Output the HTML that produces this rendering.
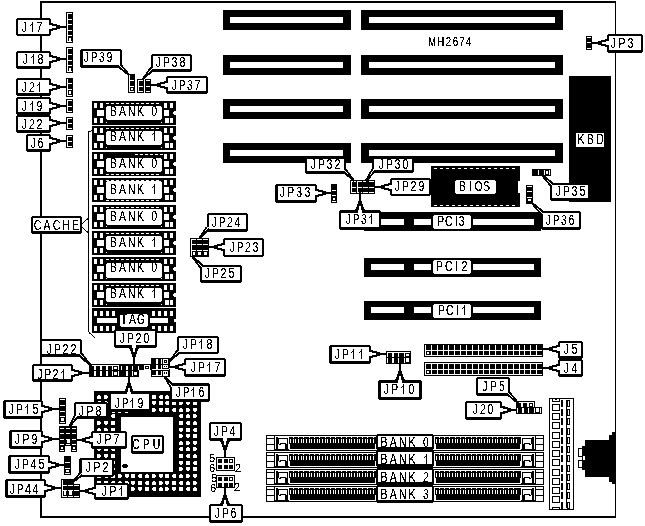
<!DOCTYPE html>
<html><head><meta charset="utf-8"><style>
html,body{margin:0;padding:0;background:#fff;width:645px;height:526px;overflow:hidden}
svg{display:block}
text{font-family:"Liberation Sans",sans-serif;fill:#000}
</style></head><body>
<svg width="645" height="526" viewBox="0 0 645 526">
<defs><filter id="th" filterUnits="userSpaceOnUse" x="0" y="0" width="645" height="526" color-interpolation-filters="sRGB">
<feComponentTransfer><feFuncR type="discrete" tableValues="0 0 0 1 1"/><feFuncG type="discrete" tableValues="0 0 0 1 1"/><feFuncB type="discrete" tableValues="0 0 0 1 1"/></feComponentTransfer></filter></defs>
<g filter="url(#th)"><rect x="0" y="0" width="645" height="526" fill="#fff"/>
<rect x="40" y="1" width="576" height="2" fill="#000"/>
<rect x="40" y="1" width="2" height="517" fill="#000"/>
<rect x="615" y="1" width="1" height="517" fill="#000"/>
<rect x="40" y="516" width="576" height="2" fill="#000"/>
<rect x="223" y="10" width="128" height="20" fill="#000"/>
<rect x="230" y="17" width="113" height="6" fill="#fff"/>
<rect x="361" y="10" width="202" height="20" fill="#000"/>
<rect x="369" y="17" width="186" height="6" fill="#fff"/>
<rect x="223" y="55" width="128" height="20" fill="#000"/>
<rect x="230" y="62" width="113" height="6" fill="#fff"/>
<rect x="361" y="55" width="202" height="20" fill="#000"/>
<rect x="369" y="62" width="186" height="6" fill="#fff"/>
<rect x="223" y="99" width="128" height="20" fill="#000"/>
<rect x="230" y="106" width="113" height="6" fill="#fff"/>
<rect x="361" y="99" width="202" height="20" fill="#000"/>
<rect x="369" y="106" width="186" height="6" fill="#fff"/>
<rect x="223" y="143" width="128" height="20" fill="#000"/>
<rect x="230" y="150" width="113" height="6" fill="#fff"/>
<rect x="361" y="143" width="202" height="20" fill="#000"/>
<rect x="369" y="150" width="186" height="6" fill="#fff"/>
<text transform="translate(432,46) scale(0.75,1)" font-size="13" text-anchor="middle">M</text>
<text transform="translate(440.7,46) scale(0.75,1)" font-size="13" text-anchor="middle">H</text>
<text transform="translate(448.4,46) scale(0.75,1)" font-size="13" text-anchor="middle">2</text>
<text transform="translate(455.5,46) scale(0.75,1)" font-size="13" text-anchor="middle">6</text>
<text transform="translate(461.9,46) scale(0.75,1)" font-size="13" text-anchor="middle">7</text>
<text transform="translate(468.5,46) scale(0.75,1)" font-size="13" text-anchor="middle">4</text>
<rect x="569" y="76" width="42" height="126" fill="#000"/>
<rect x="576" y="133" width="28" height="14" rx="0" fill="#fff"/>
<text transform="translate(581.00,144) scale(0.75,1)" font-size="14" text-anchor="middle">K</text>
<text transform="translate(590.50,144) scale(0.75,1)" font-size="14" text-anchor="middle">B</text>
<text transform="translate(600.00,144) scale(0.75,1)" font-size="14" text-anchor="middle">D</text>
<rect x="431" y="166" width="89" height="41" fill="#000"/>
<rect x="434" y="168" width="3" height="1" fill="#fff"/>
<rect x="434" y="205" width="3" height="1" fill="#fff"/>
<rect x="440" y="168" width="3" height="1" fill="#fff"/>
<rect x="440" y="205" width="3" height="1" fill="#fff"/>
<rect x="446" y="168" width="3" height="1" fill="#fff"/>
<rect x="446" y="205" width="3" height="1" fill="#fff"/>
<rect x="452" y="168" width="3" height="1" fill="#fff"/>
<rect x="452" y="205" width="3" height="1" fill="#fff"/>
<rect x="458" y="168" width="3" height="1" fill="#fff"/>
<rect x="458" y="205" width="3" height="1" fill="#fff"/>
<rect x="464" y="168" width="3" height="1" fill="#fff"/>
<rect x="464" y="205" width="3" height="1" fill="#fff"/>
<rect x="470" y="168" width="3" height="1" fill="#fff"/>
<rect x="470" y="205" width="3" height="1" fill="#fff"/>
<rect x="476" y="168" width="3" height="1" fill="#fff"/>
<rect x="476" y="205" width="3" height="1" fill="#fff"/>
<rect x="482" y="168" width="3" height="1" fill="#fff"/>
<rect x="482" y="205" width="3" height="1" fill="#fff"/>
<rect x="488" y="168" width="3" height="1" fill="#fff"/>
<rect x="488" y="205" width="3" height="1" fill="#fff"/>
<rect x="494" y="168" width="3" height="1" fill="#fff"/>
<rect x="494" y="205" width="3" height="1" fill="#fff"/>
<rect x="500" y="168" width="3" height="1" fill="#fff"/>
<rect x="500" y="205" width="3" height="1" fill="#fff"/>
<rect x="506" y="168" width="3" height="1" fill="#fff"/>
<rect x="506" y="205" width="3" height="1" fill="#fff"/>
<rect x="512" y="168" width="3" height="1" fill="#fff"/>
<rect x="512" y="205" width="3" height="1" fill="#fff"/>
<rect x="518" y="181" width="2" height="12" fill="#fff"/>
<rect x="455" y="180" width="41" height="14" rx="2" fill="#fff"/>
<text transform="translate(462.50,191) scale(0.75,1)" font-size="14" text-anchor="middle">B</text>
<text transform="translate(470.50,191) scale(0.75,1)" font-size="14" text-anchor="middle">I</text>
<text transform="translate(478.50,191) scale(0.75,1)" font-size="14" text-anchor="middle">O</text>
<text transform="translate(486.50,191) scale(0.75,1)" font-size="14" text-anchor="middle">S</text>
<rect x="364" y="212" width="177" height="19" fill="#000"/>
<rect x="371" y="219" width="33" height="6" fill="#fff"/>
<rect x="414" y="219" width="17" height="6" fill="#fff"/>
<rect x="473" y="219" width="61" height="6" fill="#fff"/>
<rect x="433" y="215" width="38" height="14" rx="2" fill="#fff"/>
<text transform="translate(440.7,226) scale(0.75,1)" font-size="14" text-anchor="middle">P</text>
<text transform="translate(448.8,226) scale(0.75,1)" font-size="14" text-anchor="middle">C</text>
<text transform="translate(456.2,226) scale(0.75,1)" font-size="14" text-anchor="middle">I</text>
<text transform="translate(461.7,226) scale(0.75,1)" font-size="14" text-anchor="middle">3</text>
<rect x="364" y="258" width="177" height="19" fill="#000"/>
<rect x="371" y="264" width="33" height="6" fill="#fff"/>
<rect x="414" y="264" width="17" height="6" fill="#fff"/>
<rect x="473" y="264" width="61" height="6" fill="#fff"/>
<rect x="433" y="260" width="38" height="14" rx="2" fill="#fff"/>
<text transform="translate(439.4,271) scale(0.75,1)" font-size="14" text-anchor="middle">P</text>
<text transform="translate(448.7,271) scale(0.75,1)" font-size="14" text-anchor="middle">C</text>
<text transform="translate(456.3,271) scale(0.75,1)" font-size="14" text-anchor="middle">I</text>
<text transform="translate(464.3,271) scale(0.75,1)" font-size="14" text-anchor="middle">2</text>
<rect x="364" y="301" width="177" height="19" fill="#000"/>
<rect x="371" y="307" width="33" height="6" fill="#fff"/>
<rect x="414" y="307" width="17" height="6" fill="#fff"/>
<rect x="473" y="307" width="61" height="6" fill="#fff"/>
<rect x="433" y="304" width="38" height="14" rx="2" fill="#fff"/>
<text transform="translate(441.6,315) scale(0.75,1)" font-size="14" text-anchor="middle">P</text>
<text transform="translate(449.8,315) scale(0.75,1)" font-size="14" text-anchor="middle">C</text>
<text transform="translate(457.3,315) scale(0.75,1)" font-size="14" text-anchor="middle">I</text>
<rect x="464" y="305" width="1" height="10" fill="#000"/>
<rect x="463" y="307" width="1" height="1" fill="#000"/>
<rect x="462" y="308" width="1" height="1" fill="#000"/>
<rect x="92" y="101" width="84" height="24" fill="#000"/>
<rect x="94" y="103" width="3" height="5" fill="#fff"/>
<rect x="100" y="103" width="3" height="5" fill="#fff"/>
<rect x="97" y="110" width="7" height="6" fill="#fff"/>
<rect x="94" y="118" width="3" height="5" fill="#fff"/>
<rect x="100" y="118" width="3" height="5" fill="#fff"/>
<rect x="164" y="103" width="3" height="5" fill="#fff"/>
<rect x="170" y="103" width="3" height="5" fill="#fff"/>
<rect x="164" y="110" width="5" height="6" fill="#fff"/>
<rect x="165" y="118" width="4" height="5" fill="#fff"/>
<rect x="170" y="118" width="3" height="5" fill="#fff"/>
<rect x="174" y="111" width="2" height="4" fill="#fff"/>
<rect x="173" y="112" width="1" height="2" fill="#fff"/>
<rect x="106" y="103" width="3" height="1" fill="#fff"/>
<rect x="111" y="103" width="3" height="1" fill="#fff"/>
<rect x="116" y="103" width="3" height="1" fill="#fff"/>
<rect x="121" y="103" width="3" height="1" fill="#fff"/>
<rect x="126" y="103" width="3" height="1" fill="#fff"/>
<rect x="131" y="103" width="3" height="1" fill="#fff"/>
<rect x="136" y="103" width="3" height="1" fill="#fff"/>
<rect x="141" y="103" width="3" height="1" fill="#fff"/>
<rect x="146" y="103" width="3" height="1" fill="#fff"/>
<rect x="151" y="103" width="3" height="1" fill="#fff"/>
<rect x="156" y="103" width="3" height="1" fill="#fff"/>
<rect x="106" y="106" width="56" height="14" rx="2" fill="#fff"/>
<rect x="106" y="122" width="1" height="1" fill="#fff"/>
<rect x="161" y="122" width="1" height="1" fill="#fff"/>
<text transform="translate(113.50,116) scale(0.75,1)" font-size="14" text-anchor="middle">B</text>
<text transform="translate(122.52,116) scale(0.75,1)" font-size="14" text-anchor="middle">A</text>
<text transform="translate(131.54,116) scale(0.75,1)" font-size="14" text-anchor="middle">N</text>
<text transform="translate(140.57,116) scale(0.75,1)" font-size="14" text-anchor="middle">K</text>
<text transform="translate(154.10,116) scale(0.75,1)" font-size="14" text-anchor="middle">0</text>
<rect x="92" y="126" width="84" height="24" fill="#000"/>
<rect x="94" y="128" width="3" height="5" fill="#fff"/>
<rect x="100" y="128" width="3" height="5" fill="#fff"/>
<rect x="97" y="135" width="7" height="6" fill="#fff"/>
<rect x="94" y="143" width="3" height="5" fill="#fff"/>
<rect x="100" y="143" width="3" height="5" fill="#fff"/>
<rect x="164" y="128" width="3" height="5" fill="#fff"/>
<rect x="170" y="128" width="3" height="5" fill="#fff"/>
<rect x="164" y="135" width="5" height="6" fill="#fff"/>
<rect x="165" y="143" width="4" height="5" fill="#fff"/>
<rect x="170" y="143" width="3" height="5" fill="#fff"/>
<rect x="174" y="136" width="2" height="4" fill="#fff"/>
<rect x="173" y="137" width="1" height="2" fill="#fff"/>
<rect x="106" y="128" width="3" height="1" fill="#fff"/>
<rect x="111" y="128" width="3" height="1" fill="#fff"/>
<rect x="116" y="128" width="3" height="1" fill="#fff"/>
<rect x="121" y="128" width="3" height="1" fill="#fff"/>
<rect x="126" y="128" width="3" height="1" fill="#fff"/>
<rect x="131" y="128" width="3" height="1" fill="#fff"/>
<rect x="136" y="128" width="3" height="1" fill="#fff"/>
<rect x="141" y="128" width="3" height="1" fill="#fff"/>
<rect x="146" y="128" width="3" height="1" fill="#fff"/>
<rect x="151" y="128" width="3" height="1" fill="#fff"/>
<rect x="156" y="128" width="3" height="1" fill="#fff"/>
<rect x="106" y="131" width="56" height="14" rx="2" fill="#fff"/>
<rect x="106" y="147" width="1" height="1" fill="#fff"/>
<rect x="161" y="147" width="1" height="1" fill="#fff"/>
<text transform="translate(113.50,141) scale(0.75,1)" font-size="14" text-anchor="middle">B</text>
<text transform="translate(122.52,141) scale(0.75,1)" font-size="14" text-anchor="middle">A</text>
<text transform="translate(131.54,141) scale(0.75,1)" font-size="14" text-anchor="middle">N</text>
<text transform="translate(140.57,141) scale(0.75,1)" font-size="14" text-anchor="middle">K</text>
<rect x="154" y="131" width="1" height="10" fill="#000"/>
<rect x="153" y="133" width="1" height="1" fill="#000"/>
<rect x="152" y="134" width="1" height="1" fill="#000"/>
<rect x="92" y="152" width="84" height="24" fill="#000"/>
<rect x="94" y="154" width="3" height="5" fill="#fff"/>
<rect x="100" y="154" width="3" height="5" fill="#fff"/>
<rect x="97" y="161" width="7" height="6" fill="#fff"/>
<rect x="94" y="169" width="3" height="5" fill="#fff"/>
<rect x="100" y="169" width="3" height="5" fill="#fff"/>
<rect x="164" y="154" width="3" height="5" fill="#fff"/>
<rect x="170" y="154" width="3" height="5" fill="#fff"/>
<rect x="164" y="161" width="5" height="6" fill="#fff"/>
<rect x="165" y="169" width="4" height="5" fill="#fff"/>
<rect x="170" y="169" width="3" height="5" fill="#fff"/>
<rect x="174" y="162" width="2" height="4" fill="#fff"/>
<rect x="173" y="163" width="1" height="2" fill="#fff"/>
<rect x="135" y="154" width="3" height="1" fill="#fff"/>
<rect x="140" y="154" width="3" height="1" fill="#fff"/>
<rect x="145" y="154" width="3" height="1" fill="#fff"/>
<rect x="150" y="154" width="3" height="1" fill="#fff"/>
<rect x="155" y="154" width="3" height="1" fill="#fff"/>
<rect x="160" y="154" width="3" height="1" fill="#fff"/>
<rect x="106" y="158" width="56" height="14" rx="2" fill="#fff"/>
<rect x="106" y="174" width="3" height="1" fill="#fff"/>
<rect x="111" y="174" width="3" height="1" fill="#fff"/>
<rect x="116" y="174" width="3" height="1" fill="#fff"/>
<rect x="121" y="174" width="3" height="1" fill="#fff"/>
<rect x="126" y="174" width="3" height="1" fill="#fff"/>
<rect x="131" y="174" width="3" height="1" fill="#fff"/>
<rect x="136" y="174" width="3" height="1" fill="#fff"/>
<rect x="141" y="174" width="3" height="1" fill="#fff"/>
<rect x="146" y="174" width="3" height="1" fill="#fff"/>
<rect x="151" y="174" width="3" height="1" fill="#fff"/>
<rect x="156" y="174" width="3" height="1" fill="#fff"/>
<text transform="translate(113.50,168) scale(0.75,1)" font-size="14" text-anchor="middle">B</text>
<text transform="translate(122.52,168) scale(0.75,1)" font-size="14" text-anchor="middle">A</text>
<text transform="translate(131.54,168) scale(0.75,1)" font-size="14" text-anchor="middle">N</text>
<text transform="translate(140.57,168) scale(0.75,1)" font-size="14" text-anchor="middle">K</text>
<text transform="translate(154.10,168) scale(0.75,1)" font-size="14" text-anchor="middle">0</text>
<rect x="92" y="178" width="84" height="24" fill="#000"/>
<rect x="94" y="180" width="3" height="5" fill="#fff"/>
<rect x="100" y="180" width="3" height="5" fill="#fff"/>
<rect x="97" y="187" width="7" height="6" fill="#fff"/>
<rect x="94" y="195" width="3" height="5" fill="#fff"/>
<rect x="100" y="195" width="3" height="5" fill="#fff"/>
<rect x="164" y="180" width="3" height="5" fill="#fff"/>
<rect x="170" y="180" width="3" height="5" fill="#fff"/>
<rect x="164" y="187" width="5" height="6" fill="#fff"/>
<rect x="165" y="195" width="4" height="5" fill="#fff"/>
<rect x="170" y="195" width="3" height="5" fill="#fff"/>
<rect x="174" y="188" width="2" height="4" fill="#fff"/>
<rect x="173" y="189" width="1" height="2" fill="#fff"/>
<rect x="106" y="180" width="3" height="1" fill="#fff"/>
<rect x="111" y="180" width="3" height="1" fill="#fff"/>
<rect x="116" y="180" width="3" height="1" fill="#fff"/>
<rect x="121" y="180" width="3" height="1" fill="#fff"/>
<rect x="126" y="180" width="3" height="1" fill="#fff"/>
<rect x="131" y="180" width="3" height="1" fill="#fff"/>
<rect x="136" y="180" width="3" height="1" fill="#fff"/>
<rect x="141" y="180" width="3" height="1" fill="#fff"/>
<rect x="146" y="180" width="3" height="1" fill="#fff"/>
<rect x="151" y="180" width="3" height="1" fill="#fff"/>
<rect x="156" y="180" width="3" height="1" fill="#fff"/>
<rect x="106" y="181" width="56" height="18" rx="2" fill="#fff"/>
<rect x="106" y="200" width="3" height="1" fill="#fff"/>
<rect x="111" y="200" width="3" height="1" fill="#fff"/>
<rect x="116" y="200" width="3" height="1" fill="#fff"/>
<rect x="121" y="200" width="3" height="1" fill="#fff"/>
<rect x="126" y="200" width="3" height="1" fill="#fff"/>
<rect x="131" y="200" width="3" height="1" fill="#fff"/>
<rect x="136" y="200" width="3" height="1" fill="#fff"/>
<rect x="141" y="200" width="3" height="1" fill="#fff"/>
<rect x="146" y="200" width="3" height="1" fill="#fff"/>
<rect x="151" y="200" width="3" height="1" fill="#fff"/>
<rect x="156" y="200" width="3" height="1" fill="#fff"/>
<text transform="translate(113.50,194) scale(0.75,1)" font-size="14" text-anchor="middle">B</text>
<text transform="translate(122.52,194) scale(0.75,1)" font-size="14" text-anchor="middle">A</text>
<text transform="translate(131.54,194) scale(0.75,1)" font-size="14" text-anchor="middle">N</text>
<text transform="translate(140.57,194) scale(0.75,1)" font-size="14" text-anchor="middle">K</text>
<rect x="154" y="184" width="1" height="10" fill="#000"/>
<rect x="153" y="186" width="1" height="1" fill="#000"/>
<rect x="152" y="187" width="1" height="1" fill="#000"/>
<rect x="92" y="205" width="84" height="24" fill="#000"/>
<rect x="94" y="207" width="3" height="5" fill="#fff"/>
<rect x="100" y="207" width="3" height="5" fill="#fff"/>
<rect x="97" y="214" width="7" height="6" fill="#fff"/>
<rect x="94" y="222" width="3" height="5" fill="#fff"/>
<rect x="100" y="222" width="3" height="5" fill="#fff"/>
<rect x="164" y="207" width="3" height="5" fill="#fff"/>
<rect x="170" y="207" width="3" height="5" fill="#fff"/>
<rect x="164" y="214" width="5" height="6" fill="#fff"/>
<rect x="165" y="222" width="4" height="5" fill="#fff"/>
<rect x="170" y="222" width="3" height="5" fill="#fff"/>
<rect x="174" y="215" width="2" height="4" fill="#fff"/>
<rect x="173" y="216" width="1" height="2" fill="#fff"/>
<rect x="106" y="207" width="3" height="1" fill="#fff"/>
<rect x="111" y="207" width="3" height="1" fill="#fff"/>
<rect x="116" y="207" width="3" height="1" fill="#fff"/>
<rect x="121" y="207" width="3" height="1" fill="#fff"/>
<rect x="126" y="207" width="3" height="1" fill="#fff"/>
<rect x="131" y="207" width="3" height="1" fill="#fff"/>
<rect x="136" y="207" width="3" height="1" fill="#fff"/>
<rect x="141" y="207" width="3" height="1" fill="#fff"/>
<rect x="146" y="207" width="3" height="1" fill="#fff"/>
<rect x="151" y="207" width="3" height="1" fill="#fff"/>
<rect x="156" y="207" width="3" height="1" fill="#fff"/>
<rect x="106" y="209" width="56" height="16" rx="2" fill="#fff"/>
<rect x="106" y="226" width="1" height="1" fill="#fff"/>
<rect x="161" y="226" width="1" height="1" fill="#fff"/>
<text transform="translate(113.50,221) scale(0.75,1)" font-size="14" text-anchor="middle">B</text>
<text transform="translate(122.52,221) scale(0.75,1)" font-size="14" text-anchor="middle">A</text>
<text transform="translate(131.54,221) scale(0.75,1)" font-size="14" text-anchor="middle">N</text>
<text transform="translate(140.57,221) scale(0.75,1)" font-size="14" text-anchor="middle">K</text>
<text transform="translate(154.10,221) scale(0.75,1)" font-size="14" text-anchor="middle">0</text>
<rect x="92" y="231" width="84" height="24" fill="#000"/>
<rect x="94" y="233" width="3" height="5" fill="#fff"/>
<rect x="100" y="233" width="3" height="5" fill="#fff"/>
<rect x="97" y="240" width="7" height="6" fill="#fff"/>
<rect x="94" y="248" width="3" height="5" fill="#fff"/>
<rect x="100" y="248" width="3" height="5" fill="#fff"/>
<rect x="164" y="233" width="3" height="5" fill="#fff"/>
<rect x="170" y="233" width="3" height="5" fill="#fff"/>
<rect x="164" y="240" width="5" height="6" fill="#fff"/>
<rect x="165" y="248" width="4" height="5" fill="#fff"/>
<rect x="170" y="248" width="3" height="5" fill="#fff"/>
<rect x="174" y="241" width="2" height="4" fill="#fff"/>
<rect x="173" y="242" width="1" height="2" fill="#fff"/>
<rect x="106" y="233" width="3" height="1" fill="#fff"/>
<rect x="111" y="233" width="3" height="1" fill="#fff"/>
<rect x="116" y="233" width="3" height="1" fill="#fff"/>
<rect x="121" y="233" width="3" height="1" fill="#fff"/>
<rect x="126" y="233" width="3" height="1" fill="#fff"/>
<rect x="131" y="233" width="3" height="1" fill="#fff"/>
<rect x="136" y="233" width="3" height="1" fill="#fff"/>
<rect x="141" y="233" width="3" height="1" fill="#fff"/>
<rect x="146" y="233" width="3" height="1" fill="#fff"/>
<rect x="151" y="233" width="3" height="1" fill="#fff"/>
<rect x="156" y="233" width="3" height="1" fill="#fff"/>
<rect x="106" y="236" width="56" height="14" rx="2" fill="#fff"/>
<rect x="106" y="252" width="1" height="1" fill="#fff"/>
<rect x="161" y="252" width="1" height="1" fill="#fff"/>
<text transform="translate(113.50,247) scale(0.75,1)" font-size="14" text-anchor="middle">B</text>
<text transform="translate(122.52,247) scale(0.75,1)" font-size="14" text-anchor="middle">A</text>
<text transform="translate(131.54,247) scale(0.75,1)" font-size="14" text-anchor="middle">N</text>
<text transform="translate(140.57,247) scale(0.75,1)" font-size="14" text-anchor="middle">K</text>
<rect x="154" y="237" width="1" height="10" fill="#000"/>
<rect x="153" y="239" width="1" height="1" fill="#000"/>
<rect x="152" y="240" width="1" height="1" fill="#000"/>
<rect x="92" y="257" width="84" height="24" fill="#000"/>
<rect x="94" y="259" width="3" height="5" fill="#fff"/>
<rect x="100" y="259" width="3" height="5" fill="#fff"/>
<rect x="97" y="266" width="7" height="6" fill="#fff"/>
<rect x="94" y="274" width="3" height="5" fill="#fff"/>
<rect x="100" y="274" width="3" height="5" fill="#fff"/>
<rect x="164" y="259" width="3" height="5" fill="#fff"/>
<rect x="170" y="259" width="3" height="5" fill="#fff"/>
<rect x="164" y="266" width="5" height="6" fill="#fff"/>
<rect x="165" y="274" width="4" height="5" fill="#fff"/>
<rect x="170" y="274" width="3" height="5" fill="#fff"/>
<rect x="174" y="267" width="2" height="4" fill="#fff"/>
<rect x="173" y="268" width="1" height="2" fill="#fff"/>
<rect x="106" y="259" width="3" height="1" fill="#fff"/>
<rect x="111" y="259" width="3" height="1" fill="#fff"/>
<rect x="116" y="259" width="3" height="1" fill="#fff"/>
<rect x="121" y="259" width="3" height="1" fill="#fff"/>
<rect x="126" y="259" width="3" height="1" fill="#fff"/>
<rect x="131" y="259" width="3" height="1" fill="#fff"/>
<rect x="136" y="259" width="3" height="1" fill="#fff"/>
<rect x="141" y="259" width="3" height="1" fill="#fff"/>
<rect x="146" y="259" width="3" height="1" fill="#fff"/>
<rect x="151" y="259" width="3" height="1" fill="#fff"/>
<rect x="156" y="259" width="3" height="1" fill="#fff"/>
<rect x="106" y="263" width="56" height="15" rx="2" fill="#fff"/>
<rect x="106" y="278" width="1" height="1" fill="#fff"/>
<rect x="161" y="278" width="1" height="1" fill="#fff"/>
<text transform="translate(113.50,272) scale(0.75,1)" font-size="14" text-anchor="middle">B</text>
<text transform="translate(122.52,272) scale(0.75,1)" font-size="14" text-anchor="middle">A</text>
<text transform="translate(131.54,272) scale(0.75,1)" font-size="14" text-anchor="middle">N</text>
<text transform="translate(140.57,272) scale(0.75,1)" font-size="14" text-anchor="middle">K</text>
<text transform="translate(154.10,272) scale(0.75,1)" font-size="14" text-anchor="middle">0</text>
<rect x="92" y="283" width="84" height="24" fill="#000"/>
<rect x="94" y="285" width="3" height="5" fill="#fff"/>
<rect x="100" y="285" width="3" height="5" fill="#fff"/>
<rect x="97" y="292" width="7" height="6" fill="#fff"/>
<rect x="94" y="300" width="3" height="5" fill="#fff"/>
<rect x="100" y="300" width="3" height="5" fill="#fff"/>
<rect x="164" y="285" width="3" height="5" fill="#fff"/>
<rect x="170" y="285" width="3" height="5" fill="#fff"/>
<rect x="164" y="292" width="5" height="6" fill="#fff"/>
<rect x="165" y="300" width="4" height="5" fill="#fff"/>
<rect x="170" y="300" width="3" height="5" fill="#fff"/>
<rect x="174" y="293" width="2" height="4" fill="#fff"/>
<rect x="173" y="294" width="1" height="2" fill="#fff"/>
<rect x="106" y="285" width="3" height="1" fill="#fff"/>
<rect x="111" y="285" width="3" height="1" fill="#fff"/>
<rect x="116" y="285" width="3" height="1" fill="#fff"/>
<rect x="121" y="285" width="3" height="1" fill="#fff"/>
<rect x="126" y="285" width="3" height="1" fill="#fff"/>
<rect x="131" y="285" width="3" height="1" fill="#fff"/>
<rect x="136" y="285" width="3" height="1" fill="#fff"/>
<rect x="141" y="285" width="3" height="1" fill="#fff"/>
<rect x="146" y="285" width="3" height="1" fill="#fff"/>
<rect x="151" y="285" width="3" height="1" fill="#fff"/>
<rect x="156" y="285" width="3" height="1" fill="#fff"/>
<rect x="106" y="288" width="56" height="14" rx="2" fill="#fff"/>
<rect x="106" y="304" width="1" height="1" fill="#fff"/>
<rect x="161" y="304" width="1" height="1" fill="#fff"/>
<text transform="translate(113.50,298) scale(0.75,1)" font-size="14" text-anchor="middle">B</text>
<text transform="translate(122.52,298) scale(0.75,1)" font-size="14" text-anchor="middle">A</text>
<text transform="translate(131.54,298) scale(0.75,1)" font-size="14" text-anchor="middle">N</text>
<text transform="translate(140.57,298) scale(0.75,1)" font-size="14" text-anchor="middle">K</text>
<rect x="154" y="288" width="1" height="10" fill="#000"/>
<rect x="153" y="290" width="1" height="1" fill="#000"/>
<rect x="152" y="291" width="1" height="1" fill="#000"/>
<rect x="92" y="308" width="84" height="25" fill="#000"/>
<rect x="94" y="311" width="3" height="5" fill="#fff"/>
<rect x="94" y="326" width="3" height="5" fill="#fff"/>
<rect x="100" y="311" width="3" height="5" fill="#fff"/>
<rect x="100" y="326" width="3" height="5" fill="#fff"/>
<rect x="106" y="311" width="3" height="5" fill="#fff"/>
<rect x="106" y="326" width="3" height="5" fill="#fff"/>
<rect x="112" y="311" width="3" height="5" fill="#fff"/>
<rect x="112" y="326" width="3" height="5" fill="#fff"/>
<rect x="152" y="311" width="3" height="5" fill="#fff"/>
<rect x="152" y="326" width="3" height="5" fill="#fff"/>
<rect x="158" y="311" width="3" height="5" fill="#fff"/>
<rect x="158" y="326" width="3" height="5" fill="#fff"/>
<rect x="164" y="311" width="3" height="5" fill="#fff"/>
<rect x="164" y="326" width="3" height="5" fill="#fff"/>
<rect x="170" y="311" width="3" height="5" fill="#fff"/>
<rect x="170" y="326" width="3" height="5" fill="#fff"/>
<rect x="97" y="318" width="20" height="5" fill="#fff"/>
<rect x="150" y="318" width="18" height="5" fill="#fff"/>
<rect x="174" y="319" width="2" height="3" fill="#fff"/>
<rect x="120" y="314" width="28" height="13" rx="2" fill="#fff"/>
<text transform="translate(124.00,324) scale(0.75,1)" font-size="14" text-anchor="middle">T</text>
<text transform="translate(132.50,324) scale(0.75,1)" font-size="14" text-anchor="middle">A</text>
<text transform="translate(141.00,324) scale(0.75,1)" font-size="14" text-anchor="middle">G</text>
<polyline points="88.5,132 88.5,332 95,338" fill="none" stroke="#000" stroke-width="1" stroke-linejoin="miter" stroke-linecap="square"/>
<rect x="89" y="131" width="2" height="1" fill="#000"/>
<rect x="91" y="130" width="1" height="1" fill="#000"/>
<rect x="94" y="391" width="107" height="106" fill="#000"/>
<rect x="97" y="395" width="4" height="4" fill="#fff"/>
<rect x="97" y="395" width="1" height="1" fill="#000"/>
<rect x="100" y="395" width="1" height="1" fill="#000"/>
<rect x="104" y="395" width="4" height="4" fill="#fff"/>
<rect x="107" y="395" width="1" height="1" fill="#000"/>
<rect x="107" y="398" width="1" height="1" fill="#000"/>
<rect x="111" y="395" width="4" height="4" fill="#fff"/>
<rect x="111" y="398" width="1" height="1" fill="#000"/>
<rect x="114" y="398" width="1" height="1" fill="#000"/>
<rect x="118" y="395" width="4" height="4" fill="#fff"/>
<rect x="125" y="395" width="4" height="4" fill="#fff"/>
<rect x="125" y="395" width="1" height="1" fill="#000"/>
<rect x="125" y="398" width="1" height="1" fill="#000"/>
<rect x="131" y="395" width="4" height="4" fill="#fff"/>
<rect x="131" y="395" width="1" height="1" fill="#000"/>
<rect x="134" y="395" width="1" height="1" fill="#000"/>
<rect x="138" y="395" width="4" height="4" fill="#fff"/>
<rect x="141" y="395" width="1" height="1" fill="#000"/>
<rect x="141" y="398" width="1" height="1" fill="#000"/>
<rect x="145" y="395" width="4" height="4" fill="#fff"/>
<rect x="145" y="398" width="1" height="1" fill="#000"/>
<rect x="148" y="398" width="1" height="1" fill="#000"/>
<rect x="152" y="395" width="4" height="4" fill="#fff"/>
<rect x="159" y="395" width="4" height="4" fill="#fff"/>
<rect x="159" y="395" width="1" height="1" fill="#000"/>
<rect x="159" y="398" width="1" height="1" fill="#000"/>
<rect x="165" y="395" width="4" height="4" fill="#fff"/>
<rect x="165" y="395" width="1" height="1" fill="#000"/>
<rect x="168" y="395" width="1" height="1" fill="#000"/>
<rect x="172" y="395" width="4" height="4" fill="#fff"/>
<rect x="175" y="395" width="1" height="1" fill="#000"/>
<rect x="175" y="398" width="1" height="1" fill="#000"/>
<rect x="179" y="395" width="4" height="4" fill="#fff"/>
<rect x="179" y="398" width="1" height="1" fill="#000"/>
<rect x="182" y="398" width="1" height="1" fill="#000"/>
<rect x="186" y="395" width="4" height="4" fill="#fff"/>
<rect x="193" y="395" width="4" height="4" fill="#fff"/>
<rect x="193" y="395" width="1" height="1" fill="#000"/>
<rect x="193" y="398" width="1" height="1" fill="#000"/>
<rect x="97" y="401" width="4" height="4" fill="#fff"/>
<rect x="97" y="401" width="1" height="1" fill="#000"/>
<rect x="97" y="404" width="1" height="1" fill="#000"/>
<rect x="104" y="401" width="4" height="4" fill="#fff"/>
<rect x="104" y="401" width="1" height="1" fill="#000"/>
<rect x="107" y="401" width="1" height="1" fill="#000"/>
<rect x="111" y="401" width="4" height="4" fill="#fff"/>
<rect x="114" y="401" width="1" height="1" fill="#000"/>
<rect x="114" y="404" width="1" height="1" fill="#000"/>
<rect x="118" y="401" width="4" height="4" fill="#fff"/>
<rect x="118" y="404" width="1" height="1" fill="#000"/>
<rect x="121" y="404" width="1" height="1" fill="#000"/>
<rect x="125" y="401" width="4" height="4" fill="#fff"/>
<rect x="131" y="401" width="4" height="4" fill="#fff"/>
<rect x="131" y="401" width="1" height="1" fill="#000"/>
<rect x="131" y="404" width="1" height="1" fill="#000"/>
<rect x="138" y="401" width="4" height="4" fill="#fff"/>
<rect x="138" y="401" width="1" height="1" fill="#000"/>
<rect x="141" y="401" width="1" height="1" fill="#000"/>
<rect x="145" y="401" width="4" height="4" fill="#fff"/>
<rect x="148" y="401" width="1" height="1" fill="#000"/>
<rect x="148" y="404" width="1" height="1" fill="#000"/>
<rect x="152" y="401" width="4" height="4" fill="#fff"/>
<rect x="152" y="404" width="1" height="1" fill="#000"/>
<rect x="155" y="404" width="1" height="1" fill="#000"/>
<rect x="159" y="401" width="4" height="4" fill="#fff"/>
<rect x="165" y="401" width="4" height="4" fill="#fff"/>
<rect x="165" y="401" width="1" height="1" fill="#000"/>
<rect x="165" y="404" width="1" height="1" fill="#000"/>
<rect x="172" y="401" width="4" height="4" fill="#fff"/>
<rect x="172" y="401" width="1" height="1" fill="#000"/>
<rect x="175" y="401" width="1" height="1" fill="#000"/>
<rect x="179" y="401" width="4" height="4" fill="#fff"/>
<rect x="182" y="401" width="1" height="1" fill="#000"/>
<rect x="182" y="404" width="1" height="1" fill="#000"/>
<rect x="186" y="401" width="4" height="4" fill="#fff"/>
<rect x="186" y="404" width="1" height="1" fill="#000"/>
<rect x="189" y="404" width="1" height="1" fill="#000"/>
<rect x="193" y="401" width="4" height="4" fill="#fff"/>
<rect x="97" y="408" width="4" height="4" fill="#fff"/>
<rect x="104" y="408" width="4" height="4" fill="#fff"/>
<rect x="104" y="408" width="1" height="1" fill="#000"/>
<rect x="104" y="411" width="1" height="1" fill="#000"/>
<rect x="111" y="408" width="4" height="4" fill="#fff"/>
<rect x="111" y="408" width="1" height="1" fill="#000"/>
<rect x="114" y="408" width="1" height="1" fill="#000"/>
<rect x="118" y="408" width="4" height="4" fill="#fff"/>
<rect x="121" y="408" width="1" height="1" fill="#000"/>
<rect x="121" y="411" width="1" height="1" fill="#000"/>
<rect x="125" y="408" width="4" height="4" fill="#fff"/>
<rect x="125" y="411" width="1" height="1" fill="#000"/>
<rect x="128" y="411" width="1" height="1" fill="#000"/>
<rect x="131" y="408" width="4" height="4" fill="#fff"/>
<rect x="138" y="408" width="4" height="4" fill="#fff"/>
<rect x="138" y="408" width="1" height="1" fill="#000"/>
<rect x="138" y="411" width="1" height="1" fill="#000"/>
<rect x="145" y="408" width="4" height="4" fill="#fff"/>
<rect x="145" y="408" width="1" height="1" fill="#000"/>
<rect x="148" y="408" width="1" height="1" fill="#000"/>
<rect x="152" y="408" width="4" height="4" fill="#fff"/>
<rect x="155" y="408" width="1" height="1" fill="#000"/>
<rect x="155" y="411" width="1" height="1" fill="#000"/>
<rect x="159" y="408" width="4" height="4" fill="#fff"/>
<rect x="159" y="411" width="1" height="1" fill="#000"/>
<rect x="162" y="411" width="1" height="1" fill="#000"/>
<rect x="165" y="408" width="4" height="4" fill="#fff"/>
<rect x="172" y="408" width="4" height="4" fill="#fff"/>
<rect x="172" y="408" width="1" height="1" fill="#000"/>
<rect x="172" y="411" width="1" height="1" fill="#000"/>
<rect x="179" y="408" width="4" height="4" fill="#fff"/>
<rect x="179" y="408" width="1" height="1" fill="#000"/>
<rect x="182" y="408" width="1" height="1" fill="#000"/>
<rect x="186" y="408" width="4" height="4" fill="#fff"/>
<rect x="189" y="408" width="1" height="1" fill="#000"/>
<rect x="189" y="411" width="1" height="1" fill="#000"/>
<rect x="193" y="408" width="4" height="4" fill="#fff"/>
<rect x="193" y="411" width="1" height="1" fill="#000"/>
<rect x="196" y="411" width="1" height="1" fill="#000"/>
<rect x="97" y="414" width="4" height="4" fill="#fff"/>
<rect x="97" y="417" width="1" height="1" fill="#000"/>
<rect x="100" y="417" width="1" height="1" fill="#000"/>
<rect x="104" y="414" width="4" height="4" fill="#fff"/>
<rect x="111" y="414" width="4" height="4" fill="#fff"/>
<rect x="111" y="414" width="1" height="1" fill="#000"/>
<rect x="111" y="417" width="1" height="1" fill="#000"/>
<rect x="179" y="414" width="4" height="4" fill="#fff"/>
<rect x="179" y="414" width="1" height="1" fill="#000"/>
<rect x="179" y="417" width="1" height="1" fill="#000"/>
<rect x="186" y="414" width="4" height="4" fill="#fff"/>
<rect x="186" y="414" width="1" height="1" fill="#000"/>
<rect x="189" y="414" width="1" height="1" fill="#000"/>
<rect x="193" y="414" width="4" height="4" fill="#fff"/>
<rect x="196" y="414" width="1" height="1" fill="#000"/>
<rect x="196" y="417" width="1" height="1" fill="#000"/>
<rect x="97" y="421" width="4" height="4" fill="#fff"/>
<rect x="100" y="421" width="1" height="1" fill="#000"/>
<rect x="100" y="424" width="1" height="1" fill="#000"/>
<rect x="104" y="421" width="4" height="4" fill="#fff"/>
<rect x="104" y="424" width="1" height="1" fill="#000"/>
<rect x="107" y="424" width="1" height="1" fill="#000"/>
<rect x="111" y="421" width="4" height="4" fill="#fff"/>
<rect x="179" y="421" width="4" height="4" fill="#fff"/>
<rect x="186" y="421" width="4" height="4" fill="#fff"/>
<rect x="186" y="421" width="1" height="1" fill="#000"/>
<rect x="186" y="424" width="1" height="1" fill="#000"/>
<rect x="193" y="421" width="4" height="4" fill="#fff"/>
<rect x="193" y="421" width="1" height="1" fill="#000"/>
<rect x="196" y="421" width="1" height="1" fill="#000"/>
<rect x="97" y="428" width="4" height="4" fill="#fff"/>
<rect x="97" y="428" width="1" height="1" fill="#000"/>
<rect x="100" y="428" width="1" height="1" fill="#000"/>
<rect x="104" y="428" width="4" height="4" fill="#fff"/>
<rect x="107" y="428" width="1" height="1" fill="#000"/>
<rect x="107" y="431" width="1" height="1" fill="#000"/>
<rect x="111" y="428" width="4" height="4" fill="#fff"/>
<rect x="111" y="431" width="1" height="1" fill="#000"/>
<rect x="114" y="431" width="1" height="1" fill="#000"/>
<rect x="179" y="428" width="4" height="4" fill="#fff"/>
<rect x="179" y="431" width="1" height="1" fill="#000"/>
<rect x="182" y="431" width="1" height="1" fill="#000"/>
<rect x="186" y="428" width="4" height="4" fill="#fff"/>
<rect x="193" y="428" width="4" height="4" fill="#fff"/>
<rect x="193" y="428" width="1" height="1" fill="#000"/>
<rect x="193" y="431" width="1" height="1" fill="#000"/>
<rect x="97" y="434" width="4" height="4" fill="#fff"/>
<rect x="97" y="434" width="1" height="1" fill="#000"/>
<rect x="97" y="437" width="1" height="1" fill="#000"/>
<rect x="104" y="434" width="4" height="4" fill="#fff"/>
<rect x="104" y="434" width="1" height="1" fill="#000"/>
<rect x="107" y="434" width="1" height="1" fill="#000"/>
<rect x="111" y="434" width="4" height="4" fill="#fff"/>
<rect x="114" y="434" width="1" height="1" fill="#000"/>
<rect x="114" y="437" width="1" height="1" fill="#000"/>
<rect x="179" y="434" width="4" height="4" fill="#fff"/>
<rect x="182" y="434" width="1" height="1" fill="#000"/>
<rect x="182" y="437" width="1" height="1" fill="#000"/>
<rect x="186" y="434" width="4" height="4" fill="#fff"/>
<rect x="186" y="437" width="1" height="1" fill="#000"/>
<rect x="189" y="437" width="1" height="1" fill="#000"/>
<rect x="193" y="434" width="4" height="4" fill="#fff"/>
<rect x="97" y="441" width="4" height="4" fill="#fff"/>
<rect x="104" y="441" width="4" height="4" fill="#fff"/>
<rect x="104" y="441" width="1" height="1" fill="#000"/>
<rect x="104" y="444" width="1" height="1" fill="#000"/>
<rect x="111" y="441" width="4" height="4" fill="#fff"/>
<rect x="111" y="441" width="1" height="1" fill="#000"/>
<rect x="114" y="441" width="1" height="1" fill="#000"/>
<rect x="179" y="441" width="4" height="4" fill="#fff"/>
<rect x="179" y="441" width="1" height="1" fill="#000"/>
<rect x="182" y="441" width="1" height="1" fill="#000"/>
<rect x="186" y="441" width="4" height="4" fill="#fff"/>
<rect x="189" y="441" width="1" height="1" fill="#000"/>
<rect x="189" y="444" width="1" height="1" fill="#000"/>
<rect x="193" y="441" width="4" height="4" fill="#fff"/>
<rect x="193" y="444" width="1" height="1" fill="#000"/>
<rect x="196" y="444" width="1" height="1" fill="#000"/>
<rect x="97" y="447" width="4" height="4" fill="#fff"/>
<rect x="97" y="450" width="1" height="1" fill="#000"/>
<rect x="100" y="450" width="1" height="1" fill="#000"/>
<rect x="104" y="447" width="4" height="4" fill="#fff"/>
<rect x="111" y="447" width="4" height="4" fill="#fff"/>
<rect x="111" y="447" width="1" height="1" fill="#000"/>
<rect x="111" y="450" width="1" height="1" fill="#000"/>
<rect x="179" y="447" width="4" height="4" fill="#fff"/>
<rect x="179" y="447" width="1" height="1" fill="#000"/>
<rect x="179" y="450" width="1" height="1" fill="#000"/>
<rect x="186" y="447" width="4" height="4" fill="#fff"/>
<rect x="186" y="447" width="1" height="1" fill="#000"/>
<rect x="189" y="447" width="1" height="1" fill="#000"/>
<rect x="193" y="447" width="4" height="4" fill="#fff"/>
<rect x="196" y="447" width="1" height="1" fill="#000"/>
<rect x="196" y="450" width="1" height="1" fill="#000"/>
<rect x="97" y="454" width="4" height="4" fill="#fff"/>
<rect x="100" y="454" width="1" height="1" fill="#000"/>
<rect x="100" y="457" width="1" height="1" fill="#000"/>
<rect x="104" y="454" width="4" height="4" fill="#fff"/>
<rect x="104" y="457" width="1" height="1" fill="#000"/>
<rect x="107" y="457" width="1" height="1" fill="#000"/>
<rect x="111" y="454" width="4" height="4" fill="#fff"/>
<rect x="179" y="454" width="4" height="4" fill="#fff"/>
<rect x="186" y="454" width="4" height="4" fill="#fff"/>
<rect x="186" y="454" width="1" height="1" fill="#000"/>
<rect x="186" y="457" width="1" height="1" fill="#000"/>
<rect x="193" y="454" width="4" height="4" fill="#fff"/>
<rect x="193" y="454" width="1" height="1" fill="#000"/>
<rect x="196" y="454" width="1" height="1" fill="#000"/>
<rect x="97" y="461" width="4" height="4" fill="#fff"/>
<rect x="97" y="461" width="1" height="1" fill="#000"/>
<rect x="100" y="461" width="1" height="1" fill="#000"/>
<rect x="104" y="461" width="4" height="4" fill="#fff"/>
<rect x="107" y="461" width="1" height="1" fill="#000"/>
<rect x="107" y="464" width="1" height="1" fill="#000"/>
<rect x="111" y="461" width="4" height="4" fill="#fff"/>
<rect x="111" y="464" width="1" height="1" fill="#000"/>
<rect x="114" y="464" width="1" height="1" fill="#000"/>
<rect x="179" y="461" width="4" height="4" fill="#fff"/>
<rect x="179" y="464" width="1" height="1" fill="#000"/>
<rect x="182" y="464" width="1" height="1" fill="#000"/>
<rect x="186" y="461" width="4" height="4" fill="#fff"/>
<rect x="193" y="461" width="4" height="4" fill="#fff"/>
<rect x="193" y="461" width="1" height="1" fill="#000"/>
<rect x="193" y="464" width="1" height="1" fill="#000"/>
<rect x="97" y="467" width="4" height="4" fill="#fff"/>
<rect x="97" y="467" width="1" height="1" fill="#000"/>
<rect x="97" y="470" width="1" height="1" fill="#000"/>
<rect x="104" y="467" width="4" height="4" fill="#fff"/>
<rect x="104" y="467" width="1" height="1" fill="#000"/>
<rect x="107" y="467" width="1" height="1" fill="#000"/>
<rect x="111" y="467" width="4" height="4" fill="#fff"/>
<rect x="114" y="467" width="1" height="1" fill="#000"/>
<rect x="114" y="470" width="1" height="1" fill="#000"/>
<rect x="179" y="467" width="4" height="4" fill="#fff"/>
<rect x="182" y="467" width="1" height="1" fill="#000"/>
<rect x="182" y="470" width="1" height="1" fill="#000"/>
<rect x="186" y="467" width="4" height="4" fill="#fff"/>
<rect x="186" y="470" width="1" height="1" fill="#000"/>
<rect x="189" y="470" width="1" height="1" fill="#000"/>
<rect x="193" y="467" width="4" height="4" fill="#fff"/>
<rect x="97" y="474" width="4" height="4" fill="#fff"/>
<rect x="104" y="474" width="4" height="4" fill="#fff"/>
<rect x="104" y="474" width="1" height="1" fill="#000"/>
<rect x="104" y="477" width="1" height="1" fill="#000"/>
<rect x="111" y="474" width="4" height="4" fill="#fff"/>
<rect x="111" y="474" width="1" height="1" fill="#000"/>
<rect x="114" y="474" width="1" height="1" fill="#000"/>
<rect x="118" y="474" width="4" height="4" fill="#fff"/>
<rect x="121" y="474" width="1" height="1" fill="#000"/>
<rect x="121" y="477" width="1" height="1" fill="#000"/>
<rect x="125" y="474" width="4" height="4" fill="#fff"/>
<rect x="125" y="477" width="1" height="1" fill="#000"/>
<rect x="128" y="477" width="1" height="1" fill="#000"/>
<rect x="131" y="474" width="4" height="4" fill="#fff"/>
<rect x="138" y="474" width="4" height="4" fill="#fff"/>
<rect x="138" y="474" width="1" height="1" fill="#000"/>
<rect x="138" y="477" width="1" height="1" fill="#000"/>
<rect x="145" y="474" width="4" height="4" fill="#fff"/>
<rect x="145" y="474" width="1" height="1" fill="#000"/>
<rect x="148" y="474" width="1" height="1" fill="#000"/>
<rect x="152" y="474" width="4" height="4" fill="#fff"/>
<rect x="155" y="474" width="1" height="1" fill="#000"/>
<rect x="155" y="477" width="1" height="1" fill="#000"/>
<rect x="159" y="474" width="4" height="4" fill="#fff"/>
<rect x="159" y="477" width="1" height="1" fill="#000"/>
<rect x="162" y="477" width="1" height="1" fill="#000"/>
<rect x="165" y="474" width="4" height="4" fill="#fff"/>
<rect x="172" y="474" width="4" height="4" fill="#fff"/>
<rect x="172" y="474" width="1" height="1" fill="#000"/>
<rect x="172" y="477" width="1" height="1" fill="#000"/>
<rect x="179" y="474" width="4" height="4" fill="#fff"/>
<rect x="179" y="474" width="1" height="1" fill="#000"/>
<rect x="182" y="474" width="1" height="1" fill="#000"/>
<rect x="186" y="474" width="4" height="4" fill="#fff"/>
<rect x="189" y="474" width="1" height="1" fill="#000"/>
<rect x="189" y="477" width="1" height="1" fill="#000"/>
<rect x="193" y="474" width="4" height="4" fill="#fff"/>
<rect x="193" y="477" width="1" height="1" fill="#000"/>
<rect x="196" y="477" width="1" height="1" fill="#000"/>
<rect x="97" y="481" width="4" height="4" fill="#fff"/>
<rect x="97" y="484" width="1" height="1" fill="#000"/>
<rect x="100" y="484" width="1" height="1" fill="#000"/>
<rect x="104" y="481" width="4" height="4" fill="#fff"/>
<rect x="111" y="481" width="4" height="4" fill="#fff"/>
<rect x="111" y="481" width="1" height="1" fill="#000"/>
<rect x="111" y="484" width="1" height="1" fill="#000"/>
<rect x="118" y="481" width="4" height="4" fill="#fff"/>
<rect x="118" y="481" width="1" height="1" fill="#000"/>
<rect x="121" y="481" width="1" height="1" fill="#000"/>
<rect x="125" y="481" width="4" height="4" fill="#fff"/>
<rect x="128" y="481" width="1" height="1" fill="#000"/>
<rect x="128" y="484" width="1" height="1" fill="#000"/>
<rect x="131" y="481" width="4" height="4" fill="#fff"/>
<rect x="131" y="484" width="1" height="1" fill="#000"/>
<rect x="134" y="484" width="1" height="1" fill="#000"/>
<rect x="138" y="481" width="4" height="4" fill="#fff"/>
<rect x="145" y="481" width="4" height="4" fill="#fff"/>
<rect x="145" y="481" width="1" height="1" fill="#000"/>
<rect x="145" y="484" width="1" height="1" fill="#000"/>
<rect x="152" y="481" width="4" height="4" fill="#fff"/>
<rect x="152" y="481" width="1" height="1" fill="#000"/>
<rect x="155" y="481" width="1" height="1" fill="#000"/>
<rect x="159" y="481" width="4" height="4" fill="#fff"/>
<rect x="162" y="481" width="1" height="1" fill="#000"/>
<rect x="162" y="484" width="1" height="1" fill="#000"/>
<rect x="165" y="481" width="4" height="4" fill="#fff"/>
<rect x="165" y="484" width="1" height="1" fill="#000"/>
<rect x="168" y="484" width="1" height="1" fill="#000"/>
<rect x="172" y="481" width="4" height="4" fill="#fff"/>
<rect x="179" y="481" width="4" height="4" fill="#fff"/>
<rect x="179" y="481" width="1" height="1" fill="#000"/>
<rect x="179" y="484" width="1" height="1" fill="#000"/>
<rect x="186" y="481" width="4" height="4" fill="#fff"/>
<rect x="186" y="481" width="1" height="1" fill="#000"/>
<rect x="189" y="481" width="1" height="1" fill="#000"/>
<rect x="193" y="481" width="4" height="4" fill="#fff"/>
<rect x="196" y="481" width="1" height="1" fill="#000"/>
<rect x="196" y="484" width="1" height="1" fill="#000"/>
<rect x="97" y="487" width="4" height="4" fill="#fff"/>
<rect x="100" y="487" width="1" height="1" fill="#000"/>
<rect x="100" y="490" width="1" height="1" fill="#000"/>
<rect x="104" y="487" width="4" height="4" fill="#fff"/>
<rect x="104" y="490" width="1" height="1" fill="#000"/>
<rect x="107" y="490" width="1" height="1" fill="#000"/>
<rect x="111" y="487" width="4" height="4" fill="#fff"/>
<rect x="118" y="487" width="4" height="4" fill="#fff"/>
<rect x="118" y="487" width="1" height="1" fill="#000"/>
<rect x="118" y="490" width="1" height="1" fill="#000"/>
<rect x="125" y="487" width="4" height="4" fill="#fff"/>
<rect x="125" y="487" width="1" height="1" fill="#000"/>
<rect x="128" y="487" width="1" height="1" fill="#000"/>
<rect x="131" y="487" width="4" height="4" fill="#fff"/>
<rect x="134" y="487" width="1" height="1" fill="#000"/>
<rect x="134" y="490" width="1" height="1" fill="#000"/>
<rect x="138" y="487" width="4" height="4" fill="#fff"/>
<rect x="138" y="490" width="1" height="1" fill="#000"/>
<rect x="141" y="490" width="1" height="1" fill="#000"/>
<rect x="145" y="487" width="4" height="4" fill="#fff"/>
<rect x="152" y="487" width="4" height="4" fill="#fff"/>
<rect x="152" y="487" width="1" height="1" fill="#000"/>
<rect x="152" y="490" width="1" height="1" fill="#000"/>
<rect x="159" y="487" width="4" height="4" fill="#fff"/>
<rect x="159" y="487" width="1" height="1" fill="#000"/>
<rect x="162" y="487" width="1" height="1" fill="#000"/>
<rect x="165" y="487" width="4" height="4" fill="#fff"/>
<rect x="168" y="487" width="1" height="1" fill="#000"/>
<rect x="168" y="490" width="1" height="1" fill="#000"/>
<rect x="172" y="487" width="4" height="4" fill="#fff"/>
<rect x="172" y="490" width="1" height="1" fill="#000"/>
<rect x="175" y="490" width="1" height="1" fill="#000"/>
<rect x="179" y="487" width="4" height="4" fill="#fff"/>
<rect x="186" y="487" width="4" height="4" fill="#fff"/>
<rect x="186" y="487" width="1" height="1" fill="#000"/>
<rect x="186" y="490" width="1" height="1" fill="#000"/>
<rect x="193" y="487" width="4" height="4" fill="#fff"/>
<rect x="193" y="487" width="1" height="1" fill="#000"/>
<rect x="196" y="487" width="1" height="1" fill="#000"/>
<rect x="121" y="417" width="52" height="55" fill="#fff"/>
<rect x="112" y="412" width="3" height="1" fill="#fff"/>
<rect x="118" y="412" width="3" height="1" fill="#fff"/>
<rect x="125" y="412" width="3" height="1" fill="#fff"/>
<circle cx="125" cy="466" r="2.5" fill="#000"/>
<rect x="131" y="435" width="33" height="19" rx="2" fill="#000"/>
<rect x="133" y="437" width="29" height="14" rx="1" fill="#fff"/>
<text transform="translate(136.00,449) scale(0.75,1)" font-size="14" text-anchor="middle">C</text>
<text transform="translate(146.30,449) scale(0.75,1)" font-size="14" text-anchor="middle">P</text>
<text transform="translate(156.60,449) scale(0.75,1)" font-size="14" text-anchor="middle">U</text>
<rect x="66" y="12" width="7" height="31" fill="#000"/>
<rect x="67" y="13" width="1" height="29" fill="#fff"/>
<rect x="67" y="13" width="5" height="1" fill="#fff"/>
<rect x="67" y="19" width="5" height="1" fill="#fff"/>
<rect x="67" y="24" width="5" height="1" fill="#fff"/>
<rect x="67" y="30" width="5" height="1" fill="#fff"/>
<rect x="67" y="35" width="5" height="1" fill="#fff"/>
<rect x="67" y="41" width="5" height="1" fill="#fff"/>
<rect x="69" y="38" width="2" height="3" fill="#fff"/>
<rect x="66" y="47" width="7" height="26" fill="#000"/>
<rect x="67" y="48" width="1" height="24" fill="#fff"/>
<rect x="67" y="48" width="5" height="1" fill="#fff"/>
<rect x="67" y="54" width="5" height="1" fill="#fff"/>
<rect x="67" y="60" width="5" height="1" fill="#fff"/>
<rect x="67" y="65" width="5" height="1" fill="#fff"/>
<rect x="67" y="71" width="5" height="1" fill="#fff"/>
<rect x="69" y="68" width="2" height="3" fill="#fff"/>
<rect x="66" y="78" width="7" height="19" fill="#000"/>
<rect x="67" y="79" width="1" height="17" fill="#fff"/>
<rect x="67" y="83" width="5" height="1" fill="#fff"/>
<rect x="67" y="89" width="5" height="1" fill="#fff"/>
<rect x="67" y="95" width="5" height="1" fill="#fff"/>
<rect x="69" y="91" width="2" height="3" fill="#fff"/>
<rect x="66" y="99" width="7" height="14" fill="#000"/>
<rect x="67" y="100" width="1" height="12" fill="#fff"/>
<rect x="67" y="100" width="5" height="1" fill="#fff"/>
<rect x="67" y="106" width="5" height="1" fill="#fff"/>
<rect x="67" y="111" width="5" height="1" fill="#fff"/>
<rect x="66" y="117" width="7" height="13" fill="#000"/>
<rect x="67" y="118" width="1" height="11" fill="#fff"/>
<rect x="67" y="118" width="5" height="1" fill="#fff"/>
<rect x="67" y="123" width="5" height="1" fill="#fff"/>
<rect x="67" y="128" width="5" height="1" fill="#fff"/>
<rect x="66" y="135" width="7" height="13" fill="#000"/>
<rect x="67" y="136" width="1" height="11" fill="#fff"/>
<rect x="67" y="136" width="5" height="1" fill="#fff"/>
<rect x="67" y="141" width="5" height="1" fill="#fff"/>
<rect x="67" y="146" width="5" height="1" fill="#fff"/>
<polyline points="61,27 66,27" fill="none" stroke="#000" stroke-width="2" stroke-linejoin="miter" stroke-linecap="square"/>
<rect x="16" y="18" width="35" height="18" rx="2" fill="#000"/>
<rect x="18" y="20" width="31" height="14" rx="1" fill="#fff"/>
<polygon points="50,22.5 61,26 61,28 50,31.5" fill="#000"/>
<polygon points="48,24.5 58,27 48,29.5" fill="#fff"/>
<text transform="translate(24.50,32) scale(0.75,1)" font-size="14" text-anchor="middle">J</text>
<rect x="32" y="22" width="1" height="10" fill="#000"/>
<rect x="31" y="24" width="1" height="1" fill="#000"/>
<rect x="30" y="25" width="1" height="1" fill="#000"/>
<text transform="translate(39.50,32) scale(0.75,1)" font-size="14" text-anchor="middle">7</text>
<polyline points="61,59 66,59" fill="none" stroke="#000" stroke-width="2" stroke-linejoin="miter" stroke-linecap="square"/>
<rect x="16" y="51" width="35" height="18" rx="2" fill="#000"/>
<rect x="18" y="53" width="31" height="13" rx="1" fill="#fff"/>
<polygon points="50,54.5 61,58 61,60 50,63.5" fill="#000"/>
<polygon points="48,56.5 58,59 48,61.5" fill="#fff"/>
<text transform="translate(25.50,64) scale(0.75,1)" font-size="14" text-anchor="middle">J</text>
<rect x="33" y="54" width="1" height="10" fill="#000"/>
<rect x="32" y="56" width="1" height="1" fill="#000"/>
<rect x="31" y="57" width="1" height="1" fill="#000"/>
<text transform="translate(40.50,64) scale(0.75,1)" font-size="14" text-anchor="middle">8</text>
<polyline points="61,87 66,87" fill="none" stroke="#000" stroke-width="2" stroke-linejoin="miter" stroke-linecap="square"/>
<rect x="16" y="78" width="35" height="18" rx="2" fill="#000"/>
<rect x="18" y="80" width="31" height="13" rx="1" fill="#fff"/>
<polygon points="50,82.5 61,86 61,88 50,91.5" fill="#000"/>
<polygon points="48,84.5 58,87 48,89.5" fill="#fff"/>
<text transform="translate(24.50,92) scale(0.75,1)" font-size="14" text-anchor="middle">J</text>
<text transform="translate(32.00,92) scale(0.75,1)" font-size="14" text-anchor="middle">2</text>
<rect x="39" y="82" width="1" height="10" fill="#000"/>
<rect x="38" y="84" width="1" height="1" fill="#000"/>
<rect x="37" y="85" width="1" height="1" fill="#000"/>
<polyline points="61,106 66,106" fill="none" stroke="#000" stroke-width="2" stroke-linejoin="miter" stroke-linecap="square"/>
<rect x="16" y="97" width="35" height="18" rx="2" fill="#000"/>
<rect x="18" y="99" width="31" height="13" rx="1" fill="#fff"/>
<polygon points="50,101.5 61,105 61,107 50,110.5" fill="#000"/>
<polygon points="48,103.5 58,106 48,108.5" fill="#fff"/>
<text transform="translate(24.50,111) scale(0.75,1)" font-size="14" text-anchor="middle">J</text>
<rect x="32" y="101" width="1" height="10" fill="#000"/>
<rect x="31" y="103" width="1" height="1" fill="#000"/>
<rect x="30" y="104" width="1" height="1" fill="#000"/>
<text transform="translate(39.50,111) scale(0.75,1)" font-size="14" text-anchor="middle">9</text>
<polyline points="61,123 66,123" fill="none" stroke="#000" stroke-width="2" stroke-linejoin="miter" stroke-linecap="square"/>
<rect x="16" y="115" width="35" height="18" rx="2" fill="#000"/>
<rect x="18" y="117" width="31" height="13" rx="1" fill="#fff"/>
<polygon points="50,118.5 61,122 61,124 50,127.5" fill="#000"/>
<polygon points="48,120.5 58,123 48,125.5" fill="#fff"/>
<text transform="translate(24.50,129) scale(0.75,1)" font-size="14" text-anchor="middle">J</text>
<text transform="translate(32.00,129) scale(0.75,1)" font-size="14" text-anchor="middle">2</text>
<text transform="translate(39.50,129) scale(0.75,1)" font-size="14" text-anchor="middle">2</text>
<polyline points="61,141 66,141" fill="none" stroke="#000" stroke-width="2" stroke-linejoin="miter" stroke-linecap="square"/>
<rect x="26" y="134" width="25" height="18" rx="2" fill="#000"/>
<rect x="28" y="136" width="21" height="13" rx="1" fill="#fff"/>
<polygon points="50,136.5 61,140 61,142 50,145.5" fill="#000"/>
<polygon points="48,138.5 58,141 48,143.5" fill="#fff"/>
<text transform="translate(33.50,148) scale(0.75,1)" font-size="14" text-anchor="middle">J</text>
<text transform="translate(40.50,148) scale(0.75,1)" font-size="14" text-anchor="middle">6</text>
<rect x="31" y="216" width="51" height="18" rx="2" fill="#000"/>
<rect x="33" y="218" width="47" height="13" rx="1" fill="#fff"/>
<text transform="translate(37.50,230) scale(0.75,1)" font-size="14" text-anchor="middle">C</text>
<text transform="translate(47.00,230) scale(0.75,1)" font-size="14" text-anchor="middle">A</text>
<text transform="translate(56.50,230) scale(0.75,1)" font-size="14" text-anchor="middle">C</text>
<text transform="translate(66.00,230) scale(0.75,1)" font-size="14" text-anchor="middle">H</text>
<text transform="translate(75.50,230) scale(0.75,1)" font-size="14" text-anchor="middle">E</text>
<polyline points="82,224 88.5,218" fill="none" stroke="#000" stroke-width="1" stroke-linejoin="miter" stroke-linecap="square"/>
<polyline points="82,227 88.5,233" fill="none" stroke="#000" stroke-width="1" stroke-linejoin="miter" stroke-linecap="square"/>
<rect x="128" y="74" width="7" height="19" fill="#000"/>
<rect x="129" y="75" width="1" height="17" fill="#fff"/>
<rect x="129" y="80" width="5" height="1" fill="#fff"/>
<rect x="129" y="86" width="5" height="1" fill="#fff"/>
<rect x="129" y="91" width="5" height="1" fill="#fff"/>
<rect x="131" y="88" width="2" height="2" fill="#fff"/>
<rect x="137" y="79" width="7" height="14" fill="#000"/>
<rect x="138" y="80" width="1" height="12" fill="#fff"/>
<rect x="138" y="80" width="5" height="1" fill="#fff"/>
<rect x="138" y="86" width="5" height="1" fill="#fff"/>
<rect x="138" y="91" width="5" height="1" fill="#fff"/>
<rect x="145" y="79" width="6" height="14" fill="#000"/>
<rect x="146" y="80" width="4" height="1" fill="#fff"/>
<rect x="146" y="86" width="4" height="1" fill="#fff"/>
<rect x="146" y="91" width="4" height="1" fill="#fff"/>
<polygon points="117.24228355337247,66.6363961030679 128.2221825406948,75.7778174593052 129.7778174593052,74.2221825406948 120.6363961030679,63.24228355337247" fill="#000"/>
<rect x="80" y="49" width="42" height="19" rx="2" fill="#000"/>
<rect x="83" y="51" width="37" height="14" rx="1" fill="#fff"/>
<polygon points="117.31299423149112,64.44436508138959 126.3,72.3 118.44436508138959,63.31299423149112" fill="#fff"/>
<text transform="translate(86.50,62) scale(0.75,1)" font-size="14" text-anchor="middle">J</text>
<text transform="translate(94.17,62) scale(0.75,1)" font-size="14" text-anchor="middle">P</text>
<text transform="translate(101.83,62) scale(0.75,1)" font-size="14" text-anchor="middle">3</text>
<text transform="translate(109.50,62) scale(0.75,1)" font-size="14" text-anchor="middle">9</text>
<polygon points="150.2027633934041,67.2844128087827 142.17784974944797,78.26919977728708 143.82215025055203,79.73080022271292 153.79032812308566,70.47335923516631" fill="#000"/>
<rect x="151" y="54" width="41" height="18" rx="2" fill="#000"/>
<rect x="153" y="56" width="37" height="13" rx="1" fill="#fff"/>
<polygon points="152.39516406154283,67.22628097288508 145.4,76.3 153.59101897143668,68.28926311501296" fill="#fff"/>
<text transform="translate(158.50,67) scale(0.75,1)" font-size="14" text-anchor="middle">J</text>
<text transform="translate(166.50,67) scale(0.75,1)" font-size="14" text-anchor="middle">P</text>
<text transform="translate(174.50,67) scale(0.75,1)" font-size="14" text-anchor="middle">3</text>
<text transform="translate(182.50,67) scale(0.75,1)" font-size="14" text-anchor="middle">8</text>
<polyline points="156,85 151,85" fill="none" stroke="#000" stroke-width="2" stroke-linejoin="miter" stroke-linecap="square"/>
<rect x="166" y="76" width="42" height="18" rx="2" fill="#000"/>
<rect x="168" y="78" width="38" height="13" rx="1" fill="#fff"/>
<polygon points="167,80.5 156,84 156,86 167,89.5" fill="#000"/>
<polygon points="169,82.5 159,85 169,87.5" fill="#fff"/>
<text transform="translate(174.50,90) scale(0.75,1)" font-size="14" text-anchor="middle">J</text>
<text transform="translate(182.17,90) scale(0.75,1)" font-size="14" text-anchor="middle">P</text>
<text transform="translate(189.83,90) scale(0.75,1)" font-size="14" text-anchor="middle">3</text>
<text transform="translate(197.50,90) scale(0.75,1)" font-size="14" text-anchor="middle">7</text>
<rect x="190" y="238" width="19" height="1" fill="#000"/>
<rect x="190" y="239" width="1" height="1" fill="#000"/>
<rect x="191" y="239" width="5" height="1" fill="#fff"/>
<rect x="196" y="239" width="1" height="1" fill="#000"/>
<rect x="197" y="239" width="5" height="1" fill="#fff"/>
<rect x="202" y="239" width="1" height="1" fill="#000"/>
<rect x="203" y="239" width="5" height="1" fill="#fff"/>
<rect x="208" y="239" width="1" height="1" fill="#000"/>
<rect x="190" y="240" width="1" height="1" fill="#000"/>
<rect x="191" y="240" width="1" height="1" fill="#fff"/>
<rect x="192" y="240" width="17" height="1" fill="#000"/>
<rect x="190" y="241" width="1" height="1" fill="#000"/>
<rect x="191" y="241" width="1" height="1" fill="#fff"/>
<rect x="192" y="241" width="17" height="1" fill="#000"/>
<rect x="190" y="242" width="1" height="1" fill="#000"/>
<rect x="191" y="242" width="1" height="1" fill="#fff"/>
<rect x="192" y="242" width="17" height="1" fill="#000"/>
<rect x="190" y="243" width="1" height="1" fill="#000"/>
<rect x="191" y="243" width="1" height="1" fill="#fff"/>
<rect x="192" y="243" width="17" height="1" fill="#000"/>
<rect x="190" y="244" width="1" height="1" fill="#000"/>
<rect x="191" y="244" width="5" height="1" fill="#fff"/>
<rect x="196" y="244" width="1" height="1" fill="#000"/>
<rect x="197" y="244" width="5" height="1" fill="#fff"/>
<rect x="202" y="244" width="1" height="1" fill="#000"/>
<rect x="203" y="244" width="5" height="1" fill="#fff"/>
<rect x="208" y="244" width="1" height="1" fill="#000"/>
<rect x="190" y="245" width="1" height="1" fill="#000"/>
<rect x="191" y="245" width="1" height="1" fill="#fff"/>
<rect x="192" y="245" width="17" height="1" fill="#000"/>
<rect x="190" y="246" width="1" height="1" fill="#000"/>
<rect x="191" y="246" width="1" height="1" fill="#fff"/>
<rect x="192" y="246" width="17" height="1" fill="#000"/>
<rect x="190" y="247" width="1" height="1" fill="#000"/>
<rect x="191" y="247" width="1" height="1" fill="#fff"/>
<rect x="192" y="247" width="17" height="1" fill="#000"/>
<rect x="190" y="248" width="1" height="1" fill="#000"/>
<rect x="191" y="248" width="1" height="1" fill="#fff"/>
<rect x="192" y="248" width="17" height="1" fill="#000"/>
<rect x="190" y="249" width="1" height="1" fill="#000"/>
<rect x="191" y="249" width="1" height="1" fill="#fff"/>
<rect x="192" y="249" width="17" height="1" fill="#000"/>
<rect x="190" y="250" width="1" height="1" fill="#000"/>
<rect x="191" y="250" width="5" height="1" fill="#fff"/>
<rect x="196" y="250" width="1" height="1" fill="#000"/>
<rect x="197" y="250" width="5" height="1" fill="#fff"/>
<rect x="202" y="250" width="1" height="1" fill="#000"/>
<rect x="203" y="250" width="5" height="1" fill="#fff"/>
<rect x="208" y="250" width="1" height="1" fill="#000"/>
<rect x="190" y="251" width="1" height="1" fill="#000"/>
<rect x="191" y="251" width="1" height="1" fill="#fff"/>
<rect x="192" y="251" width="17" height="1" fill="#000"/>
<rect x="190" y="252" width="1" height="1" fill="#000"/>
<rect x="191" y="252" width="1" height="1" fill="#fff"/>
<rect x="192" y="252" width="1" height="1" fill="#000"/>
<rect x="193" y="252" width="2" height="1" fill="#fff"/>
<rect x="195" y="252" width="3" height="1" fill="#000"/>
<rect x="198" y="252" width="3" height="1" fill="#fff"/>
<rect x="201" y="252" width="3" height="1" fill="#000"/>
<rect x="204" y="252" width="3" height="1" fill="#fff"/>
<rect x="207" y="252" width="2" height="1" fill="#000"/>
<rect x="190" y="253" width="1" height="1" fill="#000"/>
<rect x="191" y="253" width="1" height="1" fill="#fff"/>
<rect x="192" y="253" width="1" height="1" fill="#000"/>
<rect x="193" y="253" width="2" height="1" fill="#fff"/>
<rect x="195" y="253" width="3" height="1" fill="#000"/>
<rect x="198" y="253" width="3" height="1" fill="#fff"/>
<rect x="201" y="253" width="3" height="1" fill="#000"/>
<rect x="204" y="253" width="3" height="1" fill="#fff"/>
<rect x="207" y="253" width="2" height="1" fill="#000"/>
<rect x="190" y="254" width="1" height="1" fill="#000"/>
<rect x="191" y="254" width="1" height="1" fill="#fff"/>
<rect x="192" y="254" width="1" height="1" fill="#000"/>
<rect x="193" y="254" width="2" height="1" fill="#fff"/>
<rect x="195" y="254" width="3" height="1" fill="#000"/>
<rect x="198" y="254" width="3" height="1" fill="#fff"/>
<rect x="201" y="254" width="3" height="1" fill="#000"/>
<rect x="204" y="254" width="3" height="1" fill="#fff"/>
<rect x="207" y="254" width="2" height="1" fill="#000"/>
<rect x="190" y="255" width="1" height="1" fill="#000"/>
<rect x="191" y="255" width="1" height="1" fill="#fff"/>
<rect x="192" y="255" width="17" height="1" fill="#000"/>
<rect x="190" y="256" width="19" height="1" fill="#000"/>
<polygon points="206.0264655985692,226.3425142014997 199.13171256088603,237.3246653251336 200.86828743911397,238.6753346748664 209.81535624197556,229.2894291463713" fill="#000"/>
<rect x="207" y="213" width="41" height="19" rx="2" fill="#000"/>
<rect x="209" y="215" width="37" height="14" rx="1" fill="#fff"/>
<polygon points="208.21034006664368,226.14079085705907 202.1,235.3 209.47330361444583,227.12309583868296" fill="#fff"/>
<text transform="translate(214.50,227) scale(0.75,1)" font-size="14" text-anchor="middle">J</text>
<text transform="translate(222.17,227) scale(0.75,1)" font-size="14" text-anchor="middle">P</text>
<text transform="translate(229.83,227) scale(0.75,1)" font-size="14" text-anchor="middle">2</text>
<text transform="translate(237.50,227) scale(0.75,1)" font-size="14" text-anchor="middle">4</text>
<polyline points="213,247 209,247" fill="none" stroke="#000" stroke-width="2" stroke-linejoin="miter" stroke-linecap="square"/>
<rect x="223" y="238" width="41" height="19" rx="2" fill="#000"/>
<rect x="225" y="240" width="37" height="15" rx="1" fill="#fff"/>
<polygon points="224,242.5 213,246 213,248 224,251.5" fill="#000"/>
<polygon points="226,244.5 216,247 226,249.5" fill="#fff"/>
<text transform="translate(232.50,252) scale(0.75,1)" font-size="14" text-anchor="middle">J</text>
<text transform="translate(240.17,252) scale(0.75,1)" font-size="14" text-anchor="middle">P</text>
<text transform="translate(247.83,252) scale(0.75,1)" font-size="14" text-anchor="middle">2</text>
<text transform="translate(255.50,252) scale(0.75,1)" font-size="14" text-anchor="middle">3</text>
<polygon points="203.78735304842687,265.50942586347685 192.81762356087188,255.2641387952153 191.18237643912812,256.73586120478467 200.2195411464405,268.7204565752646" fill="#000"/>
<rect x="200" y="265" width="42" height="18" rx="2" fill="#000"/>
<rect x="202" y="267" width="38" height="13" rx="1" fill="#fff"/>
<polygon points="203.6015295118651,267.69471065344356 194.7,259.0 202.41225887786962,268.7650542240395" fill="#fff"/>
<text transform="translate(207.50,278) scale(0.75,1)" font-size="14" text-anchor="middle">J</text>
<text transform="translate(215.50,278) scale(0.75,1)" font-size="14" text-anchor="middle">P</text>
<text transform="translate(223.50,278) scale(0.75,1)" font-size="14" text-anchor="middle">2</text>
<text transform="translate(231.50,278) scale(0.75,1)" font-size="14" text-anchor="middle">5</text>
<rect x="350" y="180" width="25" height="1" fill="#000"/>
<rect x="350" y="181" width="1" height="1" fill="#000"/>
<rect x="351" y="181" width="2" height="1" fill="#fff"/>
<rect x="353" y="181" width="1" height="1" fill="#000"/>
<rect x="354" y="181" width="2" height="1" fill="#fff"/>
<rect x="356" y="181" width="1" height="1" fill="#000"/>
<rect x="357" y="181" width="5" height="1" fill="#fff"/>
<rect x="362" y="181" width="1" height="1" fill="#000"/>
<rect x="363" y="181" width="4" height="1" fill="#fff"/>
<rect x="367" y="181" width="2" height="1" fill="#000"/>
<rect x="369" y="181" width="5" height="1" fill="#fff"/>
<rect x="374" y="181" width="1" height="1" fill="#000"/>
<rect x="350" y="182" width="1" height="1" fill="#000"/>
<rect x="351" y="182" width="1" height="1" fill="#fff"/>
<rect x="352" y="182" width="5" height="1" fill="#000"/>
<rect x="357" y="182" width="1" height="1" fill="#fff"/>
<rect x="358" y="182" width="17" height="1" fill="#000"/>
<rect x="350" y="183" width="1" height="1" fill="#000"/>
<rect x="351" y="183" width="1" height="1" fill="#fff"/>
<rect x="352" y="183" width="5" height="1" fill="#000"/>
<rect x="357" y="183" width="1" height="1" fill="#fff"/>
<rect x="358" y="183" width="17" height="1" fill="#000"/>
<rect x="350" y="184" width="1" height="1" fill="#000"/>
<rect x="351" y="184" width="1" height="1" fill="#fff"/>
<rect x="352" y="184" width="5" height="1" fill="#000"/>
<rect x="357" y="184" width="1" height="1" fill="#fff"/>
<rect x="358" y="184" width="17" height="1" fill="#000"/>
<rect x="350" y="185" width="1" height="1" fill="#000"/>
<rect x="351" y="185" width="1" height="1" fill="#fff"/>
<rect x="352" y="185" width="5" height="1" fill="#000"/>
<rect x="357" y="185" width="1" height="1" fill="#fff"/>
<rect x="358" y="185" width="17" height="1" fill="#000"/>
<rect x="350" y="186" width="1" height="1" fill="#000"/>
<rect x="351" y="186" width="1" height="1" fill="#fff"/>
<rect x="352" y="186" width="5" height="1" fill="#000"/>
<rect x="357" y="186" width="1" height="1" fill="#fff"/>
<rect x="358" y="186" width="17" height="1" fill="#000"/>
<rect x="350" y="187" width="1" height="1" fill="#000"/>
<rect x="351" y="187" width="5" height="1" fill="#fff"/>
<rect x="356" y="187" width="1" height="1" fill="#000"/>
<rect x="357" y="187" width="5" height="1" fill="#fff"/>
<rect x="362" y="187" width="1" height="1" fill="#000"/>
<rect x="363" y="187" width="5" height="1" fill="#fff"/>
<rect x="368" y="187" width="1" height="1" fill="#000"/>
<rect x="369" y="187" width="5" height="1" fill="#fff"/>
<rect x="374" y="187" width="1" height="1" fill="#000"/>
<rect x="350" y="188" width="1" height="1" fill="#000"/>
<rect x="351" y="188" width="1" height="1" fill="#fff"/>
<rect x="352" y="188" width="5" height="1" fill="#000"/>
<rect x="357" y="188" width="1" height="1" fill="#fff"/>
<rect x="358" y="188" width="17" height="1" fill="#000"/>
<rect x="350" y="189" width="1" height="1" fill="#000"/>
<rect x="351" y="189" width="1" height="1" fill="#fff"/>
<rect x="352" y="189" width="5" height="1" fill="#000"/>
<rect x="357" y="189" width="1" height="1" fill="#fff"/>
<rect x="358" y="189" width="17" height="1" fill="#000"/>
<rect x="350" y="190" width="1" height="1" fill="#000"/>
<rect x="351" y="190" width="1" height="1" fill="#fff"/>
<rect x="352" y="190" width="5" height="1" fill="#000"/>
<rect x="357" y="190" width="1" height="1" fill="#fff"/>
<rect x="358" y="190" width="17" height="1" fill="#000"/>
<rect x="350" y="191" width="1" height="1" fill="#000"/>
<rect x="351" y="191" width="1" height="1" fill="#fff"/>
<rect x="352" y="191" width="5" height="1" fill="#000"/>
<rect x="357" y="191" width="1" height="1" fill="#fff"/>
<rect x="358" y="191" width="17" height="1" fill="#000"/>
<rect x="350" y="192" width="1" height="1" fill="#000"/>
<rect x="351" y="192" width="5" height="1" fill="#fff"/>
<rect x="356" y="192" width="1" height="1" fill="#000"/>
<rect x="357" y="192" width="5" height="1" fill="#fff"/>
<rect x="362" y="192" width="1" height="1" fill="#000"/>
<rect x="363" y="192" width="5" height="1" fill="#fff"/>
<rect x="368" y="192" width="1" height="1" fill="#000"/>
<rect x="369" y="192" width="5" height="1" fill="#fff"/>
<rect x="374" y="192" width="1" height="1" fill="#000"/>
<rect x="350" y="193" width="25" height="1" fill="#000"/>
<polygon points="342.21264695157316,171.49057413652312 353.1823764391281,181.7358612047847 354.8176235608719,180.2641387952153 345.78045885355954,168.27954342473535" fill="#000"/>
<rect x="305" y="157" width="41" height="17" rx="2" fill="#000"/>
<rect x="307" y="159" width="37" height="12" rx="1" fill="#fff"/>
<polygon points="342.39847048813493,169.30528934655646 351.3,178.0 343.58774112213035,168.23494577596054" fill="#fff"/>
<text transform="translate(313.50,169) scale(0.75,1)" font-size="14" text-anchor="middle">J</text>
<text transform="translate(321.50,169) scale(0.75,1)" font-size="14" text-anchor="middle">P</text>
<text transform="translate(329.50,169) scale(0.75,1)" font-size="14" text-anchor="middle">3</text>
<text transform="translate(337.50,169) scale(0.75,1)" font-size="14" text-anchor="middle">2</text>
<polygon points="371.8940369072993,168.39484249274943 365.09884488742904,180.36919142120033 366.90115511257096,181.63080857879967 375.82635012579067,171.14746174569342" fill="#000"/>
<rect x="372" y="157" width="42" height="16" rx="2" fill="#000"/>
<rect x="374" y="159" width="38" height="11" rx="1" fill="#fff"/>
<polygon points="374.06500149667477,168.0835343629522 368.1,178.0 375.3757725695052,169.00107411393356" fill="#fff"/>
<text transform="translate(381.50,169) scale(0.75,1)" font-size="14" text-anchor="middle">J</text>
<text transform="translate(389.50,169) scale(0.75,1)" font-size="14" text-anchor="middle">P</text>
<text transform="translate(397.50,169) scale(0.75,1)" font-size="14" text-anchor="middle">3</text>
<text transform="translate(405.50,169) scale(0.75,1)" font-size="14" text-anchor="middle">0</text>
<polyline points="380,187 375,187" fill="none" stroke="#000" stroke-width="2" stroke-linejoin="miter" stroke-linecap="square"/>
<rect x="390" y="178" width="41" height="18" rx="2" fill="#000"/>
<rect x="392" y="180" width="37" height="14" rx="1" fill="#fff"/>
<polygon points="391,182.5 380,186 380,188 391,191.5" fill="#000"/>
<polygon points="393,184.5 383,187 393,189.5" fill="#fff"/>
<text transform="translate(397.50,191) scale(0.75,1)" font-size="14" text-anchor="middle">J</text>
<text transform="translate(405.50,191) scale(0.75,1)" font-size="14" text-anchor="middle">P</text>
<text transform="translate(413.50,191) scale(0.75,1)" font-size="14" text-anchor="middle">2</text>
<text transform="translate(421.50,191) scale(0.75,1)" font-size="14" text-anchor="middle">9</text>
<rect x="331" y="184" width="6" height="19" fill="#000"/>
<rect x="332" y="190" width="4" height="1" fill="#fff"/>
<rect x="332" y="195" width="4" height="1" fill="#fff"/>
<rect x="333" y="198" width="2" height="2" fill="#fff"/>
<rect x="332" y="201" width="4" height="1" fill="#fff"/>
<polyline points="327,193 331,193" fill="none" stroke="#000" stroke-width="2" stroke-linejoin="miter" stroke-linecap="square"/>
<rect x="275" y="184" width="42" height="19" rx="2" fill="#000"/>
<rect x="278" y="186" width="37" height="14" rx="1" fill="#fff"/>
<polygon points="316,188.5 327,192 327,194 316,197.5" fill="#000"/>
<polygon points="314,190.5 324,193 314,195.5" fill="#fff"/>
<text transform="translate(282.50,197) scale(0.75,1)" font-size="14" text-anchor="middle">J</text>
<text transform="translate(290.83,197) scale(0.75,1)" font-size="14" text-anchor="middle">P</text>
<text transform="translate(299.17,197) scale(0.75,1)" font-size="14" text-anchor="middle">3</text>
<text transform="translate(307.50,197) scale(0.75,1)" font-size="14" text-anchor="middle">3</text>
<polyline points="360,201 360,193" fill="none" stroke="#000" stroke-width="2" stroke-linejoin="miter" stroke-linecap="square"/>
<rect x="339" y="210" width="42" height="20" rx="2" fill="#000"/>
<rect x="341" y="213" width="38" height="14" rx="1" fill="#fff"/>
<polygon points="355,211 359,200 361,200 365,211" fill="#000"/>
<polygon points="357.5,213 360,204 362.5,213" fill="#fff"/>
<text transform="translate(348.50,224) scale(0.75,1)" font-size="14" text-anchor="middle">J</text>
<text transform="translate(356.17,224) scale(0.75,1)" font-size="14" text-anchor="middle">P</text>
<text transform="translate(363.83,224) scale(0.75,1)" font-size="14" text-anchor="middle">3</text>
<rect x="371" y="214" width="1" height="10" fill="#000"/>
<rect x="370" y="216" width="1" height="1" fill="#000"/>
<rect x="369" y="217" width="1" height="1" fill="#000"/>
<rect x="532" y="169" width="19" height="7" fill="#000"/>
<rect x="538" y="170" width="1" height="5" fill="#fff"/>
<rect x="544" y="170" width="1" height="5" fill="#fff"/>
<rect x="546" y="171" width="2" height="3" fill="#fff"/>
<rect x="549" y="170" width="1" height="5" fill="#fff"/>
<rect x="526" y="185" width="7" height="19" fill="#000"/>
<rect x="527" y="186" width="5" height="1" fill="#fff"/>
<rect x="527" y="191" width="5" height="1" fill="#fff"/>
<rect x="527" y="197" width="5" height="1" fill="#fff"/>
<rect x="528" y="199" width="3" height="2" fill="#fff"/>
<polygon points="553.7577164466275,183.36360389693212 542.7778174593052,174.2221825406948 541.2221825406948,175.7778174593052 550.3636038969321,186.75771644662754" fill="#000"/>
<rect x="550" y="183" width="40" height="18" rx="2" fill="#000"/>
<rect x="552" y="185" width="36" height="13" rx="1" fill="#fff"/>
<polygon points="553.6870057685089,185.5556349186104 544.7,177.7 552.5556349186104,186.68700576850887" fill="#fff"/>
<text transform="translate(558.50,196) scale(0.75,1)" font-size="14" text-anchor="middle">J</text>
<text transform="translate(566.50,196) scale(0.75,1)" font-size="14" text-anchor="middle">P</text>
<text transform="translate(574.50,196) scale(0.75,1)" font-size="14" text-anchor="middle">3</text>
<text transform="translate(582.50,196) scale(0.75,1)" font-size="14" text-anchor="middle">5</text>
<polygon points="543.7577164466275,211.36360389693212 532.7778174593052,202.2221825406948 531.2221825406948,203.7778174593052 540.3636038969321,214.75771644662754" fill="#000"/>
<rect x="541" y="211" width="40" height="19" rx="2" fill="#000"/>
<rect x="543" y="213" width="36" height="14" rx="1" fill="#fff"/>
<polygon points="543.6870057685089,213.5556349186104 534.7,205.7 542.5556349186104,214.68700576850887" fill="#fff"/>
<text transform="translate(548.50,225) scale(0.75,1)" font-size="14" text-anchor="middle">J</text>
<text transform="translate(556.17,225) scale(0.75,1)" font-size="14" text-anchor="middle">P</text>
<text transform="translate(563.83,225) scale(0.75,1)" font-size="14" text-anchor="middle">3</text>
<text transform="translate(571.50,225) scale(0.75,1)" font-size="14" text-anchor="middle">6</text>
<rect x="586" y="36" width="6" height="14" fill="#000"/>
<rect x="587" y="37" width="4" height="1" fill="#fff"/>
<rect x="587" y="42" width="4" height="1" fill="#fff"/>
<rect x="587" y="48" width="4" height="1" fill="#fff"/>
<polyline points="597,43 592,43" fill="none" stroke="#000" stroke-width="2" stroke-linejoin="miter" stroke-linecap="square"/>
<rect x="607" y="34" width="36" height="19" rx="2" fill="#000"/>
<rect x="609" y="36" width="32" height="14" rx="1" fill="#fff"/>
<polygon points="608,38.5 597,42 597,44 608,47.5" fill="#000"/>
<polygon points="610,40.5 600,43 610,45.5" fill="#fff"/>
<text transform="translate(613.50,48) scale(0.75,1)" font-size="14" text-anchor="middle">J</text>
<text transform="translate(622.00,48) scale(0.75,1)" font-size="14" text-anchor="middle">P</text>
<text transform="translate(630.50,48) scale(0.75,1)" font-size="14" text-anchor="middle">3</text>
<rect x="89" y="364" width="50" height="13" fill="#000"/>
<rect x="139" y="364" width="12" height="6" fill="#000"/>
<rect x="90" y="365" width="29" height="1" fill="#fff"/>
<rect x="94" y="366" width="2" height="4" fill="#fff"/>
<rect x="94" y="371" width="2" height="5" fill="#fff"/>
<rect x="100" y="366" width="2" height="4" fill="#fff"/>
<rect x="100" y="371" width="2" height="5" fill="#fff"/>
<rect x="106" y="366" width="2" height="4" fill="#fff"/>
<rect x="106" y="371" width="2" height="5" fill="#fff"/>
<rect x="112" y="366" width="1" height="4" fill="#fff"/>
<rect x="112" y="371" width="1" height="5" fill="#fff"/>
<rect x="126" y="366" width="2" height="4" fill="#fff"/>
<rect x="126" y="371" width="2" height="5" fill="#fff"/>
<rect x="132" y="366" width="1" height="4" fill="#fff"/>
<rect x="132" y="371" width="1" height="5" fill="#fff"/>
<rect x="118" y="365" width="1" height="5" fill="#fff"/>
<rect x="118" y="371" width="1" height="5" fill="#fff"/>
<rect x="114" y="367" width="3" height="2" fill="#fff"/>
<rect x="114" y="372" width="3" height="3" fill="#fff"/>
<rect x="121" y="366" width="1" height="4" fill="#fff"/>
<rect x="138" y="366" width="1" height="4" fill="#fff"/>
<rect x="134" y="372" width="3" height="3" fill="#fff"/>
<rect x="144" y="365" width="6" height="5" fill="#fff"/>
<rect x="145" y="366" width="4" height="3" fill="#000"/>
<rect x="146" y="367" width="2" height="1" fill="#fff"/>
<rect x="151" y="358" width="19" height="1" fill="#000"/>
<rect x="151" y="359" width="5" height="1" fill="#000"/>
<rect x="156" y="359" width="2" height="1" fill="#fff"/>
<rect x="158" y="359" width="3" height="1" fill="#000"/>
<rect x="161" y="359" width="1" height="1" fill="#fff"/>
<rect x="162" y="359" width="1" height="1" fill="#000"/>
<rect x="163" y="359" width="5" height="1" fill="#fff"/>
<rect x="168" y="359" width="2" height="1" fill="#000"/>
<rect x="151" y="360" width="5" height="1" fill="#000"/>
<rect x="156" y="360" width="2" height="1" fill="#fff"/>
<rect x="158" y="360" width="3" height="1" fill="#000"/>
<rect x="161" y="360" width="1" height="1" fill="#fff"/>
<rect x="162" y="360" width="1" height="1" fill="#000"/>
<rect x="163" y="360" width="1" height="1" fill="#fff"/>
<rect x="164" y="360" width="3" height="1" fill="#000"/>
<rect x="167" y="360" width="1" height="1" fill="#fff"/>
<rect x="168" y="360" width="2" height="1" fill="#000"/>
<rect x="151" y="361" width="5" height="1" fill="#000"/>
<rect x="156" y="361" width="2" height="1" fill="#fff"/>
<rect x="158" y="361" width="3" height="1" fill="#000"/>
<rect x="161" y="361" width="1" height="1" fill="#fff"/>
<rect x="162" y="361" width="1" height="1" fill="#000"/>
<rect x="163" y="361" width="1" height="1" fill="#fff"/>
<rect x="164" y="361" width="1" height="1" fill="#000"/>
<rect x="165" y="361" width="1" height="1" fill="#fff"/>
<rect x="166" y="361" width="1" height="1" fill="#000"/>
<rect x="167" y="361" width="1" height="1" fill="#fff"/>
<rect x="168" y="361" width="2" height="1" fill="#000"/>
<rect x="151" y="362" width="5" height="1" fill="#000"/>
<rect x="156" y="362" width="2" height="1" fill="#fff"/>
<rect x="158" y="362" width="3" height="1" fill="#000"/>
<rect x="161" y="362" width="1" height="1" fill="#fff"/>
<rect x="162" y="362" width="1" height="1" fill="#000"/>
<rect x="163" y="362" width="1" height="1" fill="#fff"/>
<rect x="164" y="362" width="3" height="1" fill="#000"/>
<rect x="167" y="362" width="1" height="1" fill="#fff"/>
<rect x="168" y="362" width="2" height="1" fill="#000"/>
<rect x="151" y="363" width="5" height="1" fill="#000"/>
<rect x="156" y="363" width="2" height="1" fill="#fff"/>
<rect x="158" y="363" width="3" height="1" fill="#000"/>
<rect x="161" y="363" width="1" height="1" fill="#fff"/>
<rect x="162" y="363" width="1" height="1" fill="#000"/>
<rect x="163" y="363" width="5" height="1" fill="#fff"/>
<rect x="168" y="363" width="2" height="1" fill="#000"/>
<rect x="151" y="364" width="19" height="1" fill="#000"/>
<rect x="151" y="365" width="5" height="1" fill="#000"/>
<rect x="156" y="365" width="2" height="1" fill="#fff"/>
<rect x="158" y="365" width="3" height="1" fill="#000"/>
<rect x="161" y="365" width="1" height="1" fill="#fff"/>
<rect x="162" y="365" width="1" height="1" fill="#000"/>
<rect x="163" y="365" width="5" height="1" fill="#fff"/>
<rect x="168" y="365" width="2" height="1" fill="#000"/>
<rect x="151" y="366" width="5" height="1" fill="#000"/>
<rect x="156" y="366" width="2" height="1" fill="#fff"/>
<rect x="158" y="366" width="3" height="1" fill="#000"/>
<rect x="161" y="366" width="1" height="1" fill="#fff"/>
<rect x="162" y="366" width="1" height="1" fill="#000"/>
<rect x="163" y="366" width="1" height="1" fill="#fff"/>
<rect x="164" y="366" width="1" height="1" fill="#000"/>
<rect x="165" y="366" width="1" height="1" fill="#fff"/>
<rect x="166" y="366" width="1" height="1" fill="#000"/>
<rect x="167" y="366" width="1" height="1" fill="#fff"/>
<rect x="168" y="366" width="2" height="1" fill="#000"/>
<rect x="151" y="367" width="5" height="1" fill="#000"/>
<rect x="156" y="367" width="2" height="1" fill="#fff"/>
<rect x="158" y="367" width="3" height="1" fill="#000"/>
<rect x="161" y="367" width="1" height="1" fill="#fff"/>
<rect x="162" y="367" width="1" height="1" fill="#000"/>
<rect x="163" y="367" width="5" height="1" fill="#fff"/>
<rect x="168" y="367" width="2" height="1" fill="#000"/>
<rect x="151" y="368" width="5" height="1" fill="#000"/>
<rect x="156" y="368" width="2" height="1" fill="#fff"/>
<rect x="158" y="368" width="3" height="1" fill="#000"/>
<rect x="161" y="368" width="1" height="1" fill="#fff"/>
<rect x="162" y="368" width="7" height="1" fill="#000"/>
<rect x="169" y="368" width="1" height="1" fill="#fff"/>
<rect x="151" y="369" width="1" height="1" fill="#000"/>
<rect x="152" y="369" width="17" height="1" fill="#fff"/>
<rect x="169" y="369" width="1" height="1" fill="#000"/>
<rect x="151" y="370" width="19" height="1" fill="#000"/>
<rect x="151" y="371" width="5" height="1" fill="#000"/>
<rect x="156" y="371" width="2" height="1" fill="#fff"/>
<rect x="158" y="371" width="3" height="1" fill="#000"/>
<rect x="161" y="371" width="1" height="1" fill="#fff"/>
<rect x="162" y="371" width="1" height="1" fill="#000"/>
<rect x="163" y="371" width="5" height="1" fill="#fff"/>
<rect x="168" y="371" width="2" height="1" fill="#000"/>
<rect x="151" y="372" width="5" height="1" fill="#000"/>
<rect x="156" y="372" width="2" height="1" fill="#fff"/>
<rect x="158" y="372" width="3" height="1" fill="#000"/>
<rect x="161" y="372" width="1" height="1" fill="#fff"/>
<rect x="162" y="372" width="1" height="1" fill="#000"/>
<rect x="163" y="372" width="1" height="1" fill="#fff"/>
<rect x="164" y="372" width="1" height="1" fill="#000"/>
<rect x="165" y="372" width="1" height="1" fill="#fff"/>
<rect x="166" y="372" width="1" height="1" fill="#000"/>
<rect x="167" y="372" width="1" height="1" fill="#fff"/>
<rect x="168" y="372" width="2" height="1" fill="#000"/>
<rect x="151" y="373" width="5" height="1" fill="#000"/>
<rect x="156" y="373" width="2" height="1" fill="#fff"/>
<rect x="158" y="373" width="3" height="1" fill="#000"/>
<rect x="161" y="373" width="1" height="1" fill="#fff"/>
<rect x="162" y="373" width="1" height="1" fill="#000"/>
<rect x="163" y="373" width="1" height="1" fill="#fff"/>
<rect x="164" y="373" width="1" height="1" fill="#000"/>
<rect x="165" y="373" width="1" height="1" fill="#fff"/>
<rect x="166" y="373" width="1" height="1" fill="#000"/>
<rect x="167" y="373" width="1" height="1" fill="#fff"/>
<rect x="168" y="373" width="2" height="1" fill="#000"/>
<rect x="151" y="374" width="5" height="1" fill="#000"/>
<rect x="156" y="374" width="2" height="1" fill="#fff"/>
<rect x="158" y="374" width="3" height="1" fill="#000"/>
<rect x="161" y="374" width="1" height="1" fill="#fff"/>
<rect x="162" y="374" width="1" height="1" fill="#000"/>
<rect x="163" y="374" width="5" height="1" fill="#fff"/>
<rect x="168" y="374" width="2" height="1" fill="#000"/>
<rect x="151" y="375" width="1" height="1" fill="#000"/>
<rect x="152" y="375" width="10" height="1" fill="#fff"/>
<rect x="162" y="375" width="1" height="1" fill="#000"/>
<rect x="163" y="375" width="5" height="1" fill="#fff"/>
<rect x="168" y="375" width="2" height="1" fill="#000"/>
<rect x="151" y="376" width="19" height="1" fill="#000"/>
<polygon points="78.21513463285527,355.5045045954973 90.18606591926446,366.7399400733959 91.81393408073554,365.2600599266041 81.76684698515581,352.27567518431493" fill="#000"/>
<rect x="40" y="339" width="42" height="18" rx="2" fill="#000"/>
<rect x="42" y="341" width="38" height="13" rx="1" fill="#fff"/>
<polygon points="78.3900295592943,353.3183180150092 88.0,362.7 79.57393367672782,352.2420415446151" fill="#fff"/>
<text transform="translate(49.50,354) scale(0.75,1)" font-size="14" text-anchor="middle">J</text>
<text transform="translate(57.50,354) scale(0.75,1)" font-size="14" text-anchor="middle">P</text>
<text transform="translate(65.50,354) scale(0.75,1)" font-size="14" text-anchor="middle">2</text>
<text transform="translate(73.50,354) scale(0.75,1)" font-size="14" text-anchor="middle">2</text>
<polyline points="83,373 89,373" fill="none" stroke="#000" stroke-width="2" stroke-linejoin="miter" stroke-linecap="square"/>
<rect x="32" y="364" width="41" height="18" rx="2" fill="#000"/>
<rect x="34" y="366" width="37" height="13" rx="1" fill="#fff"/>
<polygon points="72,368.5 83,372 83,374 72,377.5" fill="#000"/>
<polygon points="70,370.5 80,373 70,375.5" fill="#fff"/>
<text transform="translate(40.00,379) scale(0.75,1)" font-size="14" text-anchor="middle">J</text>
<text transform="translate(47.67,379) scale(0.75,1)" font-size="14" text-anchor="middle">P</text>
<text transform="translate(55.33,379) scale(0.75,1)" font-size="14" text-anchor="middle">2</text>
<rect x="63" y="369" width="1" height="10" fill="#000"/>
<rect x="62" y="371" width="1" height="1" fill="#000"/>
<rect x="61" y="372" width="1" height="1" fill="#000"/>
<polyline points="134,357 134,364" fill="none" stroke="#000" stroke-width="2" stroke-linejoin="miter" stroke-linecap="square"/>
<rect x="114" y="329" width="43" height="19" rx="2" fill="#000"/>
<rect x="116" y="331" width="39" height="14" rx="1" fill="#fff"/>
<polygon points="129,347 133,358 135,358 139,347" fill="#000"/>
<polygon points="131.5,345 134,354 136.5,345" fill="#fff"/>
<text transform="translate(122.50,343) scale(0.75,1)" font-size="14" text-anchor="middle">J</text>
<text transform="translate(130.50,343) scale(0.75,1)" font-size="14" text-anchor="middle">P</text>
<text transform="translate(138.50,343) scale(0.75,1)" font-size="14" text-anchor="middle">2</text>
<text transform="translate(146.50,343) scale(0.75,1)" font-size="14" text-anchor="middle">0</text>
<polyline points="129,383 129,377" fill="none" stroke="#000" stroke-width="2" stroke-linejoin="miter" stroke-linecap="square"/>
<rect x="109" y="392" width="42" height="20" rx="2" fill="#000"/>
<rect x="111" y="394" width="38" height="15" rx="1" fill="#fff"/>
<polygon points="124,393 128,382 130,382 134,393" fill="#000"/>
<polygon points="126.5,395 129,386 131.5,395" fill="#fff"/>
<text transform="translate(117.50,408) scale(0.75,1)" font-size="14" text-anchor="middle">J</text>
<text transform="translate(125.17,408) scale(0.75,1)" font-size="14" text-anchor="middle">P</text>
<rect x="132" y="398" width="1" height="10" fill="#000"/>
<rect x="131" y="400" width="1" height="1" fill="#000"/>
<rect x="130" y="401" width="1" height="1" fill="#000"/>
<text transform="translate(140.50,408) scale(0.75,1)" font-size="14" text-anchor="middle">9</text>
<polygon points="177.2027633934041,349.2844128087827 169.17784974944797,360.2691997772871 170.82215025055203,361.7308002227129 180.79032812308566,352.4733592351663" fill="#000"/>
<rect x="177" y="336" width="42" height="18" rx="2" fill="#000"/>
<rect x="179" y="338" width="38" height="14" rx="1" fill="#fff"/>
<polygon points="179.39516406154283,349.2262809728851 172.4,358.3 180.59101897143668,350.289263115013" fill="#fff"/>
<text transform="translate(185.50,349) scale(0.75,1)" font-size="14" text-anchor="middle">J</text>
<text transform="translate(193.50,349) scale(0.75,1)" font-size="14" text-anchor="middle">P</text>
<rect x="201" y="339" width="1" height="10" fill="#000"/>
<rect x="200" y="341" width="1" height="1" fill="#000"/>
<rect x="199" y="342" width="1" height="1" fill="#000"/>
<text transform="translate(209.50,349) scale(0.75,1)" font-size="14" text-anchor="middle">8</text>
<polyline points="174,367 170,367" fill="none" stroke="#000" stroke-width="2" stroke-linejoin="miter" stroke-linecap="square"/>
<rect x="184" y="358" width="42" height="19" rx="2" fill="#000"/>
<rect x="186" y="360" width="38" height="14" rx="1" fill="#fff"/>
<polygon points="185,362.5 174,366 174,368 185,371.5" fill="#000"/>
<polygon points="187,364.5 177,367 187,369.5" fill="#fff"/>
<text transform="translate(193.50,372) scale(0.75,1)" font-size="14" text-anchor="middle">J</text>
<text transform="translate(201.50,372) scale(0.75,1)" font-size="14" text-anchor="middle">P</text>
<rect x="209" y="362" width="1" height="10" fill="#000"/>
<rect x="208" y="364" width="1" height="1" fill="#000"/>
<rect x="207" y="365" width="1" height="1" fill="#000"/>
<text transform="translate(217.50,372) scale(0.75,1)" font-size="14" text-anchor="middle">7</text>
<polygon points="173.82,384.76 165.88,376.34 164.12,377.66 169.98000000000002,387.64" fill="#000"/>
<rect x="170" y="383" width="40" height="19" rx="2" fill="#000"/>
<rect x="172" y="386" width="36" height="13" rx="1" fill="#fff"/>
<polygon points="173.44,386.91999999999996 166.8,379.4 172.16000000000003,387.88" fill="#fff"/>
<text transform="translate(178.50,397) scale(0.75,1)" font-size="14" text-anchor="middle">J</text>
<text transform="translate(186.17,397) scale(0.75,1)" font-size="14" text-anchor="middle">P</text>
<rect x="193" y="387" width="1" height="10" fill="#000"/>
<rect x="192" y="389" width="1" height="1" fill="#000"/>
<rect x="191" y="390" width="1" height="1" fill="#000"/>
<text transform="translate(201.50,397) scale(0.75,1)" font-size="14" text-anchor="middle">6</text>
<rect x="59" y="398" width="7" height="26" fill="#000"/>
<rect x="60" y="399" width="5" height="1" fill="#fff"/>
<rect x="60" y="405" width="5" height="1" fill="#fff"/>
<rect x="60" y="411" width="5" height="1" fill="#fff"/>
<rect x="60" y="416" width="5" height="1" fill="#fff"/>
<rect x="60" y="422" width="5" height="1" fill="#fff"/>
<rect x="61" y="418" width="3" height="3" fill="#fff"/>
<rect x="59" y="426" width="18" height="1" fill="#000"/>
<rect x="59" y="427" width="18" height="1" fill="#000"/>
<rect x="59" y="428" width="1" height="1" fill="#000"/>
<rect x="60" y="428" width="4" height="1" fill="#fff"/>
<rect x="64" y="428" width="2" height="1" fill="#000"/>
<rect x="66" y="428" width="4" height="1" fill="#fff"/>
<rect x="70" y="428" width="2" height="1" fill="#000"/>
<rect x="72" y="428" width="4" height="1" fill="#fff"/>
<rect x="76" y="428" width="1" height="1" fill="#000"/>
<rect x="59" y="429" width="18" height="1" fill="#000"/>
<rect x="59" y="430" width="18" height="1" fill="#000"/>
<rect x="59" y="431" width="18" height="1" fill="#000"/>
<rect x="59" y="432" width="18" height="1" fill="#000"/>
<rect x="59" y="433" width="1" height="1" fill="#000"/>
<rect x="60" y="433" width="4" height="1" fill="#fff"/>
<rect x="64" y="433" width="2" height="1" fill="#000"/>
<rect x="66" y="433" width="4" height="1" fill="#fff"/>
<rect x="70" y="433" width="2" height="1" fill="#000"/>
<rect x="72" y="433" width="4" height="1" fill="#fff"/>
<rect x="76" y="433" width="1" height="1" fill="#000"/>
<rect x="59" y="434" width="18" height="1" fill="#000"/>
<rect x="59" y="435" width="18" height="1" fill="#000"/>
<rect x="59" y="436" width="18" height="1" fill="#000"/>
<rect x="59" y="437" width="18" height="1" fill="#000"/>
<rect x="59" y="438" width="18" height="1" fill="#000"/>
<rect x="59" y="439" width="1" height="1" fill="#000"/>
<rect x="60" y="439" width="4" height="1" fill="#fff"/>
<rect x="64" y="439" width="2" height="1" fill="#000"/>
<rect x="66" y="439" width="4" height="1" fill="#fff"/>
<rect x="70" y="439" width="2" height="1" fill="#000"/>
<rect x="72" y="439" width="4" height="1" fill="#fff"/>
<rect x="76" y="439" width="1" height="1" fill="#000"/>
<rect x="59" y="440" width="8" height="1" fill="#000"/>
<rect x="67" y="440" width="3" height="1" fill="#fff"/>
<rect x="70" y="440" width="7" height="1" fill="#000"/>
<rect x="59" y="441" width="8" height="1" fill="#000"/>
<rect x="67" y="441" width="3" height="1" fill="#fff"/>
<rect x="70" y="441" width="7" height="1" fill="#000"/>
<rect x="59" y="442" width="8" height="1" fill="#000"/>
<rect x="67" y="442" width="3" height="1" fill="#fff"/>
<rect x="70" y="442" width="7" height="1" fill="#000"/>
<rect x="59" y="443" width="18" height="1" fill="#000"/>
<rect x="59" y="444" width="1" height="1" fill="#000"/>
<rect x="60" y="444" width="4" height="1" fill="#fff"/>
<rect x="64" y="444" width="2" height="1" fill="#000"/>
<rect x="66" y="444" width="4" height="1" fill="#fff"/>
<rect x="70" y="444" width="2" height="1" fill="#000"/>
<rect x="72" y="444" width="4" height="1" fill="#fff"/>
<rect x="76" y="444" width="1" height="1" fill="#000"/>
<rect x="59" y="445" width="18" height="1" fill="#000"/>
<rect x="59" y="446" width="6" height="1" fill="#000"/>
<rect x="65" y="446" width="6" height="1" fill="#fff"/>
<rect x="71" y="446" width="6" height="1" fill="#000"/>
<rect x="59" y="447" width="2" height="1" fill="#000"/>
<rect x="61" y="447" width="2" height="1" fill="#fff"/>
<rect x="63" y="447" width="2" height="1" fill="#000"/>
<rect x="65" y="447" width="6" height="1" fill="#fff"/>
<rect x="71" y="447" width="2" height="1" fill="#000"/>
<rect x="73" y="447" width="2" height="1" fill="#fff"/>
<rect x="75" y="447" width="2" height="1" fill="#000"/>
<rect x="59" y="448" width="2" height="1" fill="#000"/>
<rect x="61" y="448" width="2" height="1" fill="#fff"/>
<rect x="63" y="448" width="2" height="1" fill="#000"/>
<rect x="65" y="448" width="6" height="1" fill="#fff"/>
<rect x="71" y="448" width="2" height="1" fill="#000"/>
<rect x="73" y="448" width="2" height="1" fill="#fff"/>
<rect x="75" y="448" width="2" height="1" fill="#000"/>
<rect x="59" y="449" width="6" height="1" fill="#000"/>
<rect x="65" y="449" width="6" height="1" fill="#fff"/>
<rect x="71" y="449" width="6" height="1" fill="#000"/>
<rect x="59" y="450" width="1" height="1" fill="#000"/>
<rect x="60" y="450" width="4" height="1" fill="#fff"/>
<rect x="64" y="450" width="1" height="1" fill="#000"/>
<rect x="65" y="450" width="6" height="1" fill="#fff"/>
<rect x="71" y="450" width="1" height="1" fill="#000"/>
<rect x="72" y="450" width="4" height="1" fill="#fff"/>
<rect x="76" y="450" width="1" height="1" fill="#000"/>
<rect x="59" y="451" width="6" height="1" fill="#000"/>
<rect x="65" y="451" width="6" height="1" fill="#fff"/>
<rect x="71" y="451" width="6" height="1" fill="#000"/>
<polygon points="73.75980248039255,415.45600508798475 69.0672018655944,425.4170011659965 70.9327981344056,426.5829988340035 77.83019433961698,418.0" fill="#000"/>
<rect x="74" y="402" width="34" height="17" rx="2" fill="#000"/>
<rect x="76" y="404" width="30" height="12" rx="1" fill="#fff"/>
<polygon points="75.91159817680547,415.0320059359822 71.5,423.6 77.26839546321362,415.8800042399873" fill="#fff"/>
<text transform="translate(81.50,416) scale(0.75,1)" font-size="14" text-anchor="middle">J</text>
<text transform="translate(90.00,416) scale(0.75,1)" font-size="14" text-anchor="middle">P</text>
<text transform="translate(98.50,416) scale(0.75,1)" font-size="14" text-anchor="middle">8</text>
<polyline points="53,409 59,409" fill="none" stroke="#000" stroke-width="2" stroke-linejoin="miter" stroke-linecap="square"/>
<rect x="3" y="400" width="40" height="19" rx="2" fill="#000"/>
<rect x="6" y="402" width="35" height="14" rx="1" fill="#fff"/>
<polygon points="42,404.5 53,408 53,410 42,413.5" fill="#000"/>
<polygon points="40,406.5 50,409 40,411.5" fill="#fff"/>
<text transform="translate(11.50,414) scale(0.75,1)" font-size="14" text-anchor="middle">J</text>
<text transform="translate(19.50,414) scale(0.75,1)" font-size="14" text-anchor="middle">P</text>
<rect x="27" y="404" width="1" height="10" fill="#000"/>
<rect x="26" y="406" width="1" height="1" fill="#000"/>
<rect x="25" y="407" width="1" height="1" fill="#000"/>
<text transform="translate(35.50,414) scale(0.75,1)" font-size="14" text-anchor="middle">5</text>
<polyline points="53,439 59,439" fill="none" stroke="#000" stroke-width="2" stroke-linejoin="miter" stroke-linecap="square"/>
<rect x="9" y="430" width="34" height="19" rx="2" fill="#000"/>
<rect x="12" y="432" width="29" height="14" rx="1" fill="#fff"/>
<polygon points="42,434.5 53,438 53,440 42,443.5" fill="#000"/>
<polygon points="40,436.5 50,439 40,441.5" fill="#fff"/>
<text transform="translate(17.50,444) scale(0.75,1)" font-size="14" text-anchor="middle">J</text>
<text transform="translate(26.00,444) scale(0.75,1)" font-size="14" text-anchor="middle">P</text>
<text transform="translate(34.50,444) scale(0.75,1)" font-size="14" text-anchor="middle">9</text>
<polyline points="81,440 77,440" fill="none" stroke="#000" stroke-width="2" stroke-linejoin="miter" stroke-linecap="square"/>
<rect x="91" y="431" width="36" height="18" rx="2" fill="#000"/>
<rect x="93" y="433" width="32" height="13" rx="1" fill="#fff"/>
<polygon points="92,435.5 81,439 81,441 92,444.5" fill="#000"/>
<polygon points="94,437.5 84,440 94,442.5" fill="#fff"/>
<text transform="translate(99.50,444) scale(0.75,1)" font-size="14" text-anchor="middle">J</text>
<text transform="translate(108.00,444) scale(0.75,1)" font-size="14" text-anchor="middle">P</text>
<text transform="translate(116.50,444) scale(0.75,1)" font-size="14" text-anchor="middle">7</text>
<rect x="64" y="456" width="7" height="19" fill="#000"/>
<rect x="65" y="462" width="5" height="1" fill="#fff"/>
<rect x="65" y="468" width="5" height="1" fill="#fff"/>
<rect x="65" y="473" width="5" height="1" fill="#fff"/>
<rect x="66" y="470" width="3" height="2" fill="#fff"/>
<polyline points="60,465 64,465" fill="none" stroke="#000" stroke-width="2" stroke-linejoin="miter" stroke-linecap="square"/>
<rect x="8" y="455" width="42" height="19" rx="2" fill="#000"/>
<rect x="11" y="457" width="37" height="14" rx="1" fill="#fff"/>
<polygon points="49,460.5 60,464 60,466 49,469.5" fill="#000"/>
<polygon points="47,462.5 57,465 47,467.5" fill="#fff"/>
<text transform="translate(17.50,469) scale(0.75,1)" font-size="14" text-anchor="middle">J</text>
<text transform="translate(25.50,469) scale(0.75,1)" font-size="14" text-anchor="middle">P</text>
<text transform="translate(33.50,469) scale(0.75,1)" font-size="14" text-anchor="middle">4</text>
<text transform="translate(41.50,469) scale(0.75,1)" font-size="14" text-anchor="middle">5</text>
<rect x="61" y="479" width="13" height="1" fill="#000"/>
<rect x="61" y="480" width="1" height="1" fill="#000"/>
<rect x="62" y="480" width="1" height="1" fill="#fff"/>
<rect x="63" y="480" width="11" height="1" fill="#000"/>
<rect x="61" y="481" width="1" height="1" fill="#000"/>
<rect x="62" y="481" width="1" height="1" fill="#fff"/>
<rect x="63" y="481" width="11" height="1" fill="#000"/>
<rect x="61" y="482" width="1" height="1" fill="#000"/>
<rect x="62" y="482" width="1" height="1" fill="#fff"/>
<rect x="63" y="482" width="11" height="1" fill="#000"/>
<rect x="61" y="483" width="1" height="1" fill="#000"/>
<rect x="62" y="483" width="1" height="1" fill="#fff"/>
<rect x="63" y="483" width="11" height="1" fill="#000"/>
<rect x="61" y="484" width="1" height="1" fill="#000"/>
<rect x="62" y="484" width="1" height="1" fill="#fff"/>
<rect x="63" y="484" width="17" height="1" fill="#000"/>
<rect x="61" y="485" width="1" height="1" fill="#000"/>
<rect x="62" y="485" width="5" height="1" fill="#fff"/>
<rect x="67" y="485" width="1" height="1" fill="#000"/>
<rect x="68" y="485" width="5" height="1" fill="#fff"/>
<rect x="73" y="485" width="1" height="1" fill="#000"/>
<rect x="74" y="485" width="5" height="1" fill="#fff"/>
<rect x="79" y="485" width="1" height="1" fill="#000"/>
<rect x="61" y="486" width="1" height="1" fill="#000"/>
<rect x="62" y="486" width="1" height="1" fill="#fff"/>
<rect x="63" y="486" width="17" height="1" fill="#000"/>
<rect x="61" y="487" width="1" height="1" fill="#000"/>
<rect x="62" y="487" width="1" height="1" fill="#fff"/>
<rect x="63" y="487" width="17" height="1" fill="#000"/>
<rect x="61" y="488" width="1" height="1" fill="#000"/>
<rect x="62" y="488" width="1" height="1" fill="#fff"/>
<rect x="63" y="488" width="17" height="1" fill="#000"/>
<rect x="61" y="489" width="1" height="1" fill="#000"/>
<rect x="62" y="489" width="1" height="1" fill="#fff"/>
<rect x="63" y="489" width="17" height="1" fill="#000"/>
<rect x="61" y="490" width="1" height="1" fill="#000"/>
<rect x="62" y="490" width="5" height="1" fill="#fff"/>
<rect x="67" y="490" width="1" height="1" fill="#000"/>
<rect x="68" y="490" width="5" height="1" fill="#fff"/>
<rect x="73" y="490" width="1" height="1" fill="#000"/>
<rect x="74" y="490" width="5" height="1" fill="#fff"/>
<rect x="79" y="490" width="1" height="1" fill="#000"/>
<rect x="61" y="491" width="1" height="1" fill="#000"/>
<rect x="62" y="491" width="1" height="1" fill="#fff"/>
<rect x="63" y="491" width="1" height="1" fill="#000"/>
<rect x="64" y="491" width="2" height="1" fill="#fff"/>
<rect x="66" y="491" width="3" height="1" fill="#000"/>
<rect x="69" y="491" width="3" height="1" fill="#fff"/>
<rect x="72" y="491" width="8" height="1" fill="#000"/>
<rect x="61" y="492" width="1" height="1" fill="#000"/>
<rect x="62" y="492" width="1" height="1" fill="#fff"/>
<rect x="63" y="492" width="1" height="1" fill="#000"/>
<rect x="64" y="492" width="2" height="1" fill="#fff"/>
<rect x="66" y="492" width="3" height="1" fill="#000"/>
<rect x="69" y="492" width="3" height="1" fill="#fff"/>
<rect x="72" y="492" width="8" height="1" fill="#000"/>
<rect x="61" y="493" width="1" height="1" fill="#000"/>
<rect x="62" y="493" width="1" height="1" fill="#fff"/>
<rect x="63" y="493" width="1" height="1" fill="#000"/>
<rect x="64" y="493" width="2" height="1" fill="#fff"/>
<rect x="66" y="493" width="3" height="1" fill="#000"/>
<rect x="69" y="493" width="3" height="1" fill="#fff"/>
<rect x="72" y="493" width="8" height="1" fill="#000"/>
<rect x="61" y="494" width="1" height="1" fill="#000"/>
<rect x="62" y="494" width="1" height="1" fill="#fff"/>
<rect x="63" y="494" width="1" height="1" fill="#000"/>
<rect x="64" y="494" width="2" height="1" fill="#fff"/>
<rect x="66" y="494" width="3" height="1" fill="#000"/>
<rect x="69" y="494" width="3" height="1" fill="#fff"/>
<rect x="72" y="494" width="8" height="1" fill="#000"/>
<rect x="61" y="495" width="1" height="1" fill="#000"/>
<rect x="62" y="495" width="1" height="1" fill="#fff"/>
<rect x="63" y="495" width="17" height="1" fill="#000"/>
<rect x="61" y="496" width="1" height="1" fill="#000"/>
<rect x="62" y="496" width="5" height="1" fill="#fff"/>
<rect x="67" y="496" width="1" height="1" fill="#000"/>
<rect x="68" y="496" width="5" height="1" fill="#fff"/>
<rect x="73" y="496" width="1" height="1" fill="#000"/>
<rect x="74" y="496" width="5" height="1" fill="#fff"/>
<rect x="79" y="496" width="1" height="1" fill="#000"/>
<rect x="61" y="497" width="19" height="1" fill="#000"/>
<polygon points="79.3636038969321,472.24228355337243 73.2221825406948,480.2221825406948 74.7778174593052,481.7778174593052 82.75771644662753,475.6363961030679" fill="#000"/>
<rect x="79" y="458" width="35" height="19" rx="2" fill="#000"/>
<rect x="82" y="460" width="30" height="15" rx="1" fill="#fff"/>
<polygon points="81.55563491861041,472.3129942314911 75.8,479.2 82.68700576850888,473.4443650813896" fill="#fff"/>
<text transform="translate(88.50,472) scale(0.75,1)" font-size="14" text-anchor="middle">J</text>
<text transform="translate(97.00,472) scale(0.75,1)" font-size="14" text-anchor="middle">P</text>
<text transform="translate(105.50,472) scale(0.75,1)" font-size="14" text-anchor="middle">2</text>
<polyline points="56,488 61,488" fill="none" stroke="#000" stroke-width="2" stroke-linejoin="miter" stroke-linecap="square"/>
<rect x="5" y="479" width="41" height="19" rx="2" fill="#000"/>
<rect x="8" y="481" width="36" height="14" rx="1" fill="#fff"/>
<polygon points="45,483.5 56,487 56,489 45,492.5" fill="#000"/>
<polygon points="43,485.5 53,488 43,490.5" fill="#fff"/>
<text transform="translate(12.50,494) scale(0.75,1)" font-size="14" text-anchor="middle">J</text>
<text transform="translate(20.17,494) scale(0.75,1)" font-size="14" text-anchor="middle">P</text>
<text transform="translate(27.83,494) scale(0.75,1)" font-size="14" text-anchor="middle">4</text>
<text transform="translate(35.50,494) scale(0.75,1)" font-size="14" text-anchor="middle">4</text>
<polyline points="84,491 80,491" fill="none" stroke="#000" stroke-width="2" stroke-linejoin="miter" stroke-linecap="square"/>
<rect x="94" y="483" width="35" height="17" rx="2" fill="#000"/>
<rect x="96" y="485" width="31" height="12" rx="1" fill="#fff"/>
<polygon points="95,486.5 84,490 84,492 95,495.5" fill="#000"/>
<polygon points="97,488.5 87,491 97,493.5" fill="#fff"/>
<text transform="translate(104.50,496) scale(0.75,1)" font-size="14" text-anchor="middle">J</text>
<text transform="translate(113.00,496) scale(0.75,1)" font-size="14" text-anchor="middle">P</text>
<rect x="121" y="486" width="1" height="10" fill="#000"/>
<rect x="120" y="488" width="1" height="1" fill="#000"/>
<rect x="119" y="489" width="1" height="1" fill="#000"/>
<rect x="216" y="457" width="19" height="14" fill="#000"/>
<rect x="217" y="458" width="17" height="12" fill="#fff"/>
<rect x="218" y="459" width="4" height="4" fill="#000"/>
<rect x="224" y="459" width="4" height="4" fill="#000"/>
<rect x="229" y="459" width="4" height="4" fill="#000"/>
<rect x="230" y="460" width="2" height="2" fill="#fff"/>
<rect x="218" y="465" width="4" height="4" fill="#000"/>
<rect x="224" y="465" width="4" height="4" fill="#000"/>
<rect x="229" y="465" width="4" height="4" fill="#000"/>
<rect x="216" y="475" width="19" height="13" fill="#000"/>
<rect x="217" y="476" width="17" height="11" fill="#fff"/>
<rect x="218" y="477" width="4" height="4" fill="#000"/>
<rect x="224" y="477" width="4" height="4" fill="#000"/>
<rect x="229" y="477" width="4" height="4" fill="#000"/>
<rect x="230" y="478" width="2" height="2" fill="#fff"/>
<rect x="218" y="483" width="4" height="5" fill="#000"/>
<rect x="224" y="483" width="4" height="5" fill="#000"/>
<rect x="229" y="483" width="4" height="5" fill="#000"/>
<text x="209" y="462" font-size="11">5</text>
<text x="209" y="472" font-size="11">6</text>
<text x="235" y="472" font-size="11">2</text>
<text x="211" y="482" font-size="11">5</text>
<text x="210" y="492" font-size="11">6</text>
<text x="234" y="491" font-size="11">2</text>
<polyline points="225,450 225,457" fill="none" stroke="#000" stroke-width="2" stroke-linejoin="miter" stroke-linecap="square"/>
<rect x="209" y="422" width="33" height="19" rx="2" fill="#000"/>
<rect x="211" y="424" width="29" height="14" rx="1" fill="#fff"/>
<polygon points="220,440 224,451 226,451 230,440" fill="#000"/>
<polygon points="222.5,438 225,447 227.5,438" fill="#fff"/>
<text transform="translate(216.50,436) scale(0.75,1)" font-size="14" text-anchor="middle">J</text>
<text transform="translate(224.50,436) scale(0.75,1)" font-size="14" text-anchor="middle">P</text>
<text transform="translate(232.50,436) scale(0.75,1)" font-size="14" text-anchor="middle">4</text>
<polyline points="225,495 225,487" fill="none" stroke="#000" stroke-width="2" stroke-linejoin="miter" stroke-linecap="square"/>
<rect x="209" y="504" width="34" height="19" rx="2" fill="#000"/>
<rect x="211" y="506" width="30" height="14" rx="1" fill="#fff"/>
<polygon points="220,505 224,494 226,494 230,505" fill="#000"/>
<polygon points="222.5,507 225,498 227.5,507" fill="#fff"/>
<text transform="translate(217.50,518) scale(0.75,1)" font-size="14" text-anchor="middle">J</text>
<text transform="translate(225.50,518) scale(0.75,1)" font-size="14" text-anchor="middle">P</text>
<text transform="translate(233.50,518) scale(0.75,1)" font-size="14" text-anchor="middle">6</text>
<rect x="266" y="435" width="278" height="16" fill="#000"/>
<rect x="267" y="436" width="276" height="14" fill="#fff"/>
<rect x="266" y="435" width="23" height="1" fill="#000"/>
<rect x="266" y="436" width="1" height="1" fill="#000"/>
<rect x="267" y="436" width="7" height="1" fill="#fff"/>
<rect x="274" y="436" width="1" height="1" fill="#000"/>
<rect x="275" y="436" width="14" height="1" fill="#fff"/>
<rect x="266" y="437" width="1" height="1" fill="#000"/>
<rect x="267" y="437" width="7" height="1" fill="#fff"/>
<rect x="274" y="437" width="1" height="1" fill="#000"/>
<rect x="275" y="437" width="1" height="1" fill="#fff"/>
<rect x="276" y="437" width="2" height="1" fill="#000"/>
<rect x="278" y="437" width="11" height="1" fill="#fff"/>
<rect x="266" y="438" width="9" height="1" fill="#000"/>
<rect x="275" y="438" width="1" height="1" fill="#fff"/>
<rect x="276" y="438" width="12" height="1" fill="#000"/>
<rect x="288" y="438" width="1" height="1" fill="#fff"/>
<rect x="266" y="439" width="1" height="1" fill="#000"/>
<rect x="267" y="439" width="7" height="1" fill="#fff"/>
<rect x="274" y="439" width="1" height="1" fill="#000"/>
<rect x="275" y="439" width="1" height="1" fill="#fff"/>
<rect x="276" y="439" width="3" height="1" fill="#000"/>
<rect x="279" y="439" width="8" height="1" fill="#fff"/>
<rect x="287" y="439" width="1" height="1" fill="#000"/>
<rect x="288" y="439" width="1" height="1" fill="#fff"/>
<rect x="266" y="440" width="1" height="1" fill="#000"/>
<rect x="267" y="440" width="7" height="1" fill="#fff"/>
<rect x="274" y="440" width="1" height="1" fill="#000"/>
<rect x="275" y="440" width="1" height="1" fill="#fff"/>
<rect x="276" y="440" width="3" height="1" fill="#000"/>
<rect x="279" y="440" width="8" height="1" fill="#fff"/>
<rect x="287" y="440" width="1" height="1" fill="#000"/>
<rect x="288" y="440" width="1" height="1" fill="#fff"/>
<rect x="266" y="441" width="1" height="1" fill="#000"/>
<rect x="267" y="441" width="7" height="1" fill="#fff"/>
<rect x="274" y="441" width="1" height="1" fill="#000"/>
<rect x="275" y="441" width="1" height="1" fill="#fff"/>
<rect x="276" y="441" width="3" height="1" fill="#000"/>
<rect x="279" y="441" width="8" height="1" fill="#fff"/>
<rect x="287" y="441" width="1" height="1" fill="#000"/>
<rect x="288" y="441" width="1" height="1" fill="#fff"/>
<rect x="266" y="442" width="1" height="1" fill="#000"/>
<rect x="267" y="442" width="7" height="1" fill="#fff"/>
<rect x="274" y="442" width="1" height="1" fill="#000"/>
<rect x="275" y="442" width="1" height="1" fill="#fff"/>
<rect x="276" y="442" width="3" height="1" fill="#000"/>
<rect x="279" y="442" width="8" height="1" fill="#fff"/>
<rect x="287" y="442" width="1" height="1" fill="#000"/>
<rect x="288" y="442" width="1" height="1" fill="#fff"/>
<rect x="266" y="443" width="1" height="1" fill="#000"/>
<rect x="267" y="443" width="7" height="1" fill="#fff"/>
<rect x="274" y="443" width="1" height="1" fill="#000"/>
<rect x="275" y="443" width="1" height="1" fill="#fff"/>
<rect x="276" y="443" width="3" height="1" fill="#000"/>
<rect x="279" y="443" width="1" height="1" fill="#fff"/>
<rect x="280" y="443" width="6" height="1" fill="#000"/>
<rect x="286" y="443" width="1" height="1" fill="#fff"/>
<rect x="287" y="443" width="1" height="1" fill="#000"/>
<rect x="288" y="443" width="1" height="1" fill="#fff"/>
<rect x="266" y="444" width="9" height="1" fill="#000"/>
<rect x="275" y="444" width="1" height="1" fill="#fff"/>
<rect x="276" y="444" width="2" height="1" fill="#000"/>
<rect x="278" y="444" width="1" height="1" fill="#fff"/>
<rect x="279" y="444" width="2" height="1" fill="#000"/>
<rect x="281" y="444" width="4" height="1" fill="#fff"/>
<rect x="285" y="444" width="3" height="1" fill="#000"/>
<rect x="288" y="444" width="1" height="1" fill="#fff"/>
<rect x="266" y="445" width="1" height="1" fill="#000"/>
<rect x="267" y="445" width="7" height="1" fill="#fff"/>
<rect x="274" y="445" width="1" height="1" fill="#000"/>
<rect x="275" y="445" width="1" height="1" fill="#fff"/>
<rect x="276" y="445" width="2" height="1" fill="#000"/>
<rect x="278" y="445" width="7" height="1" fill="#fff"/>
<rect x="285" y="445" width="3" height="1" fill="#000"/>
<rect x="288" y="445" width="1" height="1" fill="#fff"/>
<rect x="266" y="446" width="1" height="1" fill="#000"/>
<rect x="267" y="446" width="7" height="1" fill="#fff"/>
<rect x="274" y="446" width="1" height="1" fill="#000"/>
<rect x="275" y="446" width="1" height="1" fill="#fff"/>
<rect x="276" y="446" width="2" height="1" fill="#000"/>
<rect x="278" y="446" width="7" height="1" fill="#fff"/>
<rect x="285" y="446" width="3" height="1" fill="#000"/>
<rect x="288" y="446" width="1" height="1" fill="#fff"/>
<rect x="266" y="447" width="1" height="1" fill="#000"/>
<rect x="267" y="447" width="7" height="1" fill="#fff"/>
<rect x="274" y="447" width="1" height="1" fill="#000"/>
<rect x="275" y="447" width="1" height="1" fill="#fff"/>
<rect x="276" y="447" width="2" height="1" fill="#000"/>
<rect x="278" y="447" width="7" height="1" fill="#fff"/>
<rect x="285" y="447" width="3" height="1" fill="#000"/>
<rect x="288" y="447" width="1" height="1" fill="#fff"/>
<rect x="266" y="448" width="1" height="1" fill="#000"/>
<rect x="267" y="448" width="7" height="1" fill="#fff"/>
<rect x="274" y="448" width="1" height="1" fill="#000"/>
<rect x="275" y="448" width="1" height="1" fill="#fff"/>
<rect x="276" y="448" width="2" height="1" fill="#000"/>
<rect x="278" y="448" width="7" height="1" fill="#fff"/>
<rect x="285" y="448" width="3" height="1" fill="#000"/>
<rect x="288" y="448" width="1" height="1" fill="#fff"/>
<rect x="266" y="449" width="1" height="1" fill="#000"/>
<rect x="267" y="449" width="7" height="1" fill="#fff"/>
<rect x="274" y="449" width="15" height="1" fill="#000"/>
<rect x="266" y="450" width="23" height="1" fill="#000"/>
<rect x="521" y="435" width="23" height="1" fill="#000"/>
<rect x="521" y="436" width="14" height="1" fill="#fff"/>
<rect x="535" y="436" width="1" height="1" fill="#000"/>
<rect x="536" y="436" width="7" height="1" fill="#fff"/>
<rect x="543" y="436" width="1" height="1" fill="#000"/>
<rect x="521" y="437" width="11" height="1" fill="#fff"/>
<rect x="532" y="437" width="2" height="1" fill="#000"/>
<rect x="534" y="437" width="1" height="1" fill="#fff"/>
<rect x="535" y="437" width="1" height="1" fill="#000"/>
<rect x="536" y="437" width="7" height="1" fill="#fff"/>
<rect x="543" y="437" width="1" height="1" fill="#000"/>
<rect x="521" y="438" width="1" height="1" fill="#fff"/>
<rect x="522" y="438" width="12" height="1" fill="#000"/>
<rect x="534" y="438" width="1" height="1" fill="#fff"/>
<rect x="535" y="438" width="9" height="1" fill="#000"/>
<rect x="521" y="439" width="1" height="1" fill="#fff"/>
<rect x="522" y="439" width="1" height="1" fill="#000"/>
<rect x="523" y="439" width="8" height="1" fill="#fff"/>
<rect x="531" y="439" width="3" height="1" fill="#000"/>
<rect x="534" y="439" width="1" height="1" fill="#fff"/>
<rect x="535" y="439" width="1" height="1" fill="#000"/>
<rect x="536" y="439" width="7" height="1" fill="#fff"/>
<rect x="543" y="439" width="1" height="1" fill="#000"/>
<rect x="521" y="440" width="1" height="1" fill="#fff"/>
<rect x="522" y="440" width="1" height="1" fill="#000"/>
<rect x="523" y="440" width="8" height="1" fill="#fff"/>
<rect x="531" y="440" width="3" height="1" fill="#000"/>
<rect x="534" y="440" width="1" height="1" fill="#fff"/>
<rect x="535" y="440" width="1" height="1" fill="#000"/>
<rect x="536" y="440" width="7" height="1" fill="#fff"/>
<rect x="543" y="440" width="1" height="1" fill="#000"/>
<rect x="521" y="441" width="1" height="1" fill="#fff"/>
<rect x="522" y="441" width="1" height="1" fill="#000"/>
<rect x="523" y="441" width="8" height="1" fill="#fff"/>
<rect x="531" y="441" width="3" height="1" fill="#000"/>
<rect x="534" y="441" width="1" height="1" fill="#fff"/>
<rect x="535" y="441" width="1" height="1" fill="#000"/>
<rect x="536" y="441" width="7" height="1" fill="#fff"/>
<rect x="543" y="441" width="1" height="1" fill="#000"/>
<rect x="521" y="442" width="1" height="1" fill="#fff"/>
<rect x="522" y="442" width="1" height="1" fill="#000"/>
<rect x="523" y="442" width="8" height="1" fill="#fff"/>
<rect x="531" y="442" width="3" height="1" fill="#000"/>
<rect x="534" y="442" width="1" height="1" fill="#fff"/>
<rect x="535" y="442" width="1" height="1" fill="#000"/>
<rect x="536" y="442" width="7" height="1" fill="#fff"/>
<rect x="543" y="442" width="1" height="1" fill="#000"/>
<rect x="521" y="443" width="1" height="1" fill="#fff"/>
<rect x="522" y="443" width="1" height="1" fill="#000"/>
<rect x="523" y="443" width="1" height="1" fill="#fff"/>
<rect x="524" y="443" width="6" height="1" fill="#000"/>
<rect x="530" y="443" width="1" height="1" fill="#fff"/>
<rect x="531" y="443" width="3" height="1" fill="#000"/>
<rect x="534" y="443" width="1" height="1" fill="#fff"/>
<rect x="535" y="443" width="1" height="1" fill="#000"/>
<rect x="536" y="443" width="7" height="1" fill="#fff"/>
<rect x="543" y="443" width="1" height="1" fill="#000"/>
<rect x="521" y="444" width="1" height="1" fill="#fff"/>
<rect x="522" y="444" width="3" height="1" fill="#000"/>
<rect x="525" y="444" width="4" height="1" fill="#fff"/>
<rect x="529" y="444" width="2" height="1" fill="#000"/>
<rect x="531" y="444" width="1" height="1" fill="#fff"/>
<rect x="532" y="444" width="2" height="1" fill="#000"/>
<rect x="534" y="444" width="1" height="1" fill="#fff"/>
<rect x="535" y="444" width="9" height="1" fill="#000"/>
<rect x="521" y="445" width="1" height="1" fill="#fff"/>
<rect x="522" y="445" width="3" height="1" fill="#000"/>
<rect x="525" y="445" width="7" height="1" fill="#fff"/>
<rect x="532" y="445" width="2" height="1" fill="#000"/>
<rect x="534" y="445" width="1" height="1" fill="#fff"/>
<rect x="535" y="445" width="1" height="1" fill="#000"/>
<rect x="536" y="445" width="7" height="1" fill="#fff"/>
<rect x="543" y="445" width="1" height="1" fill="#000"/>
<rect x="521" y="446" width="1" height="1" fill="#fff"/>
<rect x="522" y="446" width="3" height="1" fill="#000"/>
<rect x="525" y="446" width="7" height="1" fill="#fff"/>
<rect x="532" y="446" width="2" height="1" fill="#000"/>
<rect x="534" y="446" width="1" height="1" fill="#fff"/>
<rect x="535" y="446" width="1" height="1" fill="#000"/>
<rect x="536" y="446" width="7" height="1" fill="#fff"/>
<rect x="543" y="446" width="1" height="1" fill="#000"/>
<rect x="521" y="447" width="1" height="1" fill="#fff"/>
<rect x="522" y="447" width="3" height="1" fill="#000"/>
<rect x="525" y="447" width="7" height="1" fill="#fff"/>
<rect x="532" y="447" width="2" height="1" fill="#000"/>
<rect x="534" y="447" width="1" height="1" fill="#fff"/>
<rect x="535" y="447" width="1" height="1" fill="#000"/>
<rect x="536" y="447" width="7" height="1" fill="#fff"/>
<rect x="543" y="447" width="1" height="1" fill="#000"/>
<rect x="521" y="448" width="1" height="1" fill="#fff"/>
<rect x="522" y="448" width="3" height="1" fill="#000"/>
<rect x="525" y="448" width="7" height="1" fill="#fff"/>
<rect x="532" y="448" width="2" height="1" fill="#000"/>
<rect x="534" y="448" width="1" height="1" fill="#fff"/>
<rect x="535" y="448" width="1" height="1" fill="#000"/>
<rect x="536" y="448" width="7" height="1" fill="#fff"/>
<rect x="543" y="448" width="1" height="1" fill="#000"/>
<rect x="521" y="449" width="15" height="1" fill="#000"/>
<rect x="536" y="449" width="7" height="1" fill="#fff"/>
<rect x="543" y="449" width="1" height="1" fill="#000"/>
<rect x="521" y="450" width="23" height="1" fill="#000"/>
<rect x="289" y="437" width="87" height="7" fill="#000"/>
<rect x="290" y="443" width="85" height="6" fill="#000"/>
<rect x="290" y="439" width="1" height="4" fill="#fff"/>
<rect x="293" y="439" width="1" height="4" fill="#fff"/>
<rect x="293" y="437" width="1" height="1" fill="#fff"/>
<rect x="295" y="439" width="1" height="4" fill="#fff"/>
<rect x="298" y="439" width="1" height="4" fill="#fff"/>
<rect x="298" y="437" width="1" height="1" fill="#fff"/>
<rect x="301" y="439" width="1" height="4" fill="#fff"/>
<rect x="303" y="439" width="1" height="4" fill="#fff"/>
<rect x="303" y="437" width="1" height="1" fill="#fff"/>
<rect x="306" y="439" width="1" height="4" fill="#fff"/>
<rect x="309" y="439" width="1" height="4" fill="#fff"/>
<rect x="309" y="437" width="1" height="1" fill="#fff"/>
<rect x="311" y="439" width="1" height="4" fill="#fff"/>
<rect x="314" y="439" width="1" height="4" fill="#fff"/>
<rect x="314" y="437" width="1" height="1" fill="#fff"/>
<rect x="317" y="439" width="1" height="4" fill="#fff"/>
<rect x="319" y="439" width="1" height="4" fill="#fff"/>
<rect x="319" y="437" width="1" height="1" fill="#fff"/>
<rect x="322" y="439" width="1" height="4" fill="#fff"/>
<rect x="325" y="439" width="1" height="4" fill="#fff"/>
<rect x="325" y="437" width="1" height="1" fill="#fff"/>
<rect x="327" y="439" width="1" height="4" fill="#fff"/>
<rect x="330" y="439" width="1" height="4" fill="#fff"/>
<rect x="330" y="437" width="1" height="1" fill="#fff"/>
<rect x="333" y="439" width="1" height="4" fill="#fff"/>
<rect x="335" y="439" width="1" height="4" fill="#fff"/>
<rect x="335" y="437" width="1" height="1" fill="#fff"/>
<rect x="338" y="439" width="1" height="4" fill="#fff"/>
<rect x="341" y="439" width="1" height="4" fill="#fff"/>
<rect x="341" y="437" width="1" height="1" fill="#fff"/>
<rect x="343" y="439" width="1" height="4" fill="#fff"/>
<rect x="346" y="439" width="1" height="4" fill="#fff"/>
<rect x="346" y="437" width="1" height="1" fill="#fff"/>
<rect x="349" y="439" width="1" height="4" fill="#fff"/>
<rect x="351" y="439" width="1" height="4" fill="#fff"/>
<rect x="351" y="437" width="1" height="1" fill="#fff"/>
<rect x="354" y="439" width="1" height="4" fill="#fff"/>
<rect x="357" y="439" width="1" height="4" fill="#fff"/>
<rect x="357" y="437" width="1" height="1" fill="#fff"/>
<rect x="359" y="439" width="1" height="4" fill="#fff"/>
<rect x="362" y="439" width="1" height="4" fill="#fff"/>
<rect x="362" y="437" width="1" height="1" fill="#fff"/>
<rect x="365" y="439" width="1" height="4" fill="#fff"/>
<rect x="367" y="439" width="1" height="4" fill="#fff"/>
<rect x="367" y="437" width="1" height="1" fill="#fff"/>
<rect x="370" y="439" width="1" height="4" fill="#fff"/>
<rect x="373" y="439" width="1" height="4" fill="#fff"/>
<rect x="373" y="437" width="1" height="1" fill="#fff"/>
<rect x="435" y="437" width="86" height="7" fill="#000"/>
<rect x="436" y="443" width="84" height="6" fill="#000"/>
<rect x="436" y="439" width="1" height="4" fill="#fff"/>
<rect x="439" y="439" width="1" height="4" fill="#fff"/>
<rect x="439" y="437" width="1" height="1" fill="#fff"/>
<rect x="441" y="439" width="1" height="4" fill="#fff"/>
<rect x="444" y="439" width="1" height="4" fill="#fff"/>
<rect x="444" y="437" width="1" height="1" fill="#fff"/>
<rect x="447" y="439" width="1" height="4" fill="#fff"/>
<rect x="449" y="439" width="1" height="4" fill="#fff"/>
<rect x="449" y="437" width="1" height="1" fill="#fff"/>
<rect x="452" y="439" width="1" height="4" fill="#fff"/>
<rect x="455" y="439" width="1" height="4" fill="#fff"/>
<rect x="455" y="437" width="1" height="1" fill="#fff"/>
<rect x="457" y="439" width="1" height="4" fill="#fff"/>
<rect x="460" y="439" width="1" height="4" fill="#fff"/>
<rect x="460" y="437" width="1" height="1" fill="#fff"/>
<rect x="463" y="439" width="1" height="4" fill="#fff"/>
<rect x="465" y="439" width="1" height="4" fill="#fff"/>
<rect x="465" y="437" width="1" height="1" fill="#fff"/>
<rect x="468" y="439" width="1" height="4" fill="#fff"/>
<rect x="471" y="439" width="1" height="4" fill="#fff"/>
<rect x="471" y="437" width="1" height="1" fill="#fff"/>
<rect x="473" y="439" width="1" height="4" fill="#fff"/>
<rect x="476" y="439" width="1" height="4" fill="#fff"/>
<rect x="476" y="437" width="1" height="1" fill="#fff"/>
<rect x="479" y="439" width="1" height="4" fill="#fff"/>
<rect x="481" y="439" width="1" height="4" fill="#fff"/>
<rect x="481" y="437" width="1" height="1" fill="#fff"/>
<rect x="484" y="439" width="1" height="4" fill="#fff"/>
<rect x="487" y="439" width="1" height="4" fill="#fff"/>
<rect x="487" y="437" width="1" height="1" fill="#fff"/>
<rect x="489" y="439" width="1" height="4" fill="#fff"/>
<rect x="492" y="439" width="1" height="4" fill="#fff"/>
<rect x="492" y="437" width="1" height="1" fill="#fff"/>
<rect x="495" y="439" width="1" height="4" fill="#fff"/>
<rect x="497" y="439" width="1" height="4" fill="#fff"/>
<rect x="497" y="437" width="1" height="1" fill="#fff"/>
<rect x="500" y="439" width="1" height="4" fill="#fff"/>
<rect x="503" y="439" width="1" height="4" fill="#fff"/>
<rect x="503" y="437" width="1" height="1" fill="#fff"/>
<rect x="505" y="439" width="1" height="4" fill="#fff"/>
<rect x="508" y="439" width="1" height="4" fill="#fff"/>
<rect x="508" y="437" width="1" height="1" fill="#fff"/>
<rect x="511" y="439" width="1" height="4" fill="#fff"/>
<rect x="513" y="439" width="1" height="4" fill="#fff"/>
<rect x="513" y="437" width="1" height="1" fill="#fff"/>
<rect x="516" y="439" width="1" height="4" fill="#fff"/>
<rect x="266" y="452" width="278" height="16" fill="#000"/>
<rect x="267" y="453" width="276" height="14" fill="#fff"/>
<rect x="266" y="452" width="23" height="1" fill="#000"/>
<rect x="266" y="453" width="1" height="1" fill="#000"/>
<rect x="267" y="453" width="7" height="1" fill="#fff"/>
<rect x="274" y="453" width="1" height="1" fill="#000"/>
<rect x="275" y="453" width="14" height="1" fill="#fff"/>
<rect x="266" y="454" width="1" height="1" fill="#000"/>
<rect x="267" y="454" width="7" height="1" fill="#fff"/>
<rect x="274" y="454" width="1" height="1" fill="#000"/>
<rect x="275" y="454" width="1" height="1" fill="#fff"/>
<rect x="276" y="454" width="2" height="1" fill="#000"/>
<rect x="278" y="454" width="11" height="1" fill="#fff"/>
<rect x="266" y="455" width="9" height="1" fill="#000"/>
<rect x="275" y="455" width="1" height="1" fill="#fff"/>
<rect x="276" y="455" width="12" height="1" fill="#000"/>
<rect x="288" y="455" width="1" height="1" fill="#fff"/>
<rect x="266" y="456" width="1" height="1" fill="#000"/>
<rect x="267" y="456" width="7" height="1" fill="#fff"/>
<rect x="274" y="456" width="1" height="1" fill="#000"/>
<rect x="275" y="456" width="1" height="1" fill="#fff"/>
<rect x="276" y="456" width="3" height="1" fill="#000"/>
<rect x="279" y="456" width="8" height="1" fill="#fff"/>
<rect x="287" y="456" width="1" height="1" fill="#000"/>
<rect x="288" y="456" width="1" height="1" fill="#fff"/>
<rect x="266" y="457" width="1" height="1" fill="#000"/>
<rect x="267" y="457" width="7" height="1" fill="#fff"/>
<rect x="274" y="457" width="1" height="1" fill="#000"/>
<rect x="275" y="457" width="1" height="1" fill="#fff"/>
<rect x="276" y="457" width="3" height="1" fill="#000"/>
<rect x="279" y="457" width="8" height="1" fill="#fff"/>
<rect x="287" y="457" width="1" height="1" fill="#000"/>
<rect x="288" y="457" width="1" height="1" fill="#fff"/>
<rect x="266" y="458" width="1" height="1" fill="#000"/>
<rect x="267" y="458" width="7" height="1" fill="#fff"/>
<rect x="274" y="458" width="1" height="1" fill="#000"/>
<rect x="275" y="458" width="1" height="1" fill="#fff"/>
<rect x="276" y="458" width="3" height="1" fill="#000"/>
<rect x="279" y="458" width="8" height="1" fill="#fff"/>
<rect x="287" y="458" width="1" height="1" fill="#000"/>
<rect x="288" y="458" width="1" height="1" fill="#fff"/>
<rect x="266" y="459" width="1" height="1" fill="#000"/>
<rect x="267" y="459" width="7" height="1" fill="#fff"/>
<rect x="274" y="459" width="1" height="1" fill="#000"/>
<rect x="275" y="459" width="1" height="1" fill="#fff"/>
<rect x="276" y="459" width="3" height="1" fill="#000"/>
<rect x="279" y="459" width="8" height="1" fill="#fff"/>
<rect x="287" y="459" width="1" height="1" fill="#000"/>
<rect x="288" y="459" width="1" height="1" fill="#fff"/>
<rect x="266" y="460" width="1" height="1" fill="#000"/>
<rect x="267" y="460" width="7" height="1" fill="#fff"/>
<rect x="274" y="460" width="1" height="1" fill="#000"/>
<rect x="275" y="460" width="1" height="1" fill="#fff"/>
<rect x="276" y="460" width="3" height="1" fill="#000"/>
<rect x="279" y="460" width="1" height="1" fill="#fff"/>
<rect x="280" y="460" width="6" height="1" fill="#000"/>
<rect x="286" y="460" width="1" height="1" fill="#fff"/>
<rect x="287" y="460" width="1" height="1" fill="#000"/>
<rect x="288" y="460" width="1" height="1" fill="#fff"/>
<rect x="266" y="461" width="9" height="1" fill="#000"/>
<rect x="275" y="461" width="1" height="1" fill="#fff"/>
<rect x="276" y="461" width="2" height="1" fill="#000"/>
<rect x="278" y="461" width="1" height="1" fill="#fff"/>
<rect x="279" y="461" width="2" height="1" fill="#000"/>
<rect x="281" y="461" width="4" height="1" fill="#fff"/>
<rect x="285" y="461" width="3" height="1" fill="#000"/>
<rect x="288" y="461" width="1" height="1" fill="#fff"/>
<rect x="266" y="462" width="1" height="1" fill="#000"/>
<rect x="267" y="462" width="7" height="1" fill="#fff"/>
<rect x="274" y="462" width="1" height="1" fill="#000"/>
<rect x="275" y="462" width="1" height="1" fill="#fff"/>
<rect x="276" y="462" width="2" height="1" fill="#000"/>
<rect x="278" y="462" width="7" height="1" fill="#fff"/>
<rect x="285" y="462" width="3" height="1" fill="#000"/>
<rect x="288" y="462" width="1" height="1" fill="#fff"/>
<rect x="266" y="463" width="1" height="1" fill="#000"/>
<rect x="267" y="463" width="7" height="1" fill="#fff"/>
<rect x="274" y="463" width="1" height="1" fill="#000"/>
<rect x="275" y="463" width="1" height="1" fill="#fff"/>
<rect x="276" y="463" width="2" height="1" fill="#000"/>
<rect x="278" y="463" width="7" height="1" fill="#fff"/>
<rect x="285" y="463" width="3" height="1" fill="#000"/>
<rect x="288" y="463" width="1" height="1" fill="#fff"/>
<rect x="266" y="464" width="1" height="1" fill="#000"/>
<rect x="267" y="464" width="7" height="1" fill="#fff"/>
<rect x="274" y="464" width="1" height="1" fill="#000"/>
<rect x="275" y="464" width="1" height="1" fill="#fff"/>
<rect x="276" y="464" width="2" height="1" fill="#000"/>
<rect x="278" y="464" width="7" height="1" fill="#fff"/>
<rect x="285" y="464" width="3" height="1" fill="#000"/>
<rect x="288" y="464" width="1" height="1" fill="#fff"/>
<rect x="266" y="465" width="1" height="1" fill="#000"/>
<rect x="267" y="465" width="7" height="1" fill="#fff"/>
<rect x="274" y="465" width="1" height="1" fill="#000"/>
<rect x="275" y="465" width="1" height="1" fill="#fff"/>
<rect x="276" y="465" width="2" height="1" fill="#000"/>
<rect x="278" y="465" width="7" height="1" fill="#fff"/>
<rect x="285" y="465" width="3" height="1" fill="#000"/>
<rect x="288" y="465" width="1" height="1" fill="#fff"/>
<rect x="266" y="466" width="1" height="1" fill="#000"/>
<rect x="267" y="466" width="7" height="1" fill="#fff"/>
<rect x="274" y="466" width="15" height="1" fill="#000"/>
<rect x="266" y="467" width="23" height="1" fill="#000"/>
<rect x="521" y="452" width="23" height="1" fill="#000"/>
<rect x="521" y="453" width="14" height="1" fill="#fff"/>
<rect x="535" y="453" width="1" height="1" fill="#000"/>
<rect x="536" y="453" width="7" height="1" fill="#fff"/>
<rect x="543" y="453" width="1" height="1" fill="#000"/>
<rect x="521" y="454" width="11" height="1" fill="#fff"/>
<rect x="532" y="454" width="2" height="1" fill="#000"/>
<rect x="534" y="454" width="1" height="1" fill="#fff"/>
<rect x="535" y="454" width="1" height="1" fill="#000"/>
<rect x="536" y="454" width="7" height="1" fill="#fff"/>
<rect x="543" y="454" width="1" height="1" fill="#000"/>
<rect x="521" y="455" width="1" height="1" fill="#fff"/>
<rect x="522" y="455" width="12" height="1" fill="#000"/>
<rect x="534" y="455" width="1" height="1" fill="#fff"/>
<rect x="535" y="455" width="9" height="1" fill="#000"/>
<rect x="521" y="456" width="1" height="1" fill="#fff"/>
<rect x="522" y="456" width="1" height="1" fill="#000"/>
<rect x="523" y="456" width="8" height="1" fill="#fff"/>
<rect x="531" y="456" width="3" height="1" fill="#000"/>
<rect x="534" y="456" width="1" height="1" fill="#fff"/>
<rect x="535" y="456" width="1" height="1" fill="#000"/>
<rect x="536" y="456" width="7" height="1" fill="#fff"/>
<rect x="543" y="456" width="1" height="1" fill="#000"/>
<rect x="521" y="457" width="1" height="1" fill="#fff"/>
<rect x="522" y="457" width="1" height="1" fill="#000"/>
<rect x="523" y="457" width="8" height="1" fill="#fff"/>
<rect x="531" y="457" width="3" height="1" fill="#000"/>
<rect x="534" y="457" width="1" height="1" fill="#fff"/>
<rect x="535" y="457" width="1" height="1" fill="#000"/>
<rect x="536" y="457" width="7" height="1" fill="#fff"/>
<rect x="543" y="457" width="1" height="1" fill="#000"/>
<rect x="521" y="458" width="1" height="1" fill="#fff"/>
<rect x="522" y="458" width="1" height="1" fill="#000"/>
<rect x="523" y="458" width="8" height="1" fill="#fff"/>
<rect x="531" y="458" width="3" height="1" fill="#000"/>
<rect x="534" y="458" width="1" height="1" fill="#fff"/>
<rect x="535" y="458" width="1" height="1" fill="#000"/>
<rect x="536" y="458" width="7" height="1" fill="#fff"/>
<rect x="543" y="458" width="1" height="1" fill="#000"/>
<rect x="521" y="459" width="1" height="1" fill="#fff"/>
<rect x="522" y="459" width="1" height="1" fill="#000"/>
<rect x="523" y="459" width="8" height="1" fill="#fff"/>
<rect x="531" y="459" width="3" height="1" fill="#000"/>
<rect x="534" y="459" width="1" height="1" fill="#fff"/>
<rect x="535" y="459" width="1" height="1" fill="#000"/>
<rect x="536" y="459" width="7" height="1" fill="#fff"/>
<rect x="543" y="459" width="1" height="1" fill="#000"/>
<rect x="521" y="460" width="1" height="1" fill="#fff"/>
<rect x="522" y="460" width="1" height="1" fill="#000"/>
<rect x="523" y="460" width="1" height="1" fill="#fff"/>
<rect x="524" y="460" width="6" height="1" fill="#000"/>
<rect x="530" y="460" width="1" height="1" fill="#fff"/>
<rect x="531" y="460" width="3" height="1" fill="#000"/>
<rect x="534" y="460" width="1" height="1" fill="#fff"/>
<rect x="535" y="460" width="1" height="1" fill="#000"/>
<rect x="536" y="460" width="7" height="1" fill="#fff"/>
<rect x="543" y="460" width="1" height="1" fill="#000"/>
<rect x="521" y="461" width="1" height="1" fill="#fff"/>
<rect x="522" y="461" width="3" height="1" fill="#000"/>
<rect x="525" y="461" width="4" height="1" fill="#fff"/>
<rect x="529" y="461" width="2" height="1" fill="#000"/>
<rect x="531" y="461" width="1" height="1" fill="#fff"/>
<rect x="532" y="461" width="2" height="1" fill="#000"/>
<rect x="534" y="461" width="1" height="1" fill="#fff"/>
<rect x="535" y="461" width="9" height="1" fill="#000"/>
<rect x="521" y="462" width="1" height="1" fill="#fff"/>
<rect x="522" y="462" width="3" height="1" fill="#000"/>
<rect x="525" y="462" width="7" height="1" fill="#fff"/>
<rect x="532" y="462" width="2" height="1" fill="#000"/>
<rect x="534" y="462" width="1" height="1" fill="#fff"/>
<rect x="535" y="462" width="1" height="1" fill="#000"/>
<rect x="536" y="462" width="7" height="1" fill="#fff"/>
<rect x="543" y="462" width="1" height="1" fill="#000"/>
<rect x="521" y="463" width="1" height="1" fill="#fff"/>
<rect x="522" y="463" width="3" height="1" fill="#000"/>
<rect x="525" y="463" width="7" height="1" fill="#fff"/>
<rect x="532" y="463" width="2" height="1" fill="#000"/>
<rect x="534" y="463" width="1" height="1" fill="#fff"/>
<rect x="535" y="463" width="1" height="1" fill="#000"/>
<rect x="536" y="463" width="7" height="1" fill="#fff"/>
<rect x="543" y="463" width="1" height="1" fill="#000"/>
<rect x="521" y="464" width="1" height="1" fill="#fff"/>
<rect x="522" y="464" width="3" height="1" fill="#000"/>
<rect x="525" y="464" width="7" height="1" fill="#fff"/>
<rect x="532" y="464" width="2" height="1" fill="#000"/>
<rect x="534" y="464" width="1" height="1" fill="#fff"/>
<rect x="535" y="464" width="1" height="1" fill="#000"/>
<rect x="536" y="464" width="7" height="1" fill="#fff"/>
<rect x="543" y="464" width="1" height="1" fill="#000"/>
<rect x="521" y="465" width="1" height="1" fill="#fff"/>
<rect x="522" y="465" width="3" height="1" fill="#000"/>
<rect x="525" y="465" width="7" height="1" fill="#fff"/>
<rect x="532" y="465" width="2" height="1" fill="#000"/>
<rect x="534" y="465" width="1" height="1" fill="#fff"/>
<rect x="535" y="465" width="1" height="1" fill="#000"/>
<rect x="536" y="465" width="7" height="1" fill="#fff"/>
<rect x="543" y="465" width="1" height="1" fill="#000"/>
<rect x="521" y="466" width="15" height="1" fill="#000"/>
<rect x="536" y="466" width="7" height="1" fill="#fff"/>
<rect x="543" y="466" width="1" height="1" fill="#000"/>
<rect x="521" y="467" width="23" height="1" fill="#000"/>
<rect x="289" y="454" width="87" height="7" fill="#000"/>
<rect x="290" y="460" width="85" height="6" fill="#000"/>
<rect x="290" y="456" width="1" height="4" fill="#fff"/>
<rect x="293" y="456" width="1" height="4" fill="#fff"/>
<rect x="293" y="454" width="1" height="1" fill="#fff"/>
<rect x="295" y="456" width="1" height="4" fill="#fff"/>
<rect x="298" y="456" width="1" height="4" fill="#fff"/>
<rect x="298" y="454" width="1" height="1" fill="#fff"/>
<rect x="301" y="456" width="1" height="4" fill="#fff"/>
<rect x="303" y="456" width="1" height="4" fill="#fff"/>
<rect x="303" y="454" width="1" height="1" fill="#fff"/>
<rect x="306" y="456" width="1" height="4" fill="#fff"/>
<rect x="309" y="456" width="1" height="4" fill="#fff"/>
<rect x="309" y="454" width="1" height="1" fill="#fff"/>
<rect x="311" y="456" width="1" height="4" fill="#fff"/>
<rect x="314" y="456" width="1" height="4" fill="#fff"/>
<rect x="314" y="454" width="1" height="1" fill="#fff"/>
<rect x="317" y="456" width="1" height="4" fill="#fff"/>
<rect x="319" y="456" width="1" height="4" fill="#fff"/>
<rect x="319" y="454" width="1" height="1" fill="#fff"/>
<rect x="322" y="456" width="1" height="4" fill="#fff"/>
<rect x="325" y="456" width="1" height="4" fill="#fff"/>
<rect x="325" y="454" width="1" height="1" fill="#fff"/>
<rect x="327" y="456" width="1" height="4" fill="#fff"/>
<rect x="330" y="456" width="1" height="4" fill="#fff"/>
<rect x="330" y="454" width="1" height="1" fill="#fff"/>
<rect x="333" y="456" width="1" height="4" fill="#fff"/>
<rect x="335" y="456" width="1" height="4" fill="#fff"/>
<rect x="335" y="454" width="1" height="1" fill="#fff"/>
<rect x="338" y="456" width="1" height="4" fill="#fff"/>
<rect x="341" y="456" width="1" height="4" fill="#fff"/>
<rect x="341" y="454" width="1" height="1" fill="#fff"/>
<rect x="343" y="456" width="1" height="4" fill="#fff"/>
<rect x="346" y="456" width="1" height="4" fill="#fff"/>
<rect x="346" y="454" width="1" height="1" fill="#fff"/>
<rect x="349" y="456" width="1" height="4" fill="#fff"/>
<rect x="351" y="456" width="1" height="4" fill="#fff"/>
<rect x="351" y="454" width="1" height="1" fill="#fff"/>
<rect x="354" y="456" width="1" height="4" fill="#fff"/>
<rect x="357" y="456" width="1" height="4" fill="#fff"/>
<rect x="357" y="454" width="1" height="1" fill="#fff"/>
<rect x="359" y="456" width="1" height="4" fill="#fff"/>
<rect x="362" y="456" width="1" height="4" fill="#fff"/>
<rect x="362" y="454" width="1" height="1" fill="#fff"/>
<rect x="365" y="456" width="1" height="4" fill="#fff"/>
<rect x="367" y="456" width="1" height="4" fill="#fff"/>
<rect x="367" y="454" width="1" height="1" fill="#fff"/>
<rect x="370" y="456" width="1" height="4" fill="#fff"/>
<rect x="373" y="456" width="1" height="4" fill="#fff"/>
<rect x="373" y="454" width="1" height="1" fill="#fff"/>
<rect x="435" y="454" width="86" height="7" fill="#000"/>
<rect x="436" y="460" width="84" height="6" fill="#000"/>
<rect x="436" y="456" width="1" height="4" fill="#fff"/>
<rect x="439" y="456" width="1" height="4" fill="#fff"/>
<rect x="439" y="454" width="1" height="1" fill="#fff"/>
<rect x="441" y="456" width="1" height="4" fill="#fff"/>
<rect x="444" y="456" width="1" height="4" fill="#fff"/>
<rect x="444" y="454" width="1" height="1" fill="#fff"/>
<rect x="447" y="456" width="1" height="4" fill="#fff"/>
<rect x="449" y="456" width="1" height="4" fill="#fff"/>
<rect x="449" y="454" width="1" height="1" fill="#fff"/>
<rect x="452" y="456" width="1" height="4" fill="#fff"/>
<rect x="455" y="456" width="1" height="4" fill="#fff"/>
<rect x="455" y="454" width="1" height="1" fill="#fff"/>
<rect x="457" y="456" width="1" height="4" fill="#fff"/>
<rect x="460" y="456" width="1" height="4" fill="#fff"/>
<rect x="460" y="454" width="1" height="1" fill="#fff"/>
<rect x="463" y="456" width="1" height="4" fill="#fff"/>
<rect x="465" y="456" width="1" height="4" fill="#fff"/>
<rect x="465" y="454" width="1" height="1" fill="#fff"/>
<rect x="468" y="456" width="1" height="4" fill="#fff"/>
<rect x="471" y="456" width="1" height="4" fill="#fff"/>
<rect x="471" y="454" width="1" height="1" fill="#fff"/>
<rect x="473" y="456" width="1" height="4" fill="#fff"/>
<rect x="476" y="456" width="1" height="4" fill="#fff"/>
<rect x="476" y="454" width="1" height="1" fill="#fff"/>
<rect x="479" y="456" width="1" height="4" fill="#fff"/>
<rect x="481" y="456" width="1" height="4" fill="#fff"/>
<rect x="481" y="454" width="1" height="1" fill="#fff"/>
<rect x="484" y="456" width="1" height="4" fill="#fff"/>
<rect x="487" y="456" width="1" height="4" fill="#fff"/>
<rect x="487" y="454" width="1" height="1" fill="#fff"/>
<rect x="489" y="456" width="1" height="4" fill="#fff"/>
<rect x="492" y="456" width="1" height="4" fill="#fff"/>
<rect x="492" y="454" width="1" height="1" fill="#fff"/>
<rect x="495" y="456" width="1" height="4" fill="#fff"/>
<rect x="497" y="456" width="1" height="4" fill="#fff"/>
<rect x="497" y="454" width="1" height="1" fill="#fff"/>
<rect x="500" y="456" width="1" height="4" fill="#fff"/>
<rect x="503" y="456" width="1" height="4" fill="#fff"/>
<rect x="503" y="454" width="1" height="1" fill="#fff"/>
<rect x="505" y="456" width="1" height="4" fill="#fff"/>
<rect x="508" y="456" width="1" height="4" fill="#fff"/>
<rect x="508" y="454" width="1" height="1" fill="#fff"/>
<rect x="511" y="456" width="1" height="4" fill="#fff"/>
<rect x="513" y="456" width="1" height="4" fill="#fff"/>
<rect x="513" y="454" width="1" height="1" fill="#fff"/>
<rect x="516" y="456" width="1" height="4" fill="#fff"/>
<rect x="266" y="469" width="278" height="16" fill="#000"/>
<rect x="267" y="470" width="276" height="14" fill="#fff"/>
<rect x="266" y="469" width="23" height="1" fill="#000"/>
<rect x="266" y="470" width="1" height="1" fill="#000"/>
<rect x="267" y="470" width="7" height="1" fill="#fff"/>
<rect x="274" y="470" width="1" height="1" fill="#000"/>
<rect x="275" y="470" width="14" height="1" fill="#fff"/>
<rect x="266" y="471" width="1" height="1" fill="#000"/>
<rect x="267" y="471" width="7" height="1" fill="#fff"/>
<rect x="274" y="471" width="1" height="1" fill="#000"/>
<rect x="275" y="471" width="1" height="1" fill="#fff"/>
<rect x="276" y="471" width="2" height="1" fill="#000"/>
<rect x="278" y="471" width="11" height="1" fill="#fff"/>
<rect x="266" y="472" width="9" height="1" fill="#000"/>
<rect x="275" y="472" width="1" height="1" fill="#fff"/>
<rect x="276" y="472" width="12" height="1" fill="#000"/>
<rect x="288" y="472" width="1" height="1" fill="#fff"/>
<rect x="266" y="473" width="1" height="1" fill="#000"/>
<rect x="267" y="473" width="7" height="1" fill="#fff"/>
<rect x="274" y="473" width="1" height="1" fill="#000"/>
<rect x="275" y="473" width="1" height="1" fill="#fff"/>
<rect x="276" y="473" width="3" height="1" fill="#000"/>
<rect x="279" y="473" width="8" height="1" fill="#fff"/>
<rect x="287" y="473" width="1" height="1" fill="#000"/>
<rect x="288" y="473" width="1" height="1" fill="#fff"/>
<rect x="266" y="474" width="1" height="1" fill="#000"/>
<rect x="267" y="474" width="7" height="1" fill="#fff"/>
<rect x="274" y="474" width="1" height="1" fill="#000"/>
<rect x="275" y="474" width="1" height="1" fill="#fff"/>
<rect x="276" y="474" width="3" height="1" fill="#000"/>
<rect x="279" y="474" width="8" height="1" fill="#fff"/>
<rect x="287" y="474" width="1" height="1" fill="#000"/>
<rect x="288" y="474" width="1" height="1" fill="#fff"/>
<rect x="266" y="475" width="1" height="1" fill="#000"/>
<rect x="267" y="475" width="7" height="1" fill="#fff"/>
<rect x="274" y="475" width="1" height="1" fill="#000"/>
<rect x="275" y="475" width="1" height="1" fill="#fff"/>
<rect x="276" y="475" width="3" height="1" fill="#000"/>
<rect x="279" y="475" width="8" height="1" fill="#fff"/>
<rect x="287" y="475" width="1" height="1" fill="#000"/>
<rect x="288" y="475" width="1" height="1" fill="#fff"/>
<rect x="266" y="476" width="1" height="1" fill="#000"/>
<rect x="267" y="476" width="7" height="1" fill="#fff"/>
<rect x="274" y="476" width="1" height="1" fill="#000"/>
<rect x="275" y="476" width="1" height="1" fill="#fff"/>
<rect x="276" y="476" width="3" height="1" fill="#000"/>
<rect x="279" y="476" width="8" height="1" fill="#fff"/>
<rect x="287" y="476" width="1" height="1" fill="#000"/>
<rect x="288" y="476" width="1" height="1" fill="#fff"/>
<rect x="266" y="477" width="1" height="1" fill="#000"/>
<rect x="267" y="477" width="7" height="1" fill="#fff"/>
<rect x="274" y="477" width="1" height="1" fill="#000"/>
<rect x="275" y="477" width="1" height="1" fill="#fff"/>
<rect x="276" y="477" width="3" height="1" fill="#000"/>
<rect x="279" y="477" width="1" height="1" fill="#fff"/>
<rect x="280" y="477" width="6" height="1" fill="#000"/>
<rect x="286" y="477" width="1" height="1" fill="#fff"/>
<rect x="287" y="477" width="1" height="1" fill="#000"/>
<rect x="288" y="477" width="1" height="1" fill="#fff"/>
<rect x="266" y="478" width="9" height="1" fill="#000"/>
<rect x="275" y="478" width="1" height="1" fill="#fff"/>
<rect x="276" y="478" width="2" height="1" fill="#000"/>
<rect x="278" y="478" width="1" height="1" fill="#fff"/>
<rect x="279" y="478" width="2" height="1" fill="#000"/>
<rect x="281" y="478" width="4" height="1" fill="#fff"/>
<rect x="285" y="478" width="3" height="1" fill="#000"/>
<rect x="288" y="478" width="1" height="1" fill="#fff"/>
<rect x="266" y="479" width="1" height="1" fill="#000"/>
<rect x="267" y="479" width="7" height="1" fill="#fff"/>
<rect x="274" y="479" width="1" height="1" fill="#000"/>
<rect x="275" y="479" width="1" height="1" fill="#fff"/>
<rect x="276" y="479" width="2" height="1" fill="#000"/>
<rect x="278" y="479" width="7" height="1" fill="#fff"/>
<rect x="285" y="479" width="3" height="1" fill="#000"/>
<rect x="288" y="479" width="1" height="1" fill="#fff"/>
<rect x="266" y="480" width="1" height="1" fill="#000"/>
<rect x="267" y="480" width="7" height="1" fill="#fff"/>
<rect x="274" y="480" width="1" height="1" fill="#000"/>
<rect x="275" y="480" width="1" height="1" fill="#fff"/>
<rect x="276" y="480" width="2" height="1" fill="#000"/>
<rect x="278" y="480" width="7" height="1" fill="#fff"/>
<rect x="285" y="480" width="3" height="1" fill="#000"/>
<rect x="288" y="480" width="1" height="1" fill="#fff"/>
<rect x="266" y="481" width="1" height="1" fill="#000"/>
<rect x="267" y="481" width="7" height="1" fill="#fff"/>
<rect x="274" y="481" width="1" height="1" fill="#000"/>
<rect x="275" y="481" width="1" height="1" fill="#fff"/>
<rect x="276" y="481" width="2" height="1" fill="#000"/>
<rect x="278" y="481" width="7" height="1" fill="#fff"/>
<rect x="285" y="481" width="3" height="1" fill="#000"/>
<rect x="288" y="481" width="1" height="1" fill="#fff"/>
<rect x="266" y="482" width="1" height="1" fill="#000"/>
<rect x="267" y="482" width="7" height="1" fill="#fff"/>
<rect x="274" y="482" width="1" height="1" fill="#000"/>
<rect x="275" y="482" width="1" height="1" fill="#fff"/>
<rect x="276" y="482" width="2" height="1" fill="#000"/>
<rect x="278" y="482" width="7" height="1" fill="#fff"/>
<rect x="285" y="482" width="3" height="1" fill="#000"/>
<rect x="288" y="482" width="1" height="1" fill="#fff"/>
<rect x="266" y="483" width="1" height="1" fill="#000"/>
<rect x="267" y="483" width="7" height="1" fill="#fff"/>
<rect x="274" y="483" width="15" height="1" fill="#000"/>
<rect x="266" y="484" width="23" height="1" fill="#000"/>
<rect x="521" y="469" width="23" height="1" fill="#000"/>
<rect x="521" y="470" width="14" height="1" fill="#fff"/>
<rect x="535" y="470" width="1" height="1" fill="#000"/>
<rect x="536" y="470" width="7" height="1" fill="#fff"/>
<rect x="543" y="470" width="1" height="1" fill="#000"/>
<rect x="521" y="471" width="11" height="1" fill="#fff"/>
<rect x="532" y="471" width="2" height="1" fill="#000"/>
<rect x="534" y="471" width="1" height="1" fill="#fff"/>
<rect x="535" y="471" width="1" height="1" fill="#000"/>
<rect x="536" y="471" width="7" height="1" fill="#fff"/>
<rect x="543" y="471" width="1" height="1" fill="#000"/>
<rect x="521" y="472" width="1" height="1" fill="#fff"/>
<rect x="522" y="472" width="12" height="1" fill="#000"/>
<rect x="534" y="472" width="1" height="1" fill="#fff"/>
<rect x="535" y="472" width="9" height="1" fill="#000"/>
<rect x="521" y="473" width="1" height="1" fill="#fff"/>
<rect x="522" y="473" width="1" height="1" fill="#000"/>
<rect x="523" y="473" width="8" height="1" fill="#fff"/>
<rect x="531" y="473" width="3" height="1" fill="#000"/>
<rect x="534" y="473" width="1" height="1" fill="#fff"/>
<rect x="535" y="473" width="1" height="1" fill="#000"/>
<rect x="536" y="473" width="7" height="1" fill="#fff"/>
<rect x="543" y="473" width="1" height="1" fill="#000"/>
<rect x="521" y="474" width="1" height="1" fill="#fff"/>
<rect x="522" y="474" width="1" height="1" fill="#000"/>
<rect x="523" y="474" width="8" height="1" fill="#fff"/>
<rect x="531" y="474" width="3" height="1" fill="#000"/>
<rect x="534" y="474" width="1" height="1" fill="#fff"/>
<rect x="535" y="474" width="1" height="1" fill="#000"/>
<rect x="536" y="474" width="7" height="1" fill="#fff"/>
<rect x="543" y="474" width="1" height="1" fill="#000"/>
<rect x="521" y="475" width="1" height="1" fill="#fff"/>
<rect x="522" y="475" width="1" height="1" fill="#000"/>
<rect x="523" y="475" width="8" height="1" fill="#fff"/>
<rect x="531" y="475" width="3" height="1" fill="#000"/>
<rect x="534" y="475" width="1" height="1" fill="#fff"/>
<rect x="535" y="475" width="1" height="1" fill="#000"/>
<rect x="536" y="475" width="7" height="1" fill="#fff"/>
<rect x="543" y="475" width="1" height="1" fill="#000"/>
<rect x="521" y="476" width="1" height="1" fill="#fff"/>
<rect x="522" y="476" width="1" height="1" fill="#000"/>
<rect x="523" y="476" width="8" height="1" fill="#fff"/>
<rect x="531" y="476" width="3" height="1" fill="#000"/>
<rect x="534" y="476" width="1" height="1" fill="#fff"/>
<rect x="535" y="476" width="1" height="1" fill="#000"/>
<rect x="536" y="476" width="7" height="1" fill="#fff"/>
<rect x="543" y="476" width="1" height="1" fill="#000"/>
<rect x="521" y="477" width="1" height="1" fill="#fff"/>
<rect x="522" y="477" width="1" height="1" fill="#000"/>
<rect x="523" y="477" width="1" height="1" fill="#fff"/>
<rect x="524" y="477" width="6" height="1" fill="#000"/>
<rect x="530" y="477" width="1" height="1" fill="#fff"/>
<rect x="531" y="477" width="3" height="1" fill="#000"/>
<rect x="534" y="477" width="1" height="1" fill="#fff"/>
<rect x="535" y="477" width="1" height="1" fill="#000"/>
<rect x="536" y="477" width="7" height="1" fill="#fff"/>
<rect x="543" y="477" width="1" height="1" fill="#000"/>
<rect x="521" y="478" width="1" height="1" fill="#fff"/>
<rect x="522" y="478" width="3" height="1" fill="#000"/>
<rect x="525" y="478" width="4" height="1" fill="#fff"/>
<rect x="529" y="478" width="2" height="1" fill="#000"/>
<rect x="531" y="478" width="1" height="1" fill="#fff"/>
<rect x="532" y="478" width="2" height="1" fill="#000"/>
<rect x="534" y="478" width="1" height="1" fill="#fff"/>
<rect x="535" y="478" width="9" height="1" fill="#000"/>
<rect x="521" y="479" width="1" height="1" fill="#fff"/>
<rect x="522" y="479" width="3" height="1" fill="#000"/>
<rect x="525" y="479" width="7" height="1" fill="#fff"/>
<rect x="532" y="479" width="2" height="1" fill="#000"/>
<rect x="534" y="479" width="1" height="1" fill="#fff"/>
<rect x="535" y="479" width="1" height="1" fill="#000"/>
<rect x="536" y="479" width="7" height="1" fill="#fff"/>
<rect x="543" y="479" width="1" height="1" fill="#000"/>
<rect x="521" y="480" width="1" height="1" fill="#fff"/>
<rect x="522" y="480" width="3" height="1" fill="#000"/>
<rect x="525" y="480" width="7" height="1" fill="#fff"/>
<rect x="532" y="480" width="2" height="1" fill="#000"/>
<rect x="534" y="480" width="1" height="1" fill="#fff"/>
<rect x="535" y="480" width="1" height="1" fill="#000"/>
<rect x="536" y="480" width="7" height="1" fill="#fff"/>
<rect x="543" y="480" width="1" height="1" fill="#000"/>
<rect x="521" y="481" width="1" height="1" fill="#fff"/>
<rect x="522" y="481" width="3" height="1" fill="#000"/>
<rect x="525" y="481" width="7" height="1" fill="#fff"/>
<rect x="532" y="481" width="2" height="1" fill="#000"/>
<rect x="534" y="481" width="1" height="1" fill="#fff"/>
<rect x="535" y="481" width="1" height="1" fill="#000"/>
<rect x="536" y="481" width="7" height="1" fill="#fff"/>
<rect x="543" y="481" width="1" height="1" fill="#000"/>
<rect x="521" y="482" width="1" height="1" fill="#fff"/>
<rect x="522" y="482" width="3" height="1" fill="#000"/>
<rect x="525" y="482" width="7" height="1" fill="#fff"/>
<rect x="532" y="482" width="2" height="1" fill="#000"/>
<rect x="534" y="482" width="1" height="1" fill="#fff"/>
<rect x="535" y="482" width="1" height="1" fill="#000"/>
<rect x="536" y="482" width="7" height="1" fill="#fff"/>
<rect x="543" y="482" width="1" height="1" fill="#000"/>
<rect x="521" y="483" width="15" height="1" fill="#000"/>
<rect x="536" y="483" width="7" height="1" fill="#fff"/>
<rect x="543" y="483" width="1" height="1" fill="#000"/>
<rect x="521" y="484" width="23" height="1" fill="#000"/>
<rect x="289" y="471" width="87" height="7" fill="#000"/>
<rect x="290" y="477" width="85" height="6" fill="#000"/>
<rect x="290" y="473" width="1" height="4" fill="#fff"/>
<rect x="293" y="473" width="1" height="4" fill="#fff"/>
<rect x="293" y="471" width="1" height="1" fill="#fff"/>
<rect x="295" y="473" width="1" height="4" fill="#fff"/>
<rect x="298" y="473" width="1" height="4" fill="#fff"/>
<rect x="298" y="471" width="1" height="1" fill="#fff"/>
<rect x="301" y="473" width="1" height="4" fill="#fff"/>
<rect x="303" y="473" width="1" height="4" fill="#fff"/>
<rect x="303" y="471" width="1" height="1" fill="#fff"/>
<rect x="306" y="473" width="1" height="4" fill="#fff"/>
<rect x="309" y="473" width="1" height="4" fill="#fff"/>
<rect x="309" y="471" width="1" height="1" fill="#fff"/>
<rect x="311" y="473" width="1" height="4" fill="#fff"/>
<rect x="314" y="473" width="1" height="4" fill="#fff"/>
<rect x="314" y="471" width="1" height="1" fill="#fff"/>
<rect x="317" y="473" width="1" height="4" fill="#fff"/>
<rect x="319" y="473" width="1" height="4" fill="#fff"/>
<rect x="319" y="471" width="1" height="1" fill="#fff"/>
<rect x="322" y="473" width="1" height="4" fill="#fff"/>
<rect x="325" y="473" width="1" height="4" fill="#fff"/>
<rect x="325" y="471" width="1" height="1" fill="#fff"/>
<rect x="327" y="473" width="1" height="4" fill="#fff"/>
<rect x="330" y="473" width="1" height="4" fill="#fff"/>
<rect x="330" y="471" width="1" height="1" fill="#fff"/>
<rect x="333" y="473" width="1" height="4" fill="#fff"/>
<rect x="335" y="473" width="1" height="4" fill="#fff"/>
<rect x="335" y="471" width="1" height="1" fill="#fff"/>
<rect x="338" y="473" width="1" height="4" fill="#fff"/>
<rect x="341" y="473" width="1" height="4" fill="#fff"/>
<rect x="341" y="471" width="1" height="1" fill="#fff"/>
<rect x="343" y="473" width="1" height="4" fill="#fff"/>
<rect x="346" y="473" width="1" height="4" fill="#fff"/>
<rect x="346" y="471" width="1" height="1" fill="#fff"/>
<rect x="349" y="473" width="1" height="4" fill="#fff"/>
<rect x="351" y="473" width="1" height="4" fill="#fff"/>
<rect x="351" y="471" width="1" height="1" fill="#fff"/>
<rect x="354" y="473" width="1" height="4" fill="#fff"/>
<rect x="357" y="473" width="1" height="4" fill="#fff"/>
<rect x="357" y="471" width="1" height="1" fill="#fff"/>
<rect x="359" y="473" width="1" height="4" fill="#fff"/>
<rect x="362" y="473" width="1" height="4" fill="#fff"/>
<rect x="362" y="471" width="1" height="1" fill="#fff"/>
<rect x="365" y="473" width="1" height="4" fill="#fff"/>
<rect x="367" y="473" width="1" height="4" fill="#fff"/>
<rect x="367" y="471" width="1" height="1" fill="#fff"/>
<rect x="370" y="473" width="1" height="4" fill="#fff"/>
<rect x="373" y="473" width="1" height="4" fill="#fff"/>
<rect x="373" y="471" width="1" height="1" fill="#fff"/>
<rect x="435" y="471" width="86" height="7" fill="#000"/>
<rect x="436" y="477" width="84" height="6" fill="#000"/>
<rect x="436" y="473" width="1" height="4" fill="#fff"/>
<rect x="439" y="473" width="1" height="4" fill="#fff"/>
<rect x="439" y="471" width="1" height="1" fill="#fff"/>
<rect x="441" y="473" width="1" height="4" fill="#fff"/>
<rect x="444" y="473" width="1" height="4" fill="#fff"/>
<rect x="444" y="471" width="1" height="1" fill="#fff"/>
<rect x="447" y="473" width="1" height="4" fill="#fff"/>
<rect x="449" y="473" width="1" height="4" fill="#fff"/>
<rect x="449" y="471" width="1" height="1" fill="#fff"/>
<rect x="452" y="473" width="1" height="4" fill="#fff"/>
<rect x="455" y="473" width="1" height="4" fill="#fff"/>
<rect x="455" y="471" width="1" height="1" fill="#fff"/>
<rect x="457" y="473" width="1" height="4" fill="#fff"/>
<rect x="460" y="473" width="1" height="4" fill="#fff"/>
<rect x="460" y="471" width="1" height="1" fill="#fff"/>
<rect x="463" y="473" width="1" height="4" fill="#fff"/>
<rect x="465" y="473" width="1" height="4" fill="#fff"/>
<rect x="465" y="471" width="1" height="1" fill="#fff"/>
<rect x="468" y="473" width="1" height="4" fill="#fff"/>
<rect x="471" y="473" width="1" height="4" fill="#fff"/>
<rect x="471" y="471" width="1" height="1" fill="#fff"/>
<rect x="473" y="473" width="1" height="4" fill="#fff"/>
<rect x="476" y="473" width="1" height="4" fill="#fff"/>
<rect x="476" y="471" width="1" height="1" fill="#fff"/>
<rect x="479" y="473" width="1" height="4" fill="#fff"/>
<rect x="481" y="473" width="1" height="4" fill="#fff"/>
<rect x="481" y="471" width="1" height="1" fill="#fff"/>
<rect x="484" y="473" width="1" height="4" fill="#fff"/>
<rect x="487" y="473" width="1" height="4" fill="#fff"/>
<rect x="487" y="471" width="1" height="1" fill="#fff"/>
<rect x="489" y="473" width="1" height="4" fill="#fff"/>
<rect x="492" y="473" width="1" height="4" fill="#fff"/>
<rect x="492" y="471" width="1" height="1" fill="#fff"/>
<rect x="495" y="473" width="1" height="4" fill="#fff"/>
<rect x="497" y="473" width="1" height="4" fill="#fff"/>
<rect x="497" y="471" width="1" height="1" fill="#fff"/>
<rect x="500" y="473" width="1" height="4" fill="#fff"/>
<rect x="503" y="473" width="1" height="4" fill="#fff"/>
<rect x="503" y="471" width="1" height="1" fill="#fff"/>
<rect x="505" y="473" width="1" height="4" fill="#fff"/>
<rect x="508" y="473" width="1" height="4" fill="#fff"/>
<rect x="508" y="471" width="1" height="1" fill="#fff"/>
<rect x="511" y="473" width="1" height="4" fill="#fff"/>
<rect x="513" y="473" width="1" height="4" fill="#fff"/>
<rect x="513" y="471" width="1" height="1" fill="#fff"/>
<rect x="516" y="473" width="1" height="4" fill="#fff"/>
<rect x="266" y="486" width="278" height="16" fill="#000"/>
<rect x="267" y="487" width="276" height="14" fill="#fff"/>
<rect x="266" y="486" width="23" height="1" fill="#000"/>
<rect x="266" y="487" width="1" height="1" fill="#000"/>
<rect x="267" y="487" width="7" height="1" fill="#fff"/>
<rect x="274" y="487" width="1" height="1" fill="#000"/>
<rect x="275" y="487" width="14" height="1" fill="#fff"/>
<rect x="266" y="488" width="1" height="1" fill="#000"/>
<rect x="267" y="488" width="7" height="1" fill="#fff"/>
<rect x="274" y="488" width="1" height="1" fill="#000"/>
<rect x="275" y="488" width="1" height="1" fill="#fff"/>
<rect x="276" y="488" width="2" height="1" fill="#000"/>
<rect x="278" y="488" width="11" height="1" fill="#fff"/>
<rect x="266" y="489" width="9" height="1" fill="#000"/>
<rect x="275" y="489" width="1" height="1" fill="#fff"/>
<rect x="276" y="489" width="12" height="1" fill="#000"/>
<rect x="288" y="489" width="1" height="1" fill="#fff"/>
<rect x="266" y="490" width="1" height="1" fill="#000"/>
<rect x="267" y="490" width="7" height="1" fill="#fff"/>
<rect x="274" y="490" width="1" height="1" fill="#000"/>
<rect x="275" y="490" width="1" height="1" fill="#fff"/>
<rect x="276" y="490" width="3" height="1" fill="#000"/>
<rect x="279" y="490" width="8" height="1" fill="#fff"/>
<rect x="287" y="490" width="1" height="1" fill="#000"/>
<rect x="288" y="490" width="1" height="1" fill="#fff"/>
<rect x="266" y="491" width="1" height="1" fill="#000"/>
<rect x="267" y="491" width="7" height="1" fill="#fff"/>
<rect x="274" y="491" width="1" height="1" fill="#000"/>
<rect x="275" y="491" width="1" height="1" fill="#fff"/>
<rect x="276" y="491" width="3" height="1" fill="#000"/>
<rect x="279" y="491" width="8" height="1" fill="#fff"/>
<rect x="287" y="491" width="1" height="1" fill="#000"/>
<rect x="288" y="491" width="1" height="1" fill="#fff"/>
<rect x="266" y="492" width="1" height="1" fill="#000"/>
<rect x="267" y="492" width="7" height="1" fill="#fff"/>
<rect x="274" y="492" width="1" height="1" fill="#000"/>
<rect x="275" y="492" width="1" height="1" fill="#fff"/>
<rect x="276" y="492" width="3" height="1" fill="#000"/>
<rect x="279" y="492" width="8" height="1" fill="#fff"/>
<rect x="287" y="492" width="1" height="1" fill="#000"/>
<rect x="288" y="492" width="1" height="1" fill="#fff"/>
<rect x="266" y="493" width="1" height="1" fill="#000"/>
<rect x="267" y="493" width="7" height="1" fill="#fff"/>
<rect x="274" y="493" width="1" height="1" fill="#000"/>
<rect x="275" y="493" width="1" height="1" fill="#fff"/>
<rect x="276" y="493" width="3" height="1" fill="#000"/>
<rect x="279" y="493" width="8" height="1" fill="#fff"/>
<rect x="287" y="493" width="1" height="1" fill="#000"/>
<rect x="288" y="493" width="1" height="1" fill="#fff"/>
<rect x="266" y="494" width="1" height="1" fill="#000"/>
<rect x="267" y="494" width="7" height="1" fill="#fff"/>
<rect x="274" y="494" width="1" height="1" fill="#000"/>
<rect x="275" y="494" width="1" height="1" fill="#fff"/>
<rect x="276" y="494" width="3" height="1" fill="#000"/>
<rect x="279" y="494" width="1" height="1" fill="#fff"/>
<rect x="280" y="494" width="6" height="1" fill="#000"/>
<rect x="286" y="494" width="1" height="1" fill="#fff"/>
<rect x="287" y="494" width="1" height="1" fill="#000"/>
<rect x="288" y="494" width="1" height="1" fill="#fff"/>
<rect x="266" y="495" width="9" height="1" fill="#000"/>
<rect x="275" y="495" width="1" height="1" fill="#fff"/>
<rect x="276" y="495" width="2" height="1" fill="#000"/>
<rect x="278" y="495" width="1" height="1" fill="#fff"/>
<rect x="279" y="495" width="2" height="1" fill="#000"/>
<rect x="281" y="495" width="4" height="1" fill="#fff"/>
<rect x="285" y="495" width="3" height="1" fill="#000"/>
<rect x="288" y="495" width="1" height="1" fill="#fff"/>
<rect x="266" y="496" width="1" height="1" fill="#000"/>
<rect x="267" y="496" width="7" height="1" fill="#fff"/>
<rect x="274" y="496" width="1" height="1" fill="#000"/>
<rect x="275" y="496" width="1" height="1" fill="#fff"/>
<rect x="276" y="496" width="2" height="1" fill="#000"/>
<rect x="278" y="496" width="7" height="1" fill="#fff"/>
<rect x="285" y="496" width="3" height="1" fill="#000"/>
<rect x="288" y="496" width="1" height="1" fill="#fff"/>
<rect x="266" y="497" width="1" height="1" fill="#000"/>
<rect x="267" y="497" width="7" height="1" fill="#fff"/>
<rect x="274" y="497" width="1" height="1" fill="#000"/>
<rect x="275" y="497" width="1" height="1" fill="#fff"/>
<rect x="276" y="497" width="2" height="1" fill="#000"/>
<rect x="278" y="497" width="7" height="1" fill="#fff"/>
<rect x="285" y="497" width="3" height="1" fill="#000"/>
<rect x="288" y="497" width="1" height="1" fill="#fff"/>
<rect x="266" y="498" width="1" height="1" fill="#000"/>
<rect x="267" y="498" width="7" height="1" fill="#fff"/>
<rect x="274" y="498" width="1" height="1" fill="#000"/>
<rect x="275" y="498" width="1" height="1" fill="#fff"/>
<rect x="276" y="498" width="2" height="1" fill="#000"/>
<rect x="278" y="498" width="7" height="1" fill="#fff"/>
<rect x="285" y="498" width="3" height="1" fill="#000"/>
<rect x="288" y="498" width="1" height="1" fill="#fff"/>
<rect x="266" y="499" width="1" height="1" fill="#000"/>
<rect x="267" y="499" width="7" height="1" fill="#fff"/>
<rect x="274" y="499" width="1" height="1" fill="#000"/>
<rect x="275" y="499" width="1" height="1" fill="#fff"/>
<rect x="276" y="499" width="2" height="1" fill="#000"/>
<rect x="278" y="499" width="7" height="1" fill="#fff"/>
<rect x="285" y="499" width="3" height="1" fill="#000"/>
<rect x="288" y="499" width="1" height="1" fill="#fff"/>
<rect x="266" y="500" width="1" height="1" fill="#000"/>
<rect x="267" y="500" width="7" height="1" fill="#fff"/>
<rect x="274" y="500" width="15" height="1" fill="#000"/>
<rect x="266" y="501" width="23" height="1" fill="#000"/>
<rect x="521" y="486" width="23" height="1" fill="#000"/>
<rect x="521" y="487" width="14" height="1" fill="#fff"/>
<rect x="535" y="487" width="1" height="1" fill="#000"/>
<rect x="536" y="487" width="7" height="1" fill="#fff"/>
<rect x="543" y="487" width="1" height="1" fill="#000"/>
<rect x="521" y="488" width="11" height="1" fill="#fff"/>
<rect x="532" y="488" width="2" height="1" fill="#000"/>
<rect x="534" y="488" width="1" height="1" fill="#fff"/>
<rect x="535" y="488" width="1" height="1" fill="#000"/>
<rect x="536" y="488" width="7" height="1" fill="#fff"/>
<rect x="543" y="488" width="1" height="1" fill="#000"/>
<rect x="521" y="489" width="1" height="1" fill="#fff"/>
<rect x="522" y="489" width="12" height="1" fill="#000"/>
<rect x="534" y="489" width="1" height="1" fill="#fff"/>
<rect x="535" y="489" width="9" height="1" fill="#000"/>
<rect x="521" y="490" width="1" height="1" fill="#fff"/>
<rect x="522" y="490" width="1" height="1" fill="#000"/>
<rect x="523" y="490" width="8" height="1" fill="#fff"/>
<rect x="531" y="490" width="3" height="1" fill="#000"/>
<rect x="534" y="490" width="1" height="1" fill="#fff"/>
<rect x="535" y="490" width="1" height="1" fill="#000"/>
<rect x="536" y="490" width="7" height="1" fill="#fff"/>
<rect x="543" y="490" width="1" height="1" fill="#000"/>
<rect x="521" y="491" width="1" height="1" fill="#fff"/>
<rect x="522" y="491" width="1" height="1" fill="#000"/>
<rect x="523" y="491" width="8" height="1" fill="#fff"/>
<rect x="531" y="491" width="3" height="1" fill="#000"/>
<rect x="534" y="491" width="1" height="1" fill="#fff"/>
<rect x="535" y="491" width="1" height="1" fill="#000"/>
<rect x="536" y="491" width="7" height="1" fill="#fff"/>
<rect x="543" y="491" width="1" height="1" fill="#000"/>
<rect x="521" y="492" width="1" height="1" fill="#fff"/>
<rect x="522" y="492" width="1" height="1" fill="#000"/>
<rect x="523" y="492" width="8" height="1" fill="#fff"/>
<rect x="531" y="492" width="3" height="1" fill="#000"/>
<rect x="534" y="492" width="1" height="1" fill="#fff"/>
<rect x="535" y="492" width="1" height="1" fill="#000"/>
<rect x="536" y="492" width="7" height="1" fill="#fff"/>
<rect x="543" y="492" width="1" height="1" fill="#000"/>
<rect x="521" y="493" width="1" height="1" fill="#fff"/>
<rect x="522" y="493" width="1" height="1" fill="#000"/>
<rect x="523" y="493" width="8" height="1" fill="#fff"/>
<rect x="531" y="493" width="3" height="1" fill="#000"/>
<rect x="534" y="493" width="1" height="1" fill="#fff"/>
<rect x="535" y="493" width="1" height="1" fill="#000"/>
<rect x="536" y="493" width="7" height="1" fill="#fff"/>
<rect x="543" y="493" width="1" height="1" fill="#000"/>
<rect x="521" y="494" width="1" height="1" fill="#fff"/>
<rect x="522" y="494" width="1" height="1" fill="#000"/>
<rect x="523" y="494" width="1" height="1" fill="#fff"/>
<rect x="524" y="494" width="6" height="1" fill="#000"/>
<rect x="530" y="494" width="1" height="1" fill="#fff"/>
<rect x="531" y="494" width="3" height="1" fill="#000"/>
<rect x="534" y="494" width="1" height="1" fill="#fff"/>
<rect x="535" y="494" width="1" height="1" fill="#000"/>
<rect x="536" y="494" width="7" height="1" fill="#fff"/>
<rect x="543" y="494" width="1" height="1" fill="#000"/>
<rect x="521" y="495" width="1" height="1" fill="#fff"/>
<rect x="522" y="495" width="3" height="1" fill="#000"/>
<rect x="525" y="495" width="4" height="1" fill="#fff"/>
<rect x="529" y="495" width="2" height="1" fill="#000"/>
<rect x="531" y="495" width="1" height="1" fill="#fff"/>
<rect x="532" y="495" width="2" height="1" fill="#000"/>
<rect x="534" y="495" width="1" height="1" fill="#fff"/>
<rect x="535" y="495" width="9" height="1" fill="#000"/>
<rect x="521" y="496" width="1" height="1" fill="#fff"/>
<rect x="522" y="496" width="3" height="1" fill="#000"/>
<rect x="525" y="496" width="7" height="1" fill="#fff"/>
<rect x="532" y="496" width="2" height="1" fill="#000"/>
<rect x="534" y="496" width="1" height="1" fill="#fff"/>
<rect x="535" y="496" width="1" height="1" fill="#000"/>
<rect x="536" y="496" width="7" height="1" fill="#fff"/>
<rect x="543" y="496" width="1" height="1" fill="#000"/>
<rect x="521" y="497" width="1" height="1" fill="#fff"/>
<rect x="522" y="497" width="3" height="1" fill="#000"/>
<rect x="525" y="497" width="7" height="1" fill="#fff"/>
<rect x="532" y="497" width="2" height="1" fill="#000"/>
<rect x="534" y="497" width="1" height="1" fill="#fff"/>
<rect x="535" y="497" width="1" height="1" fill="#000"/>
<rect x="536" y="497" width="7" height="1" fill="#fff"/>
<rect x="543" y="497" width="1" height="1" fill="#000"/>
<rect x="521" y="498" width="1" height="1" fill="#fff"/>
<rect x="522" y="498" width="3" height="1" fill="#000"/>
<rect x="525" y="498" width="7" height="1" fill="#fff"/>
<rect x="532" y="498" width="2" height="1" fill="#000"/>
<rect x="534" y="498" width="1" height="1" fill="#fff"/>
<rect x="535" y="498" width="1" height="1" fill="#000"/>
<rect x="536" y="498" width="7" height="1" fill="#fff"/>
<rect x="543" y="498" width="1" height="1" fill="#000"/>
<rect x="521" y="499" width="1" height="1" fill="#fff"/>
<rect x="522" y="499" width="3" height="1" fill="#000"/>
<rect x="525" y="499" width="7" height="1" fill="#fff"/>
<rect x="532" y="499" width="2" height="1" fill="#000"/>
<rect x="534" y="499" width="1" height="1" fill="#fff"/>
<rect x="535" y="499" width="1" height="1" fill="#000"/>
<rect x="536" y="499" width="7" height="1" fill="#fff"/>
<rect x="543" y="499" width="1" height="1" fill="#000"/>
<rect x="521" y="500" width="15" height="1" fill="#000"/>
<rect x="536" y="500" width="7" height="1" fill="#fff"/>
<rect x="543" y="500" width="1" height="1" fill="#000"/>
<rect x="521" y="501" width="23" height="1" fill="#000"/>
<rect x="289" y="488" width="87" height="7" fill="#000"/>
<rect x="290" y="494" width="85" height="6" fill="#000"/>
<rect x="290" y="490" width="1" height="4" fill="#fff"/>
<rect x="293" y="490" width="1" height="4" fill="#fff"/>
<rect x="293" y="488" width="1" height="1" fill="#fff"/>
<rect x="295" y="490" width="1" height="4" fill="#fff"/>
<rect x="298" y="490" width="1" height="4" fill="#fff"/>
<rect x="298" y="488" width="1" height="1" fill="#fff"/>
<rect x="301" y="490" width="1" height="4" fill="#fff"/>
<rect x="303" y="490" width="1" height="4" fill="#fff"/>
<rect x="303" y="488" width="1" height="1" fill="#fff"/>
<rect x="306" y="490" width="1" height="4" fill="#fff"/>
<rect x="309" y="490" width="1" height="4" fill="#fff"/>
<rect x="309" y="488" width="1" height="1" fill="#fff"/>
<rect x="311" y="490" width="1" height="4" fill="#fff"/>
<rect x="314" y="490" width="1" height="4" fill="#fff"/>
<rect x="314" y="488" width="1" height="1" fill="#fff"/>
<rect x="317" y="490" width="1" height="4" fill="#fff"/>
<rect x="319" y="490" width="1" height="4" fill="#fff"/>
<rect x="319" y="488" width="1" height="1" fill="#fff"/>
<rect x="322" y="490" width="1" height="4" fill="#fff"/>
<rect x="325" y="490" width="1" height="4" fill="#fff"/>
<rect x="325" y="488" width="1" height="1" fill="#fff"/>
<rect x="327" y="490" width="1" height="4" fill="#fff"/>
<rect x="330" y="490" width="1" height="4" fill="#fff"/>
<rect x="330" y="488" width="1" height="1" fill="#fff"/>
<rect x="333" y="490" width="1" height="4" fill="#fff"/>
<rect x="335" y="490" width="1" height="4" fill="#fff"/>
<rect x="335" y="488" width="1" height="1" fill="#fff"/>
<rect x="338" y="490" width="1" height="4" fill="#fff"/>
<rect x="341" y="490" width="1" height="4" fill="#fff"/>
<rect x="341" y="488" width="1" height="1" fill="#fff"/>
<rect x="343" y="490" width="1" height="4" fill="#fff"/>
<rect x="346" y="490" width="1" height="4" fill="#fff"/>
<rect x="346" y="488" width="1" height="1" fill="#fff"/>
<rect x="349" y="490" width="1" height="4" fill="#fff"/>
<rect x="351" y="490" width="1" height="4" fill="#fff"/>
<rect x="351" y="488" width="1" height="1" fill="#fff"/>
<rect x="354" y="490" width="1" height="4" fill="#fff"/>
<rect x="357" y="490" width="1" height="4" fill="#fff"/>
<rect x="357" y="488" width="1" height="1" fill="#fff"/>
<rect x="359" y="490" width="1" height="4" fill="#fff"/>
<rect x="362" y="490" width="1" height="4" fill="#fff"/>
<rect x="362" y="488" width="1" height="1" fill="#fff"/>
<rect x="365" y="490" width="1" height="4" fill="#fff"/>
<rect x="367" y="490" width="1" height="4" fill="#fff"/>
<rect x="367" y="488" width="1" height="1" fill="#fff"/>
<rect x="370" y="490" width="1" height="4" fill="#fff"/>
<rect x="373" y="490" width="1" height="4" fill="#fff"/>
<rect x="373" y="488" width="1" height="1" fill="#fff"/>
<rect x="435" y="488" width="86" height="7" fill="#000"/>
<rect x="436" y="494" width="84" height="6" fill="#000"/>
<rect x="436" y="490" width="1" height="4" fill="#fff"/>
<rect x="439" y="490" width="1" height="4" fill="#fff"/>
<rect x="439" y="488" width="1" height="1" fill="#fff"/>
<rect x="441" y="490" width="1" height="4" fill="#fff"/>
<rect x="444" y="490" width="1" height="4" fill="#fff"/>
<rect x="444" y="488" width="1" height="1" fill="#fff"/>
<rect x="447" y="490" width="1" height="4" fill="#fff"/>
<rect x="449" y="490" width="1" height="4" fill="#fff"/>
<rect x="449" y="488" width="1" height="1" fill="#fff"/>
<rect x="452" y="490" width="1" height="4" fill="#fff"/>
<rect x="455" y="490" width="1" height="4" fill="#fff"/>
<rect x="455" y="488" width="1" height="1" fill="#fff"/>
<rect x="457" y="490" width="1" height="4" fill="#fff"/>
<rect x="460" y="490" width="1" height="4" fill="#fff"/>
<rect x="460" y="488" width="1" height="1" fill="#fff"/>
<rect x="463" y="490" width="1" height="4" fill="#fff"/>
<rect x="465" y="490" width="1" height="4" fill="#fff"/>
<rect x="465" y="488" width="1" height="1" fill="#fff"/>
<rect x="468" y="490" width="1" height="4" fill="#fff"/>
<rect x="471" y="490" width="1" height="4" fill="#fff"/>
<rect x="471" y="488" width="1" height="1" fill="#fff"/>
<rect x="473" y="490" width="1" height="4" fill="#fff"/>
<rect x="476" y="490" width="1" height="4" fill="#fff"/>
<rect x="476" y="488" width="1" height="1" fill="#fff"/>
<rect x="479" y="490" width="1" height="4" fill="#fff"/>
<rect x="481" y="490" width="1" height="4" fill="#fff"/>
<rect x="481" y="488" width="1" height="1" fill="#fff"/>
<rect x="484" y="490" width="1" height="4" fill="#fff"/>
<rect x="487" y="490" width="1" height="4" fill="#fff"/>
<rect x="487" y="488" width="1" height="1" fill="#fff"/>
<rect x="489" y="490" width="1" height="4" fill="#fff"/>
<rect x="492" y="490" width="1" height="4" fill="#fff"/>
<rect x="492" y="488" width="1" height="1" fill="#fff"/>
<rect x="495" y="490" width="1" height="4" fill="#fff"/>
<rect x="497" y="490" width="1" height="4" fill="#fff"/>
<rect x="497" y="488" width="1" height="1" fill="#fff"/>
<rect x="500" y="490" width="1" height="4" fill="#fff"/>
<rect x="503" y="490" width="1" height="4" fill="#fff"/>
<rect x="503" y="488" width="1" height="1" fill="#fff"/>
<rect x="505" y="490" width="1" height="4" fill="#fff"/>
<rect x="508" y="490" width="1" height="4" fill="#fff"/>
<rect x="508" y="488" width="1" height="1" fill="#fff"/>
<rect x="511" y="490" width="1" height="4" fill="#fff"/>
<rect x="513" y="490" width="1" height="4" fill="#fff"/>
<rect x="513" y="488" width="1" height="1" fill="#fff"/>
<rect x="516" y="490" width="1" height="4" fill="#fff"/>
<rect x="376" y="434" width="58" height="16" rx="2" fill="#000"/>
<rect x="378" y="436" width="54" height="11" rx="1" fill="#fff"/>
<text transform="translate(384.00,447) scale(0.75,1)" font-size="14" text-anchor="middle">B</text>
<text transform="translate(393.33,447) scale(0.75,1)" font-size="14" text-anchor="middle">A</text>
<text transform="translate(402.67,447) scale(0.75,1)" font-size="14" text-anchor="middle">N</text>
<text transform="translate(412.00,447) scale(0.75,1)" font-size="14" text-anchor="middle">K</text>
<text transform="translate(426.00,447) scale(0.75,1)" font-size="14" text-anchor="middle">0</text>
<rect x="376" y="450" width="58" height="17" rx="2" fill="#000"/>
<rect x="378" y="452" width="54" height="12" rx="1" fill="#fff"/>
<text transform="translate(384.00,464) scale(0.75,1)" font-size="14" text-anchor="middle">B</text>
<text transform="translate(393.33,464) scale(0.75,1)" font-size="14" text-anchor="middle">A</text>
<text transform="translate(402.67,464) scale(0.75,1)" font-size="14" text-anchor="middle">N</text>
<text transform="translate(412.00,464) scale(0.75,1)" font-size="14" text-anchor="middle">K</text>
<rect x="426" y="454" width="1" height="10" fill="#000"/>
<rect x="425" y="456" width="1" height="1" fill="#000"/>
<rect x="424" y="457" width="1" height="1" fill="#000"/>
<rect x="376" y="468" width="58" height="17" rx="2" fill="#000"/>
<rect x="378" y="470" width="54" height="12" rx="1" fill="#fff"/>
<text transform="translate(384.00,482) scale(0.75,1)" font-size="14" text-anchor="middle">B</text>
<text transform="translate(393.33,482) scale(0.75,1)" font-size="14" text-anchor="middle">A</text>
<text transform="translate(402.67,482) scale(0.75,1)" font-size="14" text-anchor="middle">N</text>
<text transform="translate(412.00,482) scale(0.75,1)" font-size="14" text-anchor="middle">K</text>
<text transform="translate(426.00,482) scale(0.75,1)" font-size="14" text-anchor="middle">2</text>
<rect x="376" y="485" width="58" height="18" rx="2" fill="#000"/>
<rect x="378" y="487" width="54" height="13" rx="1" fill="#fff"/>
<text transform="translate(384.00,499) scale(0.75,1)" font-size="14" text-anchor="middle">B</text>
<text transform="translate(393.33,499) scale(0.75,1)" font-size="14" text-anchor="middle">A</text>
<text transform="translate(402.67,499) scale(0.75,1)" font-size="14" text-anchor="middle">N</text>
<text transform="translate(412.00,499) scale(0.75,1)" font-size="14" text-anchor="middle">K</text>
<text transform="translate(426.00,499) scale(0.75,1)" font-size="14" text-anchor="middle">3</text>
<rect x="549" y="398" width="25" height="112" fill="#000"/>
<rect x="550" y="399" width="23" height="110" fill="#fff"/>
<rect x="552" y="399" width="8" height="3" fill="#000"/>
<rect x="553" y="399" width="6" height="2" fill="#fff"/>
<rect x="555" y="399" width="2" height="1" fill="#000"/>
<rect x="552" y="507" width="8" height="2" fill="#000"/>
<rect x="553" y="508" width="6" height="1" fill="#fff"/>
<rect x="552" y="404" width="8" height="7" fill="#000"/>
<rect x="553" y="405" width="6" height="5" fill="#fff"/>
<rect x="552" y="413" width="8" height="7" fill="#000"/>
<rect x="553" y="414" width="6" height="5" fill="#fff"/>
<rect x="552" y="422" width="8" height="7" fill="#000"/>
<rect x="553" y="423" width="6" height="5" fill="#fff"/>
<rect x="552" y="432" width="8" height="7" fill="#000"/>
<rect x="553" y="433" width="6" height="5" fill="#fff"/>
<rect x="552" y="441" width="8" height="7" fill="#000"/>
<rect x="553" y="442" width="6" height="5" fill="#fff"/>
<rect x="552" y="450" width="8" height="7" fill="#000"/>
<rect x="553" y="451" width="6" height="5" fill="#fff"/>
<rect x="552" y="459" width="8" height="7" fill="#000"/>
<rect x="553" y="460" width="6" height="5" fill="#fff"/>
<rect x="552" y="469" width="8" height="7" fill="#000"/>
<rect x="553" y="470" width="6" height="5" fill="#fff"/>
<rect x="552" y="478" width="8" height="7" fill="#000"/>
<rect x="553" y="479" width="6" height="5" fill="#fff"/>
<rect x="552" y="487" width="8" height="7" fill="#000"/>
<rect x="553" y="488" width="6" height="5" fill="#fff"/>
<rect x="552" y="496" width="8" height="7" fill="#000"/>
<rect x="553" y="497" width="6" height="5" fill="#fff"/>
<rect x="561" y="400" width="2" height="7" fill="#000"/>
<rect x="567" y="400" width="3" height="7" fill="#000"/>
<rect x="568" y="401" width="1" height="5" fill="#fff"/>
<rect x="561" y="409" width="2" height="7" fill="#000"/>
<rect x="567" y="409" width="3" height="7" fill="#000"/>
<rect x="568" y="410" width="1" height="5" fill="#fff"/>
<rect x="561" y="418" width="2" height="7" fill="#000"/>
<rect x="567" y="418" width="3" height="7" fill="#000"/>
<rect x="568" y="419" width="1" height="5" fill="#fff"/>
<rect x="561" y="428" width="2" height="7" fill="#000"/>
<rect x="567" y="428" width="3" height="7" fill="#000"/>
<rect x="568" y="429" width="1" height="5" fill="#fff"/>
<rect x="561" y="437" width="2" height="7" fill="#000"/>
<rect x="567" y="437" width="3" height="7" fill="#000"/>
<rect x="568" y="438" width="1" height="5" fill="#fff"/>
<rect x="561" y="446" width="2" height="7" fill="#000"/>
<rect x="567" y="446" width="3" height="7" fill="#000"/>
<rect x="568" y="447" width="1" height="5" fill="#fff"/>
<rect x="561" y="455" width="2" height="7" fill="#000"/>
<rect x="567" y="455" width="3" height="7" fill="#000"/>
<rect x="568" y="456" width="1" height="5" fill="#fff"/>
<rect x="561" y="465" width="2" height="7" fill="#000"/>
<rect x="567" y="465" width="3" height="7" fill="#000"/>
<rect x="568" y="466" width="1" height="5" fill="#fff"/>
<rect x="561" y="474" width="2" height="7" fill="#000"/>
<rect x="567" y="474" width="3" height="7" fill="#000"/>
<rect x="568" y="475" width="1" height="5" fill="#fff"/>
<rect x="561" y="483" width="2" height="7" fill="#000"/>
<rect x="567" y="483" width="3" height="7" fill="#000"/>
<rect x="568" y="484" width="1" height="5" fill="#fff"/>
<rect x="561" y="492" width="2" height="7" fill="#000"/>
<rect x="567" y="492" width="3" height="7" fill="#000"/>
<rect x="568" y="493" width="1" height="5" fill="#fff"/>
<rect x="561" y="502" width="2" height="7" fill="#000"/>
<rect x="567" y="502" width="3" height="7" fill="#000"/>
<rect x="568" y="503" width="1" height="5" fill="#fff"/>
<rect x="566" y="400" width="1" height="108" fill="#000"/>
<rect x="585" y="440" width="25" height="37" fill="#000"/>
<rect x="582" y="446" width="3" height="24" fill="#000"/>
<rect x="609" y="435" width="4" height="47" fill="#000"/>
<rect x="612" y="432" width="4" height="52" fill="#000"/>
<rect x="578" y="448" width="5" height="9" fill="#000"/>
<rect x="579" y="449" width="3" height="7" fill="#fff"/>
<rect x="578" y="460" width="5" height="8" fill="#000"/>
<rect x="579" y="461" width="3" height="6" fill="#fff"/>
<rect x="583" y="456" width="2" height="4" fill="#fff"/>
<rect x="424" y="344" width="119" height="13" fill="#000"/>
<rect x="425" y="345" width="1" height="11" fill="#fff"/>
<rect x="425" y="350" width="117" height="1" fill="#fff"/>
<rect x="425" y="355" width="117" height="1" fill="#fff"/>
<rect x="424" y="362" width="119" height="14" fill="#000"/>
<rect x="425" y="363" width="117" height="1" fill="#fff"/>
<rect x="425" y="363" width="1" height="12" fill="#fff"/>
<rect x="425" y="369" width="117" height="1" fill="#fff"/>
<rect x="425" y="374" width="117" height="1" fill="#fff"/>
<rect x="431" y="345" width="1" height="10" fill="#fff"/>
<rect x="431" y="363" width="1" height="11" fill="#fff"/>
<rect x="437" y="345" width="1" height="10" fill="#fff"/>
<rect x="437" y="363" width="1" height="11" fill="#fff"/>
<rect x="443" y="345" width="1" height="10" fill="#fff"/>
<rect x="443" y="363" width="1" height="11" fill="#fff"/>
<rect x="448" y="345" width="1" height="10" fill="#fff"/>
<rect x="448" y="363" width="1" height="11" fill="#fff"/>
<rect x="454" y="345" width="1" height="10" fill="#fff"/>
<rect x="454" y="363" width="1" height="11" fill="#fff"/>
<rect x="460" y="345" width="1" height="10" fill="#fff"/>
<rect x="460" y="363" width="1" height="11" fill="#fff"/>
<rect x="466" y="345" width="1" height="10" fill="#fff"/>
<rect x="466" y="363" width="1" height="11" fill="#fff"/>
<rect x="472" y="345" width="1" height="10" fill="#fff"/>
<rect x="472" y="363" width="1" height="11" fill="#fff"/>
<rect x="478" y="345" width="1" height="10" fill="#fff"/>
<rect x="478" y="363" width="1" height="11" fill="#fff"/>
<rect x="483" y="345" width="1" height="10" fill="#fff"/>
<rect x="483" y="363" width="1" height="11" fill="#fff"/>
<rect x="489" y="345" width="1" height="10" fill="#fff"/>
<rect x="489" y="363" width="1" height="11" fill="#fff"/>
<rect x="495" y="345" width="1" height="10" fill="#fff"/>
<rect x="495" y="363" width="1" height="11" fill="#fff"/>
<rect x="501" y="345" width="1" height="10" fill="#fff"/>
<rect x="501" y="363" width="1" height="11" fill="#fff"/>
<rect x="507" y="345" width="1" height="10" fill="#fff"/>
<rect x="507" y="363" width="1" height="11" fill="#fff"/>
<rect x="513" y="345" width="1" height="10" fill="#fff"/>
<rect x="513" y="363" width="1" height="11" fill="#fff"/>
<rect x="519" y="345" width="1" height="10" fill="#fff"/>
<rect x="519" y="363" width="1" height="11" fill="#fff"/>
<rect x="524" y="345" width="1" height="10" fill="#fff"/>
<rect x="524" y="363" width="1" height="11" fill="#fff"/>
<rect x="530" y="345" width="1" height="10" fill="#fff"/>
<rect x="530" y="363" width="1" height="11" fill="#fff"/>
<rect x="536" y="345" width="1" height="10" fill="#fff"/>
<rect x="536" y="363" width="1" height="11" fill="#fff"/>
<rect x="427" y="352" width="2" height="2" fill="#fff"/>
<rect x="427" y="371" width="2" height="2" fill="#fff"/>
<polyline points="548,349 543,349" fill="none" stroke="#000" stroke-width="2" stroke-linejoin="miter" stroke-linecap="square"/>
<rect x="558" y="341" width="25" height="18" rx="2" fill="#000"/>
<rect x="560" y="343" width="21" height="13" rx="1" fill="#fff"/>
<polygon points="559,344.5 548,348 548,350 559,353.5" fill="#000"/>
<polygon points="561,346.5 551,349 561,351.5" fill="#fff"/>
<text transform="translate(566.50,354) scale(0.75,1)" font-size="14" text-anchor="middle">J</text>
<text transform="translate(574.50,354) scale(0.75,1)" font-size="14" text-anchor="middle">5</text>
<polyline points="548,368 543,368" fill="none" stroke="#000" stroke-width="2" stroke-linejoin="miter" stroke-linecap="square"/>
<rect x="558" y="359" width="25" height="18" rx="2" fill="#000"/>
<rect x="560" y="361" width="21" height="13" rx="1" fill="#fff"/>
<polygon points="559,363.5 548,367 548,369 559,372.5" fill="#000"/>
<polygon points="561,365.5 551,368 561,370.5" fill="#fff"/>
<text transform="translate(566.50,373) scale(0.75,1)" font-size="14" text-anchor="middle">J</text>
<text transform="translate(574.50,373) scale(0.75,1)" font-size="14" text-anchor="middle">4</text>
<rect x="386" y="351" width="25" height="1" fill="#000"/>
<rect x="386" y="352" width="1" height="1" fill="#000"/>
<rect x="387" y="352" width="23" height="1" fill="#fff"/>
<rect x="410" y="352" width="1" height="1" fill="#000"/>
<rect x="386" y="353" width="1" height="1" fill="#000"/>
<rect x="387" y="353" width="1" height="1" fill="#fff"/>
<rect x="388" y="353" width="4" height="1" fill="#000"/>
<rect x="392" y="353" width="2" height="1" fill="#fff"/>
<rect x="394" y="353" width="4" height="1" fill="#000"/>
<rect x="398" y="353" width="1" height="1" fill="#fff"/>
<rect x="399" y="353" width="5" height="1" fill="#000"/>
<rect x="404" y="353" width="1" height="1" fill="#fff"/>
<rect x="405" y="353" width="6" height="1" fill="#000"/>
<rect x="386" y="354" width="1" height="1" fill="#000"/>
<rect x="387" y="354" width="1" height="1" fill="#fff"/>
<rect x="388" y="354" width="4" height="1" fill="#000"/>
<rect x="392" y="354" width="2" height="1" fill="#fff"/>
<rect x="394" y="354" width="4" height="1" fill="#000"/>
<rect x="398" y="354" width="1" height="1" fill="#fff"/>
<rect x="399" y="354" width="5" height="1" fill="#000"/>
<rect x="404" y="354" width="1" height="1" fill="#fff"/>
<rect x="405" y="354" width="1" height="1" fill="#000"/>
<rect x="406" y="354" width="3" height="1" fill="#fff"/>
<rect x="409" y="354" width="2" height="1" fill="#000"/>
<rect x="386" y="355" width="1" height="1" fill="#000"/>
<rect x="387" y="355" width="1" height="1" fill="#fff"/>
<rect x="388" y="355" width="4" height="1" fill="#000"/>
<rect x="392" y="355" width="2" height="1" fill="#fff"/>
<rect x="394" y="355" width="4" height="1" fill="#000"/>
<rect x="398" y="355" width="1" height="1" fill="#fff"/>
<rect x="399" y="355" width="5" height="1" fill="#000"/>
<rect x="404" y="355" width="1" height="1" fill="#fff"/>
<rect x="405" y="355" width="1" height="1" fill="#000"/>
<rect x="406" y="355" width="3" height="1" fill="#fff"/>
<rect x="409" y="355" width="2" height="1" fill="#000"/>
<rect x="386" y="356" width="1" height="1" fill="#000"/>
<rect x="387" y="356" width="1" height="1" fill="#fff"/>
<rect x="388" y="356" width="4" height="1" fill="#000"/>
<rect x="392" y="356" width="2" height="1" fill="#fff"/>
<rect x="394" y="356" width="4" height="1" fill="#000"/>
<rect x="398" y="356" width="1" height="1" fill="#fff"/>
<rect x="399" y="356" width="5" height="1" fill="#000"/>
<rect x="404" y="356" width="1" height="1" fill="#fff"/>
<rect x="405" y="356" width="6" height="1" fill="#000"/>
<rect x="386" y="357" width="25" height="1" fill="#000"/>
<rect x="386" y="358" width="1" height="1" fill="#000"/>
<rect x="387" y="358" width="1" height="1" fill="#fff"/>
<rect x="388" y="358" width="4" height="1" fill="#000"/>
<rect x="392" y="358" width="2" height="1" fill="#fff"/>
<rect x="394" y="358" width="4" height="1" fill="#000"/>
<rect x="398" y="358" width="1" height="1" fill="#fff"/>
<rect x="399" y="358" width="5" height="1" fill="#000"/>
<rect x="404" y="358" width="1" height="1" fill="#fff"/>
<rect x="405" y="358" width="1" height="1" fill="#000"/>
<rect x="406" y="358" width="3" height="1" fill="#fff"/>
<rect x="409" y="358" width="2" height="1" fill="#000"/>
<rect x="386" y="359" width="1" height="1" fill="#000"/>
<rect x="387" y="359" width="1" height="1" fill="#fff"/>
<rect x="388" y="359" width="4" height="1" fill="#000"/>
<rect x="392" y="359" width="2" height="1" fill="#fff"/>
<rect x="394" y="359" width="4" height="1" fill="#000"/>
<rect x="398" y="359" width="1" height="1" fill="#fff"/>
<rect x="399" y="359" width="5" height="1" fill="#000"/>
<rect x="404" y="359" width="1" height="1" fill="#fff"/>
<rect x="405" y="359" width="1" height="1" fill="#000"/>
<rect x="406" y="359" width="3" height="1" fill="#fff"/>
<rect x="409" y="359" width="2" height="1" fill="#000"/>
<rect x="386" y="360" width="1" height="1" fill="#000"/>
<rect x="387" y="360" width="1" height="1" fill="#fff"/>
<rect x="388" y="360" width="4" height="1" fill="#000"/>
<rect x="392" y="360" width="2" height="1" fill="#fff"/>
<rect x="394" y="360" width="4" height="1" fill="#000"/>
<rect x="398" y="360" width="1" height="1" fill="#fff"/>
<rect x="399" y="360" width="5" height="1" fill="#000"/>
<rect x="404" y="360" width="1" height="1" fill="#fff"/>
<rect x="405" y="360" width="1" height="1" fill="#000"/>
<rect x="406" y="360" width="3" height="1" fill="#fff"/>
<rect x="409" y="360" width="2" height="1" fill="#000"/>
<rect x="386" y="361" width="1" height="1" fill="#000"/>
<rect x="387" y="361" width="1" height="1" fill="#fff"/>
<rect x="388" y="361" width="4" height="1" fill="#000"/>
<rect x="392" y="361" width="2" height="1" fill="#fff"/>
<rect x="394" y="361" width="4" height="1" fill="#000"/>
<rect x="398" y="361" width="1" height="1" fill="#fff"/>
<rect x="399" y="361" width="5" height="1" fill="#000"/>
<rect x="404" y="361" width="1" height="1" fill="#fff"/>
<rect x="405" y="361" width="1" height="1" fill="#000"/>
<rect x="406" y="361" width="3" height="1" fill="#fff"/>
<rect x="409" y="361" width="2" height="1" fill="#000"/>
<rect x="386" y="362" width="1" height="1" fill="#000"/>
<rect x="387" y="362" width="1" height="1" fill="#fff"/>
<rect x="388" y="362" width="4" height="1" fill="#000"/>
<rect x="392" y="362" width="2" height="1" fill="#fff"/>
<rect x="394" y="362" width="4" height="1" fill="#000"/>
<rect x="398" y="362" width="1" height="1" fill="#fff"/>
<rect x="399" y="362" width="5" height="1" fill="#000"/>
<rect x="404" y="362" width="1" height="1" fill="#fff"/>
<rect x="405" y="362" width="6" height="1" fill="#000"/>
<rect x="386" y="363" width="25" height="1" fill="#000"/>
<polyline points="381,354 386,354" fill="none" stroke="#000" stroke-width="2" stroke-linejoin="miter" stroke-linecap="square"/>
<rect x="329" y="345" width="42" height="19" rx="2" fill="#000"/>
<rect x="332" y="347" width="37" height="14" rx="1" fill="#fff"/>
<polygon points="370,349.5 381,353 381,355 370,358.5" fill="#000"/>
<polygon points="368,351.5 378,354 368,356.5" fill="#fff"/>
<text transform="translate(337.50,359) scale(0.75,1)" font-size="14" text-anchor="middle">J</text>
<text transform="translate(345.50,359) scale(0.75,1)" font-size="14" text-anchor="middle">P</text>
<rect x="353" y="349" width="1" height="10" fill="#000"/>
<rect x="352" y="351" width="1" height="1" fill="#000"/>
<rect x="351" y="352" width="1" height="1" fill="#000"/>
<rect x="361" y="349" width="1" height="10" fill="#000"/>
<rect x="360" y="351" width="1" height="1" fill="#000"/>
<rect x="359" y="352" width="1" height="1" fill="#000"/>
<polyline points="400,371 400,363" fill="none" stroke="#000" stroke-width="2" stroke-linejoin="miter" stroke-linecap="square"/>
<rect x="378" y="380" width="44" height="20" rx="2" fill="#000"/>
<rect x="381" y="383" width="38" height="14" rx="1" fill="#fff"/>
<polygon points="395,381 399,370 401,370 405,381" fill="#000"/>
<polygon points="397.5,383 400,374 402.5,383" fill="#fff"/>
<text transform="translate(386.50,394) scale(0.75,1)" font-size="14" text-anchor="middle">J</text>
<text transform="translate(394.83,394) scale(0.75,1)" font-size="14" text-anchor="middle">P</text>
<rect x="403" y="384" width="1" height="10" fill="#000"/>
<rect x="402" y="386" width="1" height="1" fill="#000"/>
<rect x="401" y="387" width="1" height="1" fill="#000"/>
<text transform="translate(411.50,394) scale(0.75,1)" font-size="14" text-anchor="middle">0</text>
<rect x="516" y="401" width="19" height="1" fill="#000"/>
<rect x="516" y="402" width="1" height="1" fill="#000"/>
<rect x="517" y="402" width="17" height="1" fill="#fff"/>
<rect x="534" y="402" width="1" height="1" fill="#000"/>
<rect x="516" y="403" width="5" height="1" fill="#000"/>
<rect x="521" y="403" width="2" height="1" fill="#fff"/>
<rect x="523" y="403" width="4" height="1" fill="#000"/>
<rect x="527" y="403" width="2" height="1" fill="#fff"/>
<rect x="529" y="403" width="4" height="1" fill="#000"/>
<rect x="533" y="403" width="1" height="1" fill="#fff"/>
<rect x="534" y="403" width="1" height="1" fill="#000"/>
<rect x="516" y="404" width="5" height="1" fill="#000"/>
<rect x="521" y="404" width="2" height="1" fill="#fff"/>
<rect x="523" y="404" width="4" height="1" fill="#000"/>
<rect x="527" y="404" width="2" height="1" fill="#fff"/>
<rect x="529" y="404" width="1" height="1" fill="#000"/>
<rect x="530" y="404" width="2" height="1" fill="#fff"/>
<rect x="532" y="404" width="1" height="1" fill="#000"/>
<rect x="533" y="404" width="1" height="1" fill="#fff"/>
<rect x="534" y="404" width="1" height="1" fill="#000"/>
<rect x="516" y="405" width="5" height="1" fill="#000"/>
<rect x="521" y="405" width="2" height="1" fill="#fff"/>
<rect x="523" y="405" width="4" height="1" fill="#000"/>
<rect x="527" y="405" width="2" height="1" fill="#fff"/>
<rect x="529" y="405" width="1" height="1" fill="#000"/>
<rect x="530" y="405" width="2" height="1" fill="#fff"/>
<rect x="532" y="405" width="1" height="1" fill="#000"/>
<rect x="533" y="405" width="1" height="1" fill="#fff"/>
<rect x="534" y="405" width="1" height="1" fill="#000"/>
<rect x="516" y="406" width="5" height="1" fill="#000"/>
<rect x="521" y="406" width="2" height="1" fill="#fff"/>
<rect x="523" y="406" width="4" height="1" fill="#000"/>
<rect x="527" y="406" width="2" height="1" fill="#fff"/>
<rect x="529" y="406" width="4" height="1" fill="#000"/>
<rect x="533" y="406" width="1" height="1" fill="#fff"/>
<rect x="534" y="406" width="1" height="1" fill="#000"/>
<rect x="516" y="407" width="26" height="1" fill="#000"/>
<rect x="516" y="408" width="1" height="1" fill="#000"/>
<rect x="517" y="408" width="1" height="1" fill="#fff"/>
<rect x="518" y="408" width="4" height="1" fill="#000"/>
<rect x="522" y="408" width="2" height="1" fill="#fff"/>
<rect x="524" y="408" width="4" height="1" fill="#000"/>
<rect x="528" y="408" width="1" height="1" fill="#fff"/>
<rect x="529" y="408" width="5" height="1" fill="#000"/>
<rect x="534" y="408" width="1" height="1" fill="#fff"/>
<rect x="535" y="408" width="1" height="1" fill="#000"/>
<rect x="536" y="408" width="3" height="1" fill="#fff"/>
<rect x="539" y="408" width="1" height="1" fill="#000"/>
<rect x="540" y="408" width="1" height="1" fill="#fff"/>
<rect x="541" y="408" width="1" height="1" fill="#000"/>
<rect x="516" y="409" width="1" height="1" fill="#000"/>
<rect x="517" y="409" width="1" height="1" fill="#fff"/>
<rect x="518" y="409" width="4" height="1" fill="#000"/>
<rect x="522" y="409" width="2" height="1" fill="#fff"/>
<rect x="524" y="409" width="4" height="1" fill="#000"/>
<rect x="528" y="409" width="1" height="1" fill="#fff"/>
<rect x="529" y="409" width="5" height="1" fill="#000"/>
<rect x="534" y="409" width="1" height="1" fill="#fff"/>
<rect x="535" y="409" width="1" height="1" fill="#000"/>
<rect x="536" y="409" width="3" height="1" fill="#fff"/>
<rect x="539" y="409" width="1" height="1" fill="#000"/>
<rect x="540" y="409" width="1" height="1" fill="#fff"/>
<rect x="541" y="409" width="1" height="1" fill="#000"/>
<rect x="516" y="410" width="1" height="1" fill="#000"/>
<rect x="517" y="410" width="1" height="1" fill="#fff"/>
<rect x="518" y="410" width="4" height="1" fill="#000"/>
<rect x="522" y="410" width="2" height="1" fill="#fff"/>
<rect x="524" y="410" width="4" height="1" fill="#000"/>
<rect x="528" y="410" width="1" height="1" fill="#fff"/>
<rect x="529" y="410" width="5" height="1" fill="#000"/>
<rect x="534" y="410" width="1" height="1" fill="#fff"/>
<rect x="535" y="410" width="1" height="1" fill="#000"/>
<rect x="536" y="410" width="3" height="1" fill="#fff"/>
<rect x="539" y="410" width="1" height="1" fill="#000"/>
<rect x="540" y="410" width="1" height="1" fill="#fff"/>
<rect x="541" y="410" width="1" height="1" fill="#000"/>
<rect x="516" y="411" width="1" height="1" fill="#000"/>
<rect x="517" y="411" width="1" height="1" fill="#fff"/>
<rect x="518" y="411" width="4" height="1" fill="#000"/>
<rect x="522" y="411" width="2" height="1" fill="#fff"/>
<rect x="524" y="411" width="4" height="1" fill="#000"/>
<rect x="528" y="411" width="1" height="1" fill="#fff"/>
<rect x="529" y="411" width="5" height="1" fill="#000"/>
<rect x="534" y="411" width="1" height="1" fill="#fff"/>
<rect x="535" y="411" width="1" height="1" fill="#000"/>
<rect x="536" y="411" width="3" height="1" fill="#fff"/>
<rect x="539" y="411" width="1" height="1" fill="#000"/>
<rect x="540" y="411" width="1" height="1" fill="#fff"/>
<rect x="541" y="411" width="1" height="1" fill="#000"/>
<rect x="516" y="412" width="1" height="1" fill="#000"/>
<rect x="517" y="412" width="1" height="1" fill="#fff"/>
<rect x="518" y="412" width="4" height="1" fill="#000"/>
<rect x="522" y="412" width="2" height="1" fill="#fff"/>
<rect x="524" y="412" width="4" height="1" fill="#000"/>
<rect x="528" y="412" width="1" height="1" fill="#fff"/>
<rect x="529" y="412" width="5" height="1" fill="#000"/>
<rect x="534" y="412" width="1" height="1" fill="#fff"/>
<rect x="535" y="412" width="5" height="1" fill="#000"/>
<rect x="540" y="412" width="1" height="1" fill="#fff"/>
<rect x="541" y="412" width="1" height="1" fill="#000"/>
<rect x="516" y="413" width="26" height="1" fill="#000"/>
<polygon points="506.24228355337243,394.6363961030679 517.2221825406948,403.7778174593052 518.7778174593052,402.2221825406948 509.6363961030679,391.24228355337243" fill="#000"/>
<rect x="476" y="377" width="34" height="19" rx="2" fill="#000"/>
<rect x="478" y="379" width="30" height="14" rx="1" fill="#fff"/>
<polygon points="506.3129942314911,392.4443650813896 515.3,400.3 507.4443650813896,391.3129942314911" fill="#fff"/>
<text transform="translate(485.00,391) scale(0.75,1)" font-size="14" text-anchor="middle">J</text>
<text transform="translate(493.50,391) scale(0.75,1)" font-size="14" text-anchor="middle">P</text>
<text transform="translate(502.00,391) scale(0.75,1)" font-size="14" text-anchor="middle">5</text>
<polyline points="512,410 516,410" fill="none" stroke="#000" stroke-width="2" stroke-linejoin="miter" stroke-linecap="square"/>
<rect x="465" y="401" width="37" height="19" rx="2" fill="#000"/>
<rect x="467" y="403" width="33" height="14" rx="1" fill="#fff"/>
<polygon points="501,405.5 512,409 512,411 501,414.5" fill="#000"/>
<polygon points="499,407.5 509,410 499,412.5" fill="#fff"/>
<text transform="translate(475.50,414) scale(0.75,1)" font-size="14" text-anchor="middle">J</text>
<text transform="translate(483.00,414) scale(0.75,1)" font-size="14" text-anchor="middle">2</text>
<text transform="translate(490.50,414) scale(0.75,1)" font-size="14" text-anchor="middle">0</text>
</g></svg></body></html>
